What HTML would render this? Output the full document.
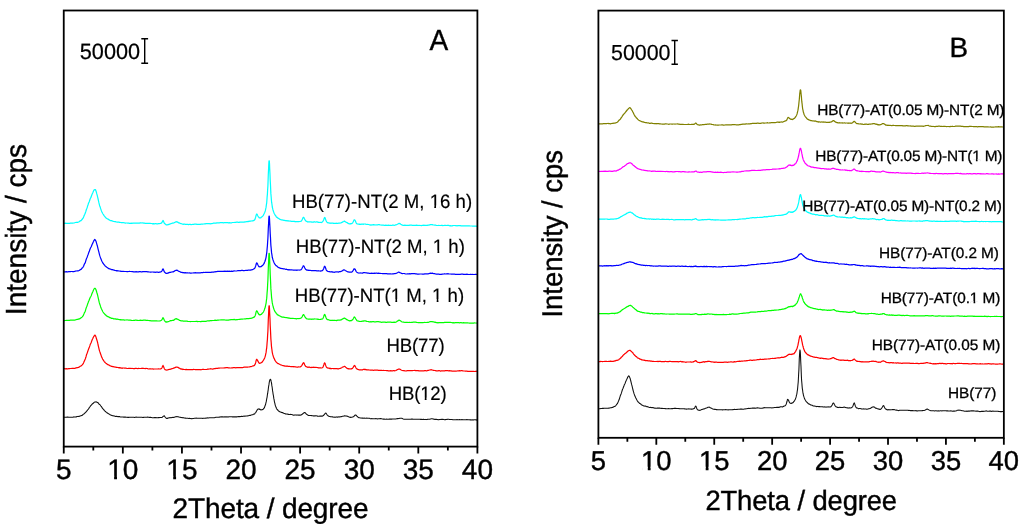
<!DOCTYPE html>
<html lang="en">
<head>
<meta charset="utf-8">
<title>XRD patterns</title>
<style>
html,body{margin:0;padding:0;background:#fff;}
body{width:1024px;height:528px;overflow:hidden;font-family:"Liberation Sans",sans-serif;}
svg{display:block;will-change:transform;}
svg text{font-family:"Liberation Sans",sans-serif;fill:#000;text-rendering:geometricPrecision;}
</style>
</head>
<body>
<svg width="1024" height="528" viewBox="0 0 1024 528">
<rect width="1024" height="528" fill="#fff"/>
<g id="panelA">
<path d="M63.8 417.2 L64.6 417.2 L65.4 417.2 L66.2 417.2 L67.1 417.1 L67.9 417.1 L68.7 417.2 L69.5 417.2 L70.4 417.3 L71.2 417.2 L72.0 417.2 L72.9 417.2 L73.7 416.9 L74.5 417.0 L75.3 417.0 L76.2 416.9 L76.6 416.7 L77.0 416.5 L77.4 416.5 L77.8 416.4 L78.2 416.5 L78.6 416.4 L79.1 416.4 L79.5 416.2 L79.9 416.1 L80.3 416.0 L80.7 415.8 L81.1 415.8 L81.5 415.6 L82.0 415.5 L82.4 415.1 L82.8 414.7 L83.2 414.4 L83.6 414.1 L84.0 413.9 L84.4 413.6 L84.8 413.1 L85.3 412.6 L85.7 412.2 L86.1 411.9 L86.5 411.3 L86.9 410.9 L87.3 410.4 L87.7 409.7 L88.2 409.3 L88.6 408.9 L89.0 408.1 L89.4 407.5 L89.8 407.0 L90.2 406.4 L90.6 405.9 L91.1 405.4 L91.5 404.7 L91.9 404.4 L92.3 404.0 L92.7 403.6 L93.1 403.4 L93.5 403.0 L93.9 402.6 L94.4 402.2 L94.8 402.1 L95.2 402.0 L95.6 401.9 L96.0 401.8 L96.4 401.9 L96.8 402.1 L97.3 402.5 L97.7 402.5 L98.1 402.8 L98.5 403.3 L98.9 403.9 L99.3 404.4 L99.7 404.6 L100.2 404.9 L100.6 405.6 L101.0 406.1 L101.4 406.5 L101.8 407.2 L102.2 407.9 L102.6 408.4 L103.0 408.9 L103.5 409.4 L103.9 409.9 L104.3 410.4 L104.7 410.8 L105.1 411.2 L105.5 411.4 L105.9 411.9 L106.4 412.4 L106.8 412.7 L107.2 412.8 L107.6 413.1 L108.0 413.5 L108.4 413.6 L108.8 413.9 L109.3 414.3 L109.7 414.3 L110.1 414.7 L110.5 415.0 L110.9 415.1 L111.3 415.2 L111.7 415.4 L112.1 415.5 L112.6 415.8 L113.0 415.7 L113.4 415.8 L113.8 416.0 L114.2 416.1 L114.6 416.0 L115.0 416.2 L115.5 416.4 L115.9 416.4 L116.3 416.3 L116.7 416.4 L117.1 416.4 L117.5 416.5 L117.9 416.7 L118.4 416.6 L118.8 416.8 L119.2 416.6 L119.6 416.6 L120.0 416.8 L120.4 416.9 L120.8 417.0 L121.2 417.0 L121.7 417.0 L122.1 417.0 L122.5 417.0 L122.9 417.0 L123.7 417.1 L124.6 417.1 L125.4 417.1 L126.2 417.2 L127.0 417.3 L127.9 417.4 L128.7 417.4 L129.5 417.3 L130.3 417.2 L131.2 417.2 L132.0 417.3 L132.8 417.3 L133.7 417.3 L134.5 417.5 L135.3 417.2 L136.1 417.1 L137.0 417.2 L137.8 417.3 L138.6 417.3 L139.4 417.2 L140.3 417.3 L141.1 417.3 L141.9 417.2 L142.8 417.5 L143.6 417.4 L144.4 417.3 L145.2 417.3 L146.1 417.3 L146.9 417.3 L147.7 417.1 L148.5 417.2 L149.4 417.4 L150.2 417.3 L151.0 417.4 L151.9 417.6 L152.7 417.7 L153.5 417.8 L154.3 417.6 L155.2 417.6 L156.0 417.6 L156.8 417.7 L157.6 417.8 L158.5 417.5 L158.9 417.7 L159.3 417.5 L159.7 417.6 L160.1 417.5 L160.5 417.5 L161.0 417.6 L161.4 417.5 L161.8 417.4 L162.2 417.3 L162.6 417.0 L163.0 416.5 L163.4 416.2 L163.9 415.9 L164.3 415.8 L164.7 416.6 L165.1 416.9 L165.5 417.6 L165.9 417.9 L166.3 418.2 L166.7 418.4 L167.2 418.4 L167.6 418.4 L168.0 418.1 L168.4 417.9 L168.8 418.0 L169.2 417.8 L169.6 417.7 L170.1 417.5 L170.5 417.7 L170.9 417.7 L171.3 417.8 L171.7 417.6 L172.1 417.5 L172.5 417.4 L173.0 417.4 L173.4 417.5 L173.8 417.3 L174.2 417.3 L174.6 417.3 L175.0 417.1 L175.4 416.7 L175.8 416.8 L176.3 416.7 L176.7 416.6 L177.1 416.6 L177.5 416.7 L177.9 416.8 L178.3 416.7 L178.7 416.9 L179.2 417.1 L179.6 417.2 L180.0 417.2 L180.4 417.2 L180.8 417.4 L181.2 417.5 L181.6 417.6 L182.1 417.8 L182.5 417.8 L182.9 417.6 L183.3 417.7 L183.7 417.7 L184.1 417.9 L184.5 418.0 L185.4 418.1 L186.2 418.2 L187.0 418.3 L187.8 418.3 L188.7 418.5 L189.5 418.4 L190.3 418.5 L191.2 418.6 L192.0 418.7 L192.8 418.5 L193.6 418.5 L194.5 418.3 L195.3 418.2 L196.1 418.1 L196.9 418.3 L197.8 418.2 L198.6 418.2 L199.4 418.2 L200.3 418.2 L201.1 418.2 L201.9 418.2 L202.7 418.4 L203.6 418.3 L204.4 418.3 L205.2 418.3 L206.0 418.1 L206.9 418.0 L207.7 417.9 L208.5 418.0 L209.4 417.8 L210.2 417.7 L211.0 417.8 L211.8 417.8 L212.7 417.8 L213.5 417.8 L214.3 417.7 L215.1 417.5 L216.0 417.3 L216.8 417.2 L217.6 417.3 L218.5 417.2 L219.3 417.1 L220.1 417.0 L220.9 416.9 L221.8 416.9 L222.6 416.9 L223.4 417.0 L224.2 416.7 L225.1 416.9 L225.9 416.9 L226.7 416.7 L227.6 416.9 L228.4 416.9 L229.2 416.7 L230.0 416.7 L230.9 416.8 L231.7 416.8 L232.5 416.9 L233.3 416.9 L234.2 416.9 L235.0 416.9 L235.8 416.9 L236.7 416.9 L237.5 416.8 L238.3 416.5 L239.1 416.6 L240.0 416.6 L240.8 416.5 L241.6 416.3 L242.4 416.5 L243.3 416.2 L244.1 416.1 L244.9 416.3 L245.8 416.0 L246.6 416.0 L247.4 416.0 L247.8 415.8 L248.2 415.8 L248.7 415.7 L249.1 415.5 L249.5 415.4 L249.9 415.4 L250.3 415.4 L250.7 415.2 L251.1 415.1 L251.5 414.9 L252.0 414.8 L252.4 414.8 L252.8 414.7 L253.2 414.4 L253.6 414.1 L254.0 414.2 L254.4 414.0 L254.7 413.8 L254.9 413.2 L255.2 413.1 L255.4 412.9 L255.6 412.7 L255.9 412.3 L256.1 411.9 L256.3 411.6 L256.6 410.9 L256.8 410.7 L257.0 410.3 L257.3 409.8 L257.5 409.6 L257.8 409.5 L258.0 409.1 L258.2 408.9 L258.5 409.0 L258.7 409.0 L258.9 409.0 L259.2 408.9 L259.4 409.3 L259.6 409.4 L259.9 409.3 L260.1 409.3 L260.4 409.6 L260.6 409.8 L260.8 409.9 L261.1 410.0 L261.3 409.8 L261.5 409.8 L261.8 409.6 L262.0 409.6 L262.2 409.6 L262.5 409.6 L262.7 409.4 L263.0 409.3 L263.2 409.2 L263.4 409.0 L263.7 408.7 L263.9 408.4 L264.1 408.0 L264.4 407.6 L264.6 407.1 L264.8 406.4 L265.1 405.8 L265.3 405.1 L265.6 404.3 L265.8 403.4 L266.0 402.5 L266.3 401.4 L266.5 400.2 L266.7 398.9 L267.0 397.6 L267.2 396.3 L267.4 394.8 L267.7 393.2 L267.9 391.6 L268.2 389.8 L268.4 388.0 L268.6 386.5 L268.9 384.9 L269.1 383.5 L269.3 382.1 L269.6 380.8 L269.8 380.0 L270.0 379.7 L270.3 379.4 L270.5 379.4 L270.8 379.8 L271.0 380.6 L271.2 381.7 L271.5 382.9 L271.7 384.4 L271.9 385.9 L272.2 387.5 L272.4 389.1 L272.6 390.9 L272.9 392.5 L273.1 394.1 L273.4 395.5 L273.6 396.9 L273.8 398.4 L274.1 399.6 L274.3 401.0 L274.5 402.1 L274.8 403.2 L275.0 404.0 L275.2 405.1 L275.5 405.9 L275.7 406.5 L276.0 407.0 L276.2 407.8 L276.4 408.2 L276.7 408.7 L276.9 409.1 L277.1 409.4 L277.4 409.5 L277.6 409.9 L277.8 410.2 L278.1 410.5 L278.3 410.8 L278.6 410.9 L278.8 411.2 L279.0 411.3 L279.3 411.5 L279.5 411.6 L279.7 411.7 L280.0 411.9 L280.4 412.0 L280.8 412.1 L281.2 412.4 L281.6 412.4 L282.0 412.6 L282.5 412.6 L282.9 412.8 L283.3 413.1 L283.7 413.3 L284.1 413.4 L284.5 413.5 L284.9 413.5 L285.3 413.9 L285.8 414.0 L286.2 414.1 L286.6 414.0 L287.0 414.1 L287.4 414.0 L287.8 414.2 L288.2 414.4 L288.7 414.3 L289.1 414.4 L289.5 414.5 L289.9 414.4 L290.3 414.3 L290.7 414.4 L291.1 414.5 L291.6 414.5 L292.0 414.6 L292.4 414.8 L292.8 414.9 L293.2 415.0 L293.6 415.2 L294.0 415.2 L294.4 415.0 L294.9 415.0 L295.3 415.0 L295.7 414.9 L296.1 415.0 L296.5 415.1 L296.9 415.2 L297.3 415.0 L297.8 415.0 L298.2 415.1 L298.6 415.1 L299.0 415.1 L299.4 415.1 L299.8 415.1 L300.2 415.1 L300.7 415.1 L301.1 415.0 L301.5 414.8 L301.9 414.6 L302.3 414.1 L302.7 413.8 L303.1 413.5 L303.5 413.1 L304.0 412.8 L304.4 412.6 L304.8 412.5 L305.2 412.8 L305.6 413.2 L306.0 413.7 L306.4 414.2 L306.9 414.6 L307.3 414.8 L307.7 415.0 L308.1 415.2 L308.5 415.4 L308.9 415.5 L309.3 415.5 L309.8 415.4 L310.2 415.5 L310.6 415.5 L311.0 415.5 L311.4 415.6 L311.8 415.6 L312.2 415.7 L312.6 415.7 L313.1 415.7 L313.5 416.0 L313.9 415.9 L314.3 415.9 L314.7 415.9 L315.1 416.0 L315.5 415.7 L316.0 415.7 L316.4 415.8 L316.8 415.9 L317.2 416.1 L317.6 416.1 L318.0 416.2 L318.4 416.2 L318.9 416.2 L319.3 416.2 L319.7 416.1 L320.1 416.2 L320.5 416.0 L320.9 416.2 L321.3 416.0 L321.7 416.0 L322.2 416.2 L322.6 416.0 L323.0 415.8 L323.4 415.6 L323.8 415.2 L324.2 414.6 L324.6 414.1 L325.1 413.6 L325.5 413.2 L325.9 413.0 L326.3 413.5 L326.7 414.2 L327.1 414.8 L327.5 415.3 L328.0 415.6 L328.4 416.1 L328.8 416.2 L329.2 416.4 L329.6 416.5 L330.0 416.5 L330.4 416.7 L330.8 416.8 L331.3 416.8 L331.7 416.8 L332.1 416.9 L332.5 416.9 L332.9 416.9 L333.3 417.1 L333.7 417.2 L334.2 417.1 L334.6 417.3 L335.0 417.2 L335.4 417.2 L335.8 417.1 L336.2 417.1 L336.6 416.9 L337.1 417.1 L337.5 417.3 L337.9 417.1 L338.3 416.9 L338.7 416.8 L339.1 417.0 L339.5 416.9 L340.0 416.9 L340.4 416.8 L340.8 416.8 L341.2 416.6 L341.6 416.6 L342.0 416.4 L342.4 416.3 L342.8 416.3 L343.3 416.2 L343.7 416.1 L344.1 415.9 L344.5 415.9 L344.9 415.8 L345.3 416.0 L345.7 416.0 L346.2 416.0 L346.6 416.1 L347.0 416.1 L347.4 416.2 L347.8 416.4 L348.2 416.6 L348.6 416.8 L349.1 417.0 L349.5 417.2 L349.9 417.2 L350.3 417.2 L350.7 417.5 L351.1 417.2 L351.5 417.2 L351.9 417.2 L352.4 417.1 L352.8 417.0 L353.2 416.7 L353.6 416.5 L354.0 416.2 L354.4 415.9 L354.8 415.3 L355.3 415.1 L355.7 415.1 L356.1 415.3 L356.5 415.6 L356.9 416.1 L357.3 416.5 L357.7 416.9 L358.2 417.3 L358.6 417.5 L359.0 417.8 L359.4 417.8 L359.8 417.8 L360.2 417.9 L360.6 418.0 L361.0 418.0 L361.5 418.1 L361.9 418.2 L362.3 418.1 L362.7 418.1 L363.1 418.3 L363.5 418.2 L363.9 418.1 L364.4 418.1 L364.8 418.2 L365.2 418.2 L366.0 418.2 L366.8 418.1 L367.7 418.2 L368.5 418.3 L369.3 418.3 L370.1 418.6 L371.0 418.7 L371.8 418.6 L372.6 418.7 L373.5 418.7 L374.3 418.8 L375.1 418.8 L375.9 418.6 L376.8 418.7 L377.6 418.9 L378.4 418.8 L379.2 418.7 L380.1 418.6 L380.9 418.6 L381.7 418.8 L382.6 419.0 L383.4 419.1 L384.2 419.1 L385.0 419.3 L385.9 419.2 L386.7 419.1 L387.5 419.2 L388.3 419.2 L389.2 419.1 L390.0 419.0 L390.8 419.1 L391.7 419.1 L392.5 419.0 L393.3 419.0 L394.1 419.0 L395.0 419.0 L395.8 419.0 L396.6 418.8 L397.4 418.6 L398.3 418.6 L399.1 418.4 L399.9 418.2 L400.8 418.3 L401.6 418.3 L402.4 418.6 L403.2 418.9 L404.1 419.2 L404.9 419.2 L405.7 419.2 L406.5 419.3 L407.4 419.2 L408.2 419.2 L409.0 419.2 L409.9 419.3 L410.7 419.2 L411.5 419.0 L412.3 419.1 L413.2 419.2 L414.0 419.2 L414.8 419.3 L415.6 419.3 L416.5 419.2 L417.3 419.3 L418.1 419.2 L419.0 419.2 L419.8 419.3 L420.6 419.4 L421.4 419.4 L422.3 419.5 L423.1 419.4 L423.9 419.4 L424.7 419.6 L425.6 419.4 L426.4 419.6 L427.2 419.4 L428.1 419.3 L428.9 419.2 L429.7 419.2 L430.5 418.9 L431.4 418.7 L432.2 418.8 L433.0 419.0 L433.8 419.1 L434.7 419.4 L435.5 419.4 L436.3 419.4 L437.2 419.5 L438.0 419.6 L438.8 419.7 L439.6 419.5 L440.5 419.5 L441.3 419.2 L442.1 419.4 L442.9 419.4 L443.8 419.5 L444.6 419.7 L445.4 419.6 L446.3 419.5 L447.1 419.4 L447.9 419.3 L448.7 419.3 L449.6 419.5 L450.4 419.5 L451.2 419.5 L452.0 419.5 L452.9 419.7 L453.7 419.7 L454.5 419.7 L455.4 419.8 L456.2 419.7 L457.0 419.6 L457.8 419.8 L458.7 419.8 L459.5 419.6 L460.3 419.7 L461.1 419.7 L462.0 419.5 L462.8 419.7 L463.6 419.8 L464.5 419.8 L465.3 419.8 L466.1 419.8 L466.9 419.6 L467.8 419.8 L468.6 419.8 L469.4 419.8 L470.2 419.9 L471.1 419.9 L471.9 420.0 L472.7 419.9 L473.6 419.9 L474.4 419.7 L475.2 419.8 L476.0 419.9 L477.4 420.1" fill="none" stroke="#111111" stroke-width="1.07" stroke-linejoin="round"/>
<path d="M63.8 368.7 L64.6 368.7 L65.4 368.8 L66.2 368.7 L67.1 368.8 L67.9 368.8 L68.7 368.7 L69.5 368.7 L70.4 368.5 L71.2 368.5 L72.0 368.4 L72.9 368.4 L73.7 368.4 L74.5 368.5 L75.3 368.1 L76.2 367.8 L76.6 367.8 L77.0 367.6 L77.4 367.6 L77.8 367.6 L78.2 367.5 L78.6 367.4 L79.1 367.0 L79.5 366.9 L79.9 366.5 L80.3 366.2 L80.7 366.0 L81.1 365.9 L81.5 365.6 L82.0 365.1 L82.4 364.5 L82.8 364.1 L83.2 363.7 L83.6 362.8 L84.0 361.8 L84.4 360.9 L84.8 360.0 L85.3 358.9 L85.7 357.8 L86.1 356.4 L86.5 354.8 L86.9 353.8 L87.3 352.7 L87.7 351.5 L88.2 350.1 L88.6 349.0 L89.0 348.0 L89.4 347.0 L89.8 345.9 L90.2 344.6 L90.6 343.7 L91.1 342.8 L91.5 341.6 L91.9 340.5 L92.3 339.5 L92.7 338.8 L93.1 337.8 L93.5 337.0 L93.9 336.2 L94.4 335.7 L94.8 335.1 L95.2 335.3 L95.6 336.0 L96.0 337.1 L96.4 338.5 L96.8 339.8 L97.3 341.4 L97.7 343.0 L98.1 345.0 L98.5 346.7 L98.9 348.4 L99.3 350.1 L99.7 351.4 L100.2 352.8 L100.6 354.1 L101.0 355.1 L101.4 356.2 L101.8 357.4 L102.2 358.0 L102.6 358.9 L103.0 359.7 L103.5 360.4 L103.9 361.0 L104.3 361.6 L104.7 362.0 L105.1 362.5 L105.5 362.9 L105.9 363.3 L106.4 363.5 L106.8 363.8 L107.2 364.3 L107.6 364.6 L108.0 364.7 L108.4 364.8 L108.8 365.0 L109.3 365.3 L109.7 365.6 L110.1 365.8 L110.5 365.9 L110.9 366.0 L111.3 366.3 L111.7 366.3 L112.1 366.4 L112.6 366.6 L113.0 366.7 L113.4 366.7 L113.8 366.8 L114.2 366.8 L114.6 367.0 L115.0 367.1 L115.5 367.1 L115.9 367.2 L116.3 367.3 L116.7 367.3 L117.1 367.4 L117.5 367.5 L117.9 367.5 L118.4 367.6 L118.8 367.8 L119.2 367.7 L119.6 367.8 L120.0 367.7 L120.4 368.0 L120.8 367.9 L121.2 368.1 L121.7 368.0 L122.1 368.1 L122.5 368.3 L122.9 368.0 L123.7 368.0 L124.6 368.2 L125.4 368.2 L126.2 368.2 L127.0 368.5 L127.9 368.5 L128.7 368.3 L129.5 368.4 L130.3 368.3 L131.2 368.5 L132.0 368.4 L132.8 368.5 L133.7 368.6 L134.5 368.6 L135.3 368.4 L136.1 368.3 L137.0 368.5 L137.8 368.6 L138.6 368.4 L139.4 368.5 L140.3 368.5 L141.1 368.5 L141.9 368.2 L142.8 368.3 L143.6 368.4 L144.4 368.5 L145.2 368.6 L146.1 368.4 L146.9 368.5 L147.7 368.7 L148.5 369.0 L149.4 368.8 L150.2 368.8 L151.0 368.9 L151.9 369.0 L152.7 368.9 L153.5 369.1 L154.3 369.0 L155.2 369.0 L156.0 369.0 L156.8 369.0 L157.6 369.0 L158.5 368.8 L158.9 369.0 L159.3 369.0 L159.7 369.0 L160.1 368.9 L160.5 369.0 L161.0 368.7 L161.4 368.5 L161.8 368.1 L162.2 367.3 L162.6 366.2 L163.0 365.4 L163.4 366.3 L163.9 367.5 L164.3 368.5 L164.7 369.1 L165.1 369.6 L165.5 369.8 L165.9 369.9 L166.3 370.0 L166.7 370.1 L167.2 370.0 L167.6 369.9 L168.0 369.8 L168.4 369.6 L168.8 369.5 L169.2 369.3 L169.6 369.3 L170.1 369.3 L170.5 369.2 L170.9 369.0 L171.3 368.9 L171.7 368.9 L172.1 368.6 L172.5 368.5 L173.0 368.4 L173.4 368.2 L173.8 368.1 L174.2 367.9 L174.6 367.8 L175.0 367.6 L175.4 367.4 L175.8 367.2 L176.3 367.1 L176.7 367.1 L177.1 367.1 L177.5 367.3 L177.9 367.3 L178.3 367.6 L178.7 367.9 L179.2 368.1 L179.6 368.3 L180.0 368.6 L180.4 368.8 L180.8 369.1 L181.2 368.9 L181.6 369.1 L182.1 369.0 L182.5 369.3 L182.9 369.6 L183.3 369.3 L183.7 369.4 L184.1 369.5 L184.5 369.5 L185.4 369.6 L186.2 369.4 L187.0 369.6 L187.8 369.7 L188.7 369.7 L189.5 369.6 L190.3 369.7 L191.2 369.7 L192.0 369.7 L192.8 369.6 L193.6 369.4 L194.5 369.5 L195.3 369.6 L196.1 369.7 L196.9 369.6 L197.8 369.6 L198.6 369.6 L199.4 369.6 L200.3 369.7 L201.1 369.8 L201.9 369.5 L202.7 369.3 L203.6 369.4 L204.4 369.5 L205.2 369.5 L206.0 369.5 L206.9 369.3 L207.7 369.1 L208.5 369.2 L209.4 369.0 L210.2 368.8 L211.0 368.7 L211.8 369.0 L212.7 369.1 L213.5 368.8 L214.3 368.6 L215.1 368.6 L216.0 368.4 L216.8 368.4 L217.6 368.3 L218.5 368.1 L219.3 368.2 L220.1 368.0 L220.9 368.0 L221.8 368.0 L222.6 368.0 L223.4 368.0 L224.2 367.9 L225.1 367.8 L225.9 367.7 L226.7 367.7 L227.6 367.7 L228.4 367.8 L229.2 367.9 L230.0 368.0 L230.9 368.0 L231.7 367.9 L232.5 367.8 L233.3 367.6 L234.2 367.6 L235.0 367.7 L235.8 367.8 L236.7 367.7 L237.5 367.6 L238.3 367.7 L239.1 367.6 L240.0 367.6 L240.8 367.6 L241.6 367.5 L242.4 367.6 L243.3 367.4 L244.1 367.2 L244.9 367.1 L245.8 367.0 L246.6 367.1 L247.4 367.2 L247.8 367.1 L248.2 367.0 L248.7 367.0 L249.1 367.0 L249.5 367.0 L249.9 366.7 L250.3 366.5 L250.7 366.5 L251.1 366.6 L251.5 366.5 L252.0 366.3 L252.4 366.1 L252.8 366.0 L253.2 365.8 L253.4 365.9 L253.7 365.7 L253.9 365.6 L254.1 365.6 L254.4 365.5 L254.6 365.1 L254.9 364.7 L255.1 364.2 L255.3 363.7 L255.6 362.9 L255.8 362.1 L256.0 361.0 L256.3 360.1 L256.5 359.4 L256.7 359.3 L257.0 359.6 L257.2 359.7 L257.5 360.2 L257.7 360.7 L257.9 361.2 L258.2 361.6 L258.4 362.1 L258.6 362.6 L258.9 362.9 L259.1 363.1 L259.3 363.0 L259.6 363.3 L259.8 363.3 L260.1 363.2 L260.3 363.1 L260.5 363.0 L260.8 362.9 L261.0 362.8 L261.2 362.8 L261.5 362.6 L261.7 362.4 L261.9 362.2 L262.2 362.1 L262.4 361.8 L262.7 361.3 L262.9 361.1 L263.1 360.7 L263.4 360.3 L263.6 360.0 L263.8 359.7 L264.1 359.1 L264.3 358.7 L264.5 358.3 L264.8 357.7 L265.0 356.9 L265.3 356.1 L265.5 355.1 L265.7 354.1 L266.0 352.9 L266.2 351.5 L266.4 349.6 L266.7 347.8 L266.9 345.5 L267.1 342.8 L267.4 339.5 L267.6 335.6 L267.9 331.2 L268.1 325.6 L268.3 319.7 L268.6 313.7 L268.8 308.7 L269.0 305.8 L269.3 305.9 L269.5 308.7 L269.7 313.5 L270.0 319.2 L270.2 325.2 L270.5 330.5 L270.7 335.1 L270.9 339.1 L271.2 342.5 L271.4 345.4 L271.6 347.7 L271.9 349.5 L272.1 351.1 L272.3 352.6 L272.6 353.8 L272.8 354.7 L273.1 355.6 L273.3 356.4 L273.5 357.1 L273.8 357.7 L274.0 358.2 L274.2 358.7 L274.5 359.1 L274.7 359.8 L274.9 360.2 L275.2 360.5 L275.4 361.0 L275.7 361.4 L275.9 361.4 L276.1 361.9 L276.4 362.2 L276.6 362.6 L276.8 362.6 L277.1 362.9 L277.3 363.1 L277.5 363.2 L277.8 363.4 L278.0 363.6 L278.3 363.6 L278.5 363.6 L278.7 363.7 L279.1 364.0 L279.6 364.2 L280.0 364.5 L280.4 364.7 L280.8 364.9 L281.2 365.0 L281.6 365.1 L282.0 365.3 L282.5 365.5 L282.9 365.6 L283.3 365.6 L283.7 365.8 L284.1 365.8 L284.5 365.9 L284.9 366.1 L285.3 366.1 L285.8 366.2 L286.2 366.1 L286.6 366.2 L287.0 366.3 L287.4 366.1 L287.8 366.3 L288.2 366.3 L288.7 366.5 L289.1 366.4 L289.5 366.4 L289.9 366.5 L290.3 366.5 L290.7 366.6 L291.1 366.6 L291.6 366.7 L292.0 366.7 L292.4 366.7 L292.8 366.5 L293.2 366.7 L293.6 366.8 L294.0 366.6 L294.4 366.7 L294.9 366.8 L295.3 366.9 L295.7 366.8 L296.1 367.0 L296.5 367.0 L296.9 367.2 L297.3 367.1 L297.8 367.1 L298.2 367.0 L298.6 366.8 L299.0 366.9 L299.4 367.0 L299.8 367.0 L300.2 366.9 L300.7 366.7 L301.1 366.2 L301.5 365.9 L301.9 365.3 L302.3 364.6 L302.7 363.9 L303.1 363.1 L303.5 362.7 L304.0 363.1 L304.4 364.0 L304.8 364.9 L305.2 365.7 L305.6 366.3 L306.0 366.6 L306.4 366.7 L306.9 367.0 L307.3 367.1 L307.7 367.3 L308.1 367.2 L308.5 367.2 L308.9 367.3 L309.3 367.2 L309.8 367.2 L310.2 367.4 L310.6 367.5 L311.0 367.6 L311.4 367.4 L311.8 367.3 L312.2 367.3 L312.6 367.4 L313.1 367.4 L313.5 367.2 L313.9 367.3 L314.3 367.4 L314.7 367.4 L315.1 367.4 L315.5 367.4 L316.0 367.5 L316.4 367.5 L316.8 367.4 L317.2 367.5 L317.6 367.6 L318.0 367.7 L318.4 367.8 L318.9 367.8 L319.3 367.8 L319.7 367.8 L320.1 367.8 L320.5 368.0 L320.9 367.9 L321.3 368.0 L321.7 368.0 L322.2 367.8 L322.6 367.5 L323.0 367.1 L323.4 366.1 L323.8 364.9 L324.2 363.5 L324.6 362.8 L325.1 363.4 L325.5 364.7 L325.9 365.9 L326.3 366.8 L326.7 367.4 L327.1 367.6 L327.5 368.0 L328.0 368.1 L328.4 368.1 L328.8 368.1 L329.2 368.2 L329.6 368.4 L330.0 368.6 L330.4 368.4 L330.8 368.6 L331.3 368.7 L331.7 368.6 L332.1 368.5 L332.5 368.5 L332.9 368.5 L333.3 368.6 L333.7 368.6 L334.2 368.5 L334.6 368.6 L335.0 368.5 L335.4 368.7 L335.8 368.6 L336.2 368.6 L336.6 368.6 L337.1 368.6 L337.5 368.8 L337.9 368.9 L338.3 368.9 L338.7 368.8 L339.1 368.6 L339.5 368.5 L340.0 368.4 L340.4 368.3 L340.8 368.2 L341.2 368.0 L341.6 367.8 L342.0 367.5 L342.4 367.1 L342.8 367.0 L343.3 366.9 L343.7 366.7 L344.1 366.5 L344.5 366.3 L344.9 366.5 L345.3 366.9 L345.7 367.3 L346.2 367.6 L346.6 368.0 L347.0 368.3 L347.4 368.4 L347.8 368.7 L348.2 368.8 L348.6 368.7 L349.1 368.8 L349.5 368.8 L349.9 368.9 L350.3 369.0 L350.7 368.9 L351.1 368.7 L351.5 368.8 L351.9 368.7 L352.4 368.5 L352.8 367.8 L353.2 367.3 L353.6 366.7 L354.0 366.0 L354.4 365.5 L354.8 365.7 L355.3 366.4 L355.7 367.3 L356.1 368.1 L356.5 368.6 L356.9 368.8 L357.3 369.2 L357.7 369.3 L358.2 369.5 L358.6 369.6 L359.0 369.8 L359.4 369.9 L359.8 369.8 L360.2 369.8 L360.6 370.0 L361.0 369.8 L361.5 369.8 L361.9 369.9 L362.3 369.9 L362.7 369.8 L363.1 369.5 L363.5 369.3 L363.9 369.3 L364.4 369.4 L364.8 369.6 L365.2 369.4 L366.0 369.6 L366.8 369.9 L367.7 369.8 L368.5 369.9 L369.3 370.0 L370.1 370.1 L371.0 370.1 L371.8 370.2 L372.6 370.2 L373.5 370.3 L374.3 370.2 L375.1 370.1 L375.9 370.2 L376.8 370.1 L377.6 370.1 L378.4 370.3 L379.2 370.3 L380.1 370.3 L380.9 370.4 L381.7 370.4 L382.6 370.5 L383.4 370.4 L384.2 370.5 L385.0 370.5 L385.9 370.5 L386.7 370.7 L387.5 370.6 L388.3 370.8 L389.2 370.8 L390.0 370.9 L390.8 370.7 L391.7 370.8 L392.5 370.8 L393.3 370.7 L394.1 370.6 L395.0 370.8 L395.8 370.5 L396.6 370.1 L397.4 369.6 L398.3 369.2 L399.1 369.0 L399.9 369.2 L400.8 369.8 L401.6 370.2 L402.4 370.5 L403.2 370.7 L404.1 370.7 L404.9 370.8 L405.7 371.0 L406.5 370.8 L407.4 370.7 L408.2 370.6 L409.0 370.5 L409.9 370.6 L410.7 370.5 L411.5 370.6 L412.3 370.7 L413.2 370.5 L414.0 370.5 L414.8 370.4 L415.6 370.6 L416.5 370.6 L417.3 370.7 L418.1 370.7 L419.0 370.9 L419.8 370.8 L420.6 370.9 L421.4 370.8 L422.3 370.9 L423.1 370.8 L423.9 370.8 L424.7 370.6 L425.6 370.6 L426.4 370.8 L427.2 370.7 L428.1 370.4 L428.9 370.3 L429.7 370.0 L430.5 369.8 L431.4 369.7 L432.2 370.0 L433.0 370.3 L433.8 370.4 L434.7 370.5 L435.5 370.6 L436.3 370.9 L437.2 370.9 L438.0 370.9 L438.8 370.7 L439.6 370.7 L440.5 371.1 L441.3 370.9 L442.1 370.9 L442.9 370.9 L443.8 370.9 L444.6 370.8 L445.4 370.6 L446.3 370.5 L447.1 370.7 L447.9 370.7 L448.7 370.8 L449.6 370.7 L450.4 370.8 L451.2 370.9 L452.0 371.1 L452.9 371.0 L453.7 371.1 L454.5 371.2 L455.4 371.1 L456.2 371.1 L457.0 371.0 L457.8 370.9 L458.7 370.9 L459.5 370.7 L460.3 370.8 L461.1 370.7 L462.0 370.7 L462.8 370.8 L463.6 371.0 L464.5 371.0 L465.3 371.2 L466.1 371.1 L466.9 371.1 L467.8 371.3 L468.6 371.3 L469.4 371.4 L470.2 371.3 L471.1 371.4 L471.9 371.4 L472.7 371.4 L473.6 371.4 L474.4 371.5 L475.2 371.4 L476.0 371.3 L477.4 371.2" fill="none" stroke="#ff0000" stroke-width="1.22" stroke-linejoin="round"/>
<path d="M63.8 320.7 L64.6 320.6 L65.4 320.5 L66.2 320.4 L67.1 320.4 L67.9 320.3 L68.7 320.3 L69.5 320.3 L70.4 320.2 L71.2 320.1 L72.0 320.2 L72.9 320.1 L73.7 320.1 L74.5 320.1 L75.3 320.0 L76.2 319.6 L76.6 319.5 L77.0 319.4 L77.4 319.5 L77.8 319.3 L78.2 319.2 L78.6 319.1 L79.1 318.9 L79.5 318.9 L79.9 318.6 L80.3 318.4 L80.7 318.1 L81.1 317.8 L81.5 317.6 L82.0 317.1 L82.4 316.6 L82.8 316.1 L83.2 315.7 L83.6 314.7 L84.0 313.8 L84.4 312.8 L84.8 312.1 L85.3 311.2 L85.7 309.6 L86.1 308.2 L86.5 307.1 L86.9 306.2 L87.3 305.1 L87.7 303.8 L88.2 302.5 L88.6 301.3 L89.0 300.6 L89.4 299.6 L89.8 298.6 L90.2 297.4 L90.6 296.8 L91.1 296.0 L91.5 294.9 L91.9 293.8 L92.3 292.7 L92.7 291.9 L93.1 290.9 L93.5 290.1 L93.9 289.2 L94.4 288.6 L94.8 288.3 L95.2 288.4 L95.6 288.9 L96.0 289.7 L96.4 291.0 L96.8 292.5 L97.3 294.0 L97.7 295.7 L98.1 297.3 L98.5 299.2 L98.9 300.9 L99.3 302.7 L99.7 304.1 L100.2 305.3 L100.6 306.7 L101.0 307.7 L101.4 308.7 L101.8 309.6 L102.2 310.3 L102.6 311.3 L103.0 312.0 L103.5 312.7 L103.9 313.2 L104.3 313.6 L104.7 314.0 L105.1 314.6 L105.5 314.8 L105.9 315.2 L106.4 315.7 L106.8 316.1 L107.2 316.2 L107.6 316.6 L108.0 316.7 L108.4 316.8 L108.8 316.9 L109.3 317.3 L109.7 317.7 L110.1 317.7 L110.5 317.8 L110.9 317.9 L111.3 318.3 L111.7 318.4 L112.1 318.4 L112.6 318.3 L113.0 318.4 L113.4 318.7 L113.8 319.0 L114.2 318.9 L114.6 318.9 L115.0 318.9 L115.5 318.9 L115.9 319.1 L116.3 319.1 L116.7 319.3 L117.1 319.2 L117.5 319.2 L117.9 319.3 L118.4 319.4 L118.8 319.5 L119.2 319.6 L119.6 319.5 L120.0 319.7 L120.4 319.8 L120.8 319.6 L121.2 319.9 L121.7 319.9 L122.1 320.0 L122.5 319.8 L122.9 319.8 L123.7 319.9 L124.6 320.1 L125.4 320.0 L126.2 320.0 L127.0 319.9 L127.9 320.0 L128.7 320.2 L129.5 320.1 L130.3 320.1 L131.2 320.3 L132.0 320.5 L132.8 320.5 L133.7 320.4 L134.5 320.3 L135.3 320.2 L136.1 320.2 L137.0 320.3 L137.8 320.3 L138.6 320.5 L139.4 320.4 L140.3 320.2 L141.1 320.4 L141.9 320.4 L142.8 320.4 L143.6 320.2 L144.4 320.1 L145.2 320.1 L146.1 320.3 L146.9 320.3 L147.7 320.3 L148.5 320.5 L149.4 320.6 L150.2 320.7 L151.0 320.8 L151.9 320.9 L152.7 320.8 L153.5 320.9 L154.3 320.8 L155.2 320.9 L156.0 320.9 L156.8 320.9 L157.6 321.0 L158.5 321.0 L158.9 321.0 L159.3 321.0 L159.7 321.0 L160.1 320.8 L160.5 320.7 L161.0 320.5 L161.4 320.3 L161.8 319.8 L162.2 319.4 L162.6 318.3 L163.0 317.7 L163.4 318.2 L163.9 319.3 L164.3 320.2 L164.7 320.9 L165.1 321.3 L165.5 321.8 L165.9 321.9 L166.3 322.1 L166.7 321.9 L167.2 321.9 L167.6 321.9 L168.0 321.7 L168.4 321.6 L168.8 321.5 L169.2 321.3 L169.6 321.0 L170.1 320.9 L170.5 320.6 L170.9 320.7 L171.3 320.7 L171.7 320.6 L172.1 320.5 L172.5 320.3 L173.0 320.4 L173.4 320.4 L173.8 320.1 L174.2 319.9 L174.6 319.5 L175.0 319.1 L175.4 318.9 L175.8 318.8 L176.3 318.7 L176.7 318.8 L177.1 319.2 L177.5 319.2 L177.9 319.4 L178.3 319.6 L178.7 319.8 L179.2 320.1 L179.6 320.5 L180.0 320.5 L180.4 320.6 L180.8 320.7 L181.2 320.9 L181.6 320.8 L182.1 320.8 L182.5 320.8 L182.9 321.0 L183.3 321.2 L183.7 321.2 L184.1 321.1 L184.5 321.2 L185.4 321.2 L186.2 321.2 L187.0 321.2 L187.8 321.4 L188.7 321.5 L189.5 321.5 L190.3 321.6 L191.2 321.5 L192.0 321.5 L192.8 321.5 L193.6 321.5 L194.5 321.5 L195.3 321.5 L196.1 321.4 L196.9 321.3 L197.8 321.6 L198.6 321.5 L199.4 321.5 L200.3 321.6 L201.1 321.6 L201.9 321.3 L202.7 321.3 L203.6 321.3 L204.4 321.4 L205.2 321.4 L206.0 321.3 L206.9 321.0 L207.7 320.9 L208.5 320.9 L209.4 320.9 L210.2 320.7 L211.0 320.6 L211.8 320.6 L212.7 320.5 L213.5 320.5 L214.3 320.4 L215.1 320.2 L216.0 320.3 L216.8 320.3 L217.6 320.1 L218.5 320.1 L219.3 320.0 L220.1 320.0 L220.9 319.9 L221.8 319.8 L222.6 319.8 L223.4 319.9 L224.2 319.8 L225.1 320.0 L225.9 320.1 L226.7 320.2 L227.6 320.2 L228.4 320.1 L229.2 319.9 L230.0 319.8 L230.9 319.7 L231.7 319.7 L232.5 319.6 L233.3 319.7 L234.2 319.4 L235.0 319.7 L235.8 319.8 L236.7 319.6 L237.5 319.6 L238.3 319.5 L239.1 319.4 L240.0 319.3 L240.8 319.2 L241.6 319.1 L242.4 319.1 L243.3 319.0 L244.1 319.0 L244.9 318.8 L245.8 318.8 L246.6 318.7 L247.4 318.7 L247.8 318.6 L248.2 318.6 L248.7 318.6 L249.1 318.6 L249.5 318.5 L249.9 318.3 L250.3 318.3 L250.7 318.3 L251.1 318.3 L251.5 318.2 L252.0 318.0 L252.4 317.9 L252.8 317.8 L253.2 317.5 L253.4 317.4 L253.7 317.3 L253.9 317.3 L254.1 317.0 L254.4 316.7 L254.6 316.6 L254.9 316.1 L255.1 315.7 L255.3 315.1 L255.6 314.4 L255.8 313.4 L256.0 312.4 L256.3 311.5 L256.5 311.0 L256.7 310.8 L257.0 311.1 L257.2 311.2 L257.5 311.7 L257.7 312.2 L257.9 312.9 L258.2 313.2 L258.4 313.7 L258.6 314.0 L258.9 314.3 L259.1 314.7 L259.3 314.7 L259.6 314.8 L259.8 314.7 L260.1 314.8 L260.3 314.8 L260.5 314.7 L260.8 314.4 L261.0 314.4 L261.2 314.3 L261.5 314.2 L261.7 314.0 L261.9 313.6 L262.2 313.3 L262.4 313.2 L262.7 312.8 L262.9 312.6 L263.1 312.4 L263.4 312.0 L263.6 311.6 L263.8 311.1 L264.1 310.4 L264.3 309.9 L264.5 309.2 L264.8 308.6 L265.0 307.9 L265.3 307.0 L265.5 306.0 L265.7 304.9 L266.0 303.6 L266.2 302.3 L266.4 300.5 L266.7 298.4 L266.9 295.8 L267.1 292.8 L267.4 289.4 L267.6 285.2 L267.9 280.0 L268.1 274.2 L268.3 268.0 L268.6 261.7 L268.8 256.6 L269.0 253.4 L269.3 253.4 L269.5 256.4 L269.7 261.5 L270.0 267.7 L270.2 274.0 L270.5 279.7 L270.7 284.6 L270.9 288.9 L271.2 292.2 L271.4 295.0 L271.6 297.6 L271.9 299.8 L272.1 301.5 L272.3 302.9 L272.6 304.4 L272.8 305.2 L273.1 306.2 L273.3 307.2 L273.5 308.1 L273.8 308.7 L274.0 309.2 L274.2 310.0 L274.5 310.5 L274.7 310.9 L274.9 311.4 L275.2 311.9 L275.4 312.0 L275.7 312.5 L275.9 312.9 L276.1 313.0 L276.4 313.4 L276.6 313.5 L276.8 314.0 L277.1 314.2 L277.3 314.7 L277.5 314.7 L277.8 314.8 L278.0 315.1 L278.3 315.2 L278.5 315.2 L278.7 315.4 L279.1 315.6 L279.6 315.8 L280.0 316.1 L280.4 316.3 L280.8 316.5 L281.2 316.8 L281.6 316.8 L282.0 317.1 L282.5 317.0 L282.9 317.2 L283.3 317.1 L283.7 317.2 L284.1 317.3 L284.5 317.4 L284.9 317.4 L285.3 317.5 L285.8 317.6 L286.2 317.5 L286.6 317.6 L287.0 317.7 L287.4 317.8 L287.8 317.8 L288.2 317.9 L288.7 318.1 L289.1 318.1 L289.5 318.1 L289.9 318.3 L290.3 318.4 L290.7 318.4 L291.1 318.5 L291.6 318.4 L292.0 318.4 L292.4 318.5 L292.8 318.4 L293.2 318.4 L293.6 318.5 L294.0 318.5 L294.4 318.5 L294.9 318.6 L295.3 318.6 L295.7 318.7 L296.1 318.7 L296.5 318.8 L296.9 318.8 L297.3 318.6 L297.8 318.5 L298.2 318.5 L298.6 318.6 L299.0 318.7 L299.4 318.5 L299.8 318.5 L300.2 318.3 L300.7 318.2 L301.1 318.0 L301.5 317.7 L301.9 317.2 L302.3 316.6 L302.7 315.6 L303.1 314.9 L303.5 314.6 L304.0 314.9 L304.4 315.8 L304.8 316.6 L305.2 317.2 L305.6 317.8 L306.0 318.1 L306.4 318.7 L306.9 318.8 L307.3 319.0 L307.7 319.0 L308.1 319.1 L308.5 319.1 L308.9 319.0 L309.3 319.2 L309.8 319.2 L310.2 319.0 L310.6 319.1 L311.0 319.2 L311.4 319.2 L311.8 319.3 L312.2 319.2 L312.6 319.2 L313.1 319.2 L313.5 319.0 L313.9 319.1 L314.3 319.0 L314.7 318.9 L315.1 319.0 L315.5 319.0 L316.0 319.0 L316.4 319.0 L316.8 319.1 L317.2 319.1 L317.6 319.3 L318.0 319.2 L318.4 319.3 L318.9 319.4 L319.3 319.5 L319.7 319.5 L320.1 319.5 L320.5 319.4 L320.9 319.2 L321.3 319.2 L321.7 319.2 L322.2 319.0 L322.6 318.9 L323.0 318.2 L323.4 317.4 L323.8 316.3 L324.2 315.0 L324.6 314.4 L325.1 314.9 L325.5 316.1 L325.9 317.3 L326.3 318.4 L326.7 319.0 L327.1 319.4 L327.5 319.7 L328.0 319.7 L328.4 319.7 L328.8 319.9 L329.2 320.0 L329.6 320.2 L330.0 320.3 L330.4 320.4 L330.8 320.3 L331.3 320.3 L331.7 320.4 L332.1 320.3 L332.5 320.5 L332.9 320.3 L333.3 320.4 L333.7 320.4 L334.2 320.2 L334.6 320.4 L335.0 320.5 L335.4 320.5 L335.8 320.4 L336.2 320.4 L336.6 320.6 L337.1 320.5 L337.5 320.1 L337.9 320.2 L338.3 320.2 L338.7 320.2 L339.1 320.2 L339.5 320.1 L340.0 320.0 L340.4 320.1 L340.8 319.8 L341.2 319.9 L341.6 319.6 L342.0 319.3 L342.4 319.1 L342.8 318.9 L343.3 318.5 L343.7 318.4 L344.1 318.1 L344.5 318.1 L344.9 318.4 L345.3 318.6 L345.7 318.8 L346.2 319.2 L346.6 319.6 L347.0 319.8 L347.4 319.8 L347.8 320.1 L348.2 320.3 L348.6 320.5 L349.1 320.8 L349.5 320.8 L349.9 320.7 L350.3 320.7 L350.7 320.8 L351.1 320.6 L351.5 320.7 L351.9 320.1 L352.4 320.0 L352.8 319.5 L353.2 318.9 L353.6 318.2 L354.0 317.3 L354.4 316.9 L354.8 317.2 L355.3 318.0 L355.7 318.8 L356.1 319.4 L356.5 319.9 L356.9 320.6 L357.3 320.9 L357.7 321.0 L358.2 321.0 L358.6 321.2 L359.0 321.2 L359.4 321.4 L359.8 321.5 L360.2 321.5 L360.6 321.5 L361.0 321.4 L361.5 321.3 L361.9 321.3 L362.3 321.2 L362.7 321.2 L363.1 321.1 L363.5 321.2 L363.9 320.8 L364.4 320.8 L364.8 320.8 L365.2 320.8 L366.0 321.1 L366.8 321.4 L367.7 321.5 L368.5 321.6 L369.3 321.8 L370.1 321.9 L371.0 321.7 L371.8 321.8 L372.6 321.7 L373.5 321.7 L374.3 321.8 L375.1 321.8 L375.9 321.8 L376.8 321.7 L377.6 321.7 L378.4 321.7 L379.2 321.8 L380.1 321.9 L380.9 322.2 L381.7 322.3 L382.6 322.2 L383.4 322.1 L384.2 322.1 L385.0 322.2 L385.9 322.4 L386.7 322.4 L387.5 322.2 L388.3 322.1 L389.2 322.0 L390.0 322.2 L390.8 322.2 L391.7 322.3 L392.5 322.4 L393.3 322.3 L394.1 322.1 L395.0 322.3 L395.8 322.1 L396.6 321.7 L397.4 321.1 L398.3 320.6 L399.1 320.1 L399.9 320.5 L400.8 321.1 L401.6 321.7 L402.4 322.0 L403.2 322.1 L404.1 322.2 L404.9 322.5 L405.7 322.3 L406.5 322.3 L407.4 322.4 L408.2 322.5 L409.0 322.4 L409.9 322.4 L410.7 322.5 L411.5 322.4 L412.3 322.3 L413.2 322.2 L414.0 322.1 L414.8 322.2 L415.6 322.2 L416.5 322.3 L417.3 322.5 L418.1 322.6 L419.0 322.6 L419.8 322.6 L420.6 322.6 L421.4 322.7 L422.3 322.6 L423.1 322.6 L423.9 322.5 L424.7 322.4 L425.6 322.5 L426.4 322.5 L427.2 322.4 L428.1 322.3 L428.9 322.1 L429.7 321.8 L430.5 321.5 L431.4 321.6 L432.2 321.7 L433.0 321.8 L433.8 321.9 L434.7 322.3 L435.5 322.2 L436.3 322.6 L437.2 322.6 L438.0 322.9 L438.8 322.7 L439.6 322.7 L440.5 322.6 L441.3 322.6 L442.1 322.6 L442.9 322.5 L443.8 322.6 L444.6 322.4 L445.4 322.3 L446.3 322.3 L447.1 322.3 L447.9 322.3 L448.7 322.4 L449.6 322.4 L450.4 322.4 L451.2 322.5 L452.0 322.6 L452.9 322.8 L453.7 322.7 L454.5 322.8 L455.4 322.7 L456.2 322.7 L457.0 322.6 L457.8 322.7 L458.7 322.7 L459.5 322.8 L460.3 322.6 L461.1 322.7 L462.0 322.8 L462.8 322.8 L463.6 322.7 L464.5 322.8 L465.3 322.8 L466.1 322.9 L466.9 322.8 L467.8 322.9 L468.6 323.0 L469.4 323.1 L470.2 323.0 L471.1 323.1 L471.9 323.2 L472.7 323.0 L473.6 323.1 L474.4 322.9 L475.2 323.0 L476.0 323.0 L477.4 323.2" fill="none" stroke="#00ff00" stroke-width="1.22" stroke-linejoin="round"/>
<path d="M63.8 271.9 L64.6 271.9 L65.4 271.8 L66.2 271.7 L67.1 271.8 L67.9 271.8 L68.7 271.7 L69.5 271.7 L70.4 271.6 L71.2 271.5 L72.0 271.5 L72.9 271.7 L73.7 271.7 L74.5 271.5 L75.3 271.1 L76.2 271.0 L76.6 271.0 L77.0 270.9 L77.4 270.9 L77.8 270.8 L78.2 270.8 L78.6 270.7 L79.1 270.5 L79.5 270.2 L79.9 269.9 L80.3 269.7 L80.7 269.4 L81.1 269.3 L81.5 268.8 L82.0 268.2 L82.4 267.8 L82.8 267.4 L83.2 266.9 L83.6 266.2 L84.0 265.0 L84.4 264.1 L84.8 263.4 L85.3 262.6 L85.7 261.1 L86.1 259.8 L86.5 258.6 L86.9 257.8 L87.3 256.7 L87.7 255.4 L88.2 254.3 L88.6 253.1 L89.0 252.1 L89.4 251.0 L89.8 249.8 L90.2 248.7 L90.6 247.8 L91.1 247.0 L91.5 246.0 L91.9 245.0 L92.3 244.0 L92.7 243.4 L93.1 242.3 L93.5 241.6 L93.9 240.6 L94.4 240.0 L94.8 239.5 L95.2 239.9 L95.6 240.5 L96.0 241.3 L96.4 242.6 L96.8 244.1 L97.3 245.7 L97.7 247.4 L98.1 249.1 L98.5 250.7 L98.9 252.2 L99.3 253.8 L99.7 255.4 L100.2 256.9 L100.6 258.0 L101.0 259.0 L101.4 260.0 L101.8 261.0 L102.2 261.8 L102.6 262.5 L103.0 263.3 L103.5 263.8 L103.9 264.5 L104.3 264.9 L104.7 265.3 L105.1 265.8 L105.5 266.3 L105.9 266.5 L106.4 266.9 L106.8 267.3 L107.2 267.5 L107.6 267.7 L108.0 268.2 L108.4 268.4 L108.8 268.7 L109.3 268.7 L109.7 269.0 L110.1 269.0 L110.5 269.1 L110.9 269.3 L111.3 269.6 L111.7 269.6 L112.1 269.6 L112.6 269.8 L113.0 269.7 L113.4 270.0 L113.8 270.1 L114.2 270.2 L114.6 270.3 L115.0 270.4 L115.5 270.5 L115.9 270.6 L116.3 270.8 L116.7 270.7 L117.1 270.8 L117.5 270.7 L117.9 270.9 L118.4 270.9 L118.8 271.0 L119.2 271.0 L119.6 271.0 L120.0 271.2 L120.4 271.2 L120.8 271.3 L121.2 271.4 L121.7 271.4 L122.1 271.4 L122.5 271.4 L122.9 271.5 L123.7 271.4 L124.6 271.5 L125.4 271.5 L126.2 271.5 L127.0 271.7 L127.9 271.6 L128.7 271.5 L129.5 271.4 L130.3 271.5 L131.2 271.5 L132.0 271.6 L132.8 271.7 L133.7 271.9 L134.5 271.9 L135.3 271.9 L136.1 271.7 L137.0 271.8 L137.8 271.9 L138.6 271.9 L139.4 271.6 L140.3 271.7 L141.1 271.8 L141.9 271.8 L142.8 271.6 L143.6 271.6 L144.4 271.7 L145.2 271.7 L146.1 271.7 L146.9 271.7 L147.7 271.9 L148.5 271.8 L149.4 272.0 L150.2 272.1 L151.0 272.1 L151.9 272.0 L152.7 272.0 L153.5 272.2 L154.3 272.1 L155.2 272.3 L156.0 272.2 L156.8 272.1 L157.6 272.2 L158.5 272.3 L158.9 272.3 L159.3 272.2 L159.7 272.2 L160.1 272.1 L160.5 272.0 L161.0 271.7 L161.4 271.7 L161.8 271.2 L162.2 270.5 L162.6 269.3 L163.0 268.8 L163.4 269.5 L163.9 270.7 L164.3 271.8 L164.7 272.2 L165.1 272.7 L165.5 272.9 L165.9 273.2 L166.3 273.5 L166.7 273.4 L167.2 273.3 L167.6 273.2 L168.0 273.2 L168.4 272.9 L168.8 272.6 L169.2 272.6 L169.6 272.4 L170.1 272.3 L170.5 272.4 L170.9 272.2 L171.3 272.1 L171.7 272.0 L172.1 272.0 L172.5 271.8 L173.0 271.8 L173.4 271.8 L173.8 271.4 L174.2 271.4 L174.6 270.8 L175.0 270.8 L175.4 270.5 L175.8 270.4 L176.3 270.3 L176.7 270.2 L177.1 270.2 L177.5 270.4 L177.9 270.8 L178.3 271.1 L178.7 271.2 L179.2 271.4 L179.6 271.5 L180.0 271.7 L180.4 272.1 L180.8 272.2 L181.2 272.3 L181.6 272.4 L182.1 272.4 L182.5 272.6 L182.9 272.7 L183.3 272.6 L183.7 272.8 L184.1 272.7 L184.5 272.8 L185.4 272.7 L186.2 272.8 L187.0 272.9 L187.8 272.9 L188.7 273.0 L189.5 272.9 L190.3 273.1 L191.2 273.1 L192.0 273.0 L192.8 273.0 L193.6 272.9 L194.5 272.9 L195.3 272.7 L196.1 272.8 L196.9 272.8 L197.8 272.9 L198.6 272.9 L199.4 272.9 L200.3 272.8 L201.1 272.7 L201.9 272.7 L202.7 272.6 L203.6 272.4 L204.4 272.5 L205.2 272.4 L206.0 272.3 L206.9 272.3 L207.7 272.3 L208.5 272.4 L209.4 272.3 L210.2 272.4 L211.0 272.4 L211.8 272.2 L212.7 272.1 L213.5 272.1 L214.3 271.9 L215.1 271.8 L216.0 271.6 L216.8 271.6 L217.6 271.4 L218.5 271.4 L219.3 271.4 L220.1 271.4 L220.9 271.3 L221.8 271.3 L222.6 271.3 L223.4 271.3 L224.2 271.2 L225.1 271.3 L225.9 271.2 L226.7 271.3 L227.6 271.2 L228.4 271.4 L229.2 271.2 L230.0 271.3 L230.9 271.4 L231.7 271.2 L232.5 271.3 L233.3 271.1 L234.2 270.9 L235.0 271.0 L235.8 271.0 L236.7 271.0 L237.5 270.7 L238.3 270.7 L239.1 270.7 L240.0 270.7 L240.8 270.6 L241.6 270.4 L242.4 270.4 L243.3 270.6 L244.1 270.7 L244.9 270.5 L245.8 270.4 L246.6 270.3 L247.4 270.4 L247.8 270.3 L248.2 270.1 L248.7 270.1 L249.1 270.1 L249.5 270.2 L249.9 270.2 L250.3 270.1 L250.7 270.1 L251.1 269.9 L251.5 269.9 L252.0 269.7 L252.4 269.6 L252.8 269.6 L253.2 269.3 L253.4 269.1 L253.7 268.9 L253.9 268.9 L254.1 268.8 L254.4 268.6 L254.6 268.4 L254.9 267.9 L255.1 267.5 L255.3 267.0 L255.6 266.2 L255.8 265.5 L256.0 264.7 L256.3 263.7 L256.5 263.0 L256.7 262.9 L257.0 263.1 L257.2 263.5 L257.5 263.8 L257.7 264.4 L257.9 264.8 L258.2 265.4 L258.4 265.8 L258.6 266.1 L258.9 266.6 L259.1 266.6 L259.3 266.7 L259.6 266.8 L259.8 266.9 L260.1 266.8 L260.3 266.8 L260.5 266.7 L260.8 266.7 L261.0 266.7 L261.2 266.5 L261.5 266.4 L261.7 266.2 L261.9 265.7 L262.2 265.7 L262.4 265.6 L262.7 265.4 L262.9 265.1 L263.1 264.7 L263.4 264.4 L263.6 264.2 L263.8 263.8 L264.1 263.5 L264.3 262.8 L264.5 262.3 L264.8 261.8 L265.0 261.2 L265.3 260.3 L265.5 259.5 L265.7 258.8 L266.0 257.6 L266.2 256.3 L266.4 254.8 L266.7 253.1 L266.9 251.2 L267.1 248.9 L267.4 245.8 L267.6 242.5 L267.9 238.3 L268.1 233.5 L268.3 228.5 L268.6 223.3 L268.8 218.8 L269.0 216.2 L269.3 216.2 L269.5 218.6 L269.7 222.9 L270.0 228.2 L270.2 233.3 L270.5 237.9 L270.7 242.3 L270.9 245.6 L271.2 248.5 L271.4 250.9 L271.6 252.9 L271.9 254.6 L272.1 256.0 L272.3 257.5 L272.6 258.4 L272.8 259.2 L273.1 260.1 L273.3 260.7 L273.5 261.3 L273.8 262.0 L274.0 262.5 L274.2 263.0 L274.5 263.5 L274.7 263.9 L274.9 264.1 L275.2 264.6 L275.4 264.8 L275.7 265.2 L275.9 265.4 L276.1 265.7 L276.4 265.9 L276.6 265.9 L276.8 266.0 L277.1 266.2 L277.3 266.6 L277.5 266.6 L277.8 267.0 L278.0 267.2 L278.3 267.4 L278.5 267.5 L278.7 267.6 L279.1 267.7 L279.6 267.9 L280.0 268.1 L280.4 268.3 L280.8 268.4 L281.2 268.4 L281.6 268.5 L282.0 268.7 L282.5 268.6 L282.9 268.7 L283.3 268.8 L283.7 268.9 L284.1 269.0 L284.5 268.9 L284.9 269.0 L285.3 269.2 L285.8 269.4 L286.2 269.2 L286.6 269.3 L287.0 269.5 L287.4 269.6 L287.8 269.8 L288.2 269.8 L288.7 269.7 L289.1 269.8 L289.5 269.8 L289.9 269.7 L290.3 269.9 L290.7 269.9 L291.1 269.8 L291.6 269.8 L292.0 269.8 L292.4 270.0 L292.8 270.0 L293.2 270.2 L293.6 270.2 L294.0 270.1 L294.4 270.2 L294.9 270.1 L295.3 270.1 L295.7 270.1 L296.1 270.1 L296.5 270.3 L296.9 270.2 L297.3 270.2 L297.8 270.2 L298.2 270.0 L298.6 270.0 L299.0 270.0 L299.4 270.1 L299.8 270.0 L300.2 270.0 L300.7 269.9 L301.1 269.6 L301.5 269.3 L301.9 268.6 L302.3 267.8 L302.7 267.0 L303.1 266.1 L303.5 265.8 L304.0 266.2 L304.4 267.0 L304.8 268.0 L305.2 268.7 L305.6 269.3 L306.0 269.6 L306.4 269.9 L306.9 270.1 L307.3 270.3 L307.7 270.1 L308.1 270.2 L308.5 270.4 L308.9 270.2 L309.3 270.3 L309.8 270.5 L310.2 270.5 L310.6 270.4 L311.0 270.5 L311.4 270.6 L311.8 270.5 L312.2 270.6 L312.6 270.6 L313.1 270.6 L313.5 270.5 L313.9 270.6 L314.3 270.6 L314.7 270.7 L315.1 270.7 L315.5 270.6 L316.0 270.6 L316.4 270.8 L316.8 270.8 L317.2 270.8 L317.6 270.9 L318.0 270.9 L318.4 270.7 L318.9 270.9 L319.3 271.0 L319.7 271.0 L320.1 270.9 L320.5 271.1 L320.9 271.0 L321.3 270.9 L321.7 270.8 L322.2 270.7 L322.6 270.3 L323.0 269.8 L323.4 269.3 L323.8 268.2 L324.2 266.9 L324.6 266.2 L325.1 266.7 L325.5 267.7 L325.9 269.1 L326.3 270.1 L326.7 270.7 L327.1 270.8 L327.5 271.2 L328.0 271.5 L328.4 271.5 L328.8 271.6 L329.2 271.7 L329.6 271.7 L330.0 271.8 L330.4 271.8 L330.8 271.9 L331.3 271.9 L331.7 271.7 L332.1 271.7 L332.5 272.1 L332.9 272.0 L333.3 272.1 L333.7 272.2 L334.2 272.3 L334.6 272.2 L335.0 272.1 L335.4 272.0 L335.8 271.8 L336.2 271.9 L336.6 272.0 L337.1 271.8 L337.5 271.9 L337.9 272.0 L338.3 272.1 L338.7 271.9 L339.1 271.8 L339.5 271.6 L340.0 271.5 L340.4 271.6 L340.8 271.6 L341.2 271.3 L341.6 271.2 L342.0 271.0 L342.4 270.6 L342.8 270.6 L343.3 270.0 L343.7 269.8 L344.1 269.8 L344.5 270.0 L344.9 270.2 L345.3 270.5 L345.7 270.7 L346.2 271.0 L346.6 271.3 L347.0 271.5 L347.4 271.7 L347.8 271.8 L348.2 271.9 L348.6 271.9 L349.1 272.2 L349.5 272.2 L349.9 272.0 L350.3 272.1 L350.7 272.2 L351.1 272.2 L351.5 272.2 L351.9 272.0 L352.4 271.6 L352.8 271.0 L353.2 270.4 L353.6 269.6 L354.0 268.9 L354.4 268.8 L354.8 269.0 L355.3 269.5 L355.7 270.6 L356.1 271.3 L356.5 271.9 L356.9 272.3 L357.3 272.5 L357.7 272.7 L358.2 272.9 L358.6 273.0 L359.0 273.1 L359.4 273.0 L359.8 273.0 L360.2 272.9 L360.6 273.0 L361.0 273.1 L361.5 273.0 L361.9 273.0 L362.3 273.2 L362.7 273.1 L363.1 272.8 L363.5 272.7 L363.9 272.7 L364.4 272.6 L364.8 272.6 L365.2 272.7 L366.0 272.8 L366.8 272.9 L367.7 273.1 L368.5 273.2 L369.3 273.3 L370.1 273.3 L371.0 273.3 L371.8 273.2 L372.6 273.3 L373.5 273.3 L374.3 273.1 L375.1 273.3 L375.9 273.2 L376.8 273.2 L377.6 273.3 L378.4 273.1 L379.2 273.3 L380.1 273.3 L380.9 273.5 L381.7 273.5 L382.6 273.6 L383.4 273.7 L384.2 273.7 L385.0 273.6 L385.9 273.5 L386.7 273.6 L387.5 273.8 L388.3 273.8 L389.2 273.9 L390.0 273.9 L390.8 273.9 L391.7 274.0 L392.5 273.8 L393.3 273.8 L394.1 273.7 L395.0 273.6 L395.8 273.4 L396.6 273.1 L397.4 272.7 L398.3 272.2 L399.1 272.2 L399.9 272.6 L400.8 273.0 L401.6 273.4 L402.4 273.6 L403.2 273.5 L404.1 273.5 L404.9 273.7 L405.7 274.0 L406.5 274.0 L407.4 273.9 L408.2 273.9 L409.0 273.8 L409.9 273.7 L410.7 273.8 L411.5 273.7 L412.3 273.7 L413.2 273.6 L414.0 273.6 L414.8 273.7 L415.6 273.9 L416.5 273.9 L417.3 274.2 L418.1 274.0 L419.0 274.1 L419.8 274.0 L420.6 274.0 L421.4 274.0 L422.3 274.1 L423.1 274.2 L423.9 274.1 L424.7 273.9 L425.6 273.9 L426.4 273.9 L427.2 273.8 L428.1 273.8 L428.9 273.7 L429.7 273.3 L430.5 273.2 L431.4 273.3 L432.2 273.1 L433.0 273.4 L433.8 273.6 L434.7 273.6 L435.5 274.0 L436.3 274.1 L437.2 274.1 L438.0 274.2 L438.8 274.2 L439.6 274.3 L440.5 274.3 L441.3 274.3 L442.1 274.1 L442.9 274.1 L443.8 274.0 L444.6 273.7 L445.4 274.0 L446.3 273.9 L447.1 273.8 L447.9 273.7 L448.7 273.9 L449.6 274.0 L450.4 274.0 L451.2 274.1 L452.0 274.1 L452.9 274.1 L453.7 274.2 L454.5 274.2 L455.4 274.3 L456.2 274.3 L457.0 274.3 L457.8 274.3 L458.7 274.4 L459.5 274.3 L460.3 274.3 L461.1 274.2 L462.0 274.1 L462.8 274.1 L463.6 274.3 L464.5 274.3 L465.3 274.3 L466.1 274.3 L466.9 274.2 L467.8 274.3 L468.6 274.5 L469.4 274.5 L470.2 274.4 L471.1 274.4 L471.9 274.5 L472.7 274.4 L473.6 274.5 L474.4 274.5 L475.2 274.4 L476.0 274.4 L477.4 274.5" fill="none" stroke="#0000ff" stroke-width="1.22" stroke-linejoin="round"/>
<path d="M63.8 223.4 L64.6 223.3 L65.4 223.2 L66.2 223.4 L67.1 223.4 L67.9 223.3 L68.7 223.4 L69.5 223.3 L70.4 223.1 L71.2 223.2 L72.0 223.1 L72.9 223.1 L73.7 223.0 L74.5 222.8 L75.3 222.5 L76.2 222.4 L76.6 222.5 L77.0 222.3 L77.4 222.3 L77.8 222.3 L78.2 222.1 L78.6 222.0 L79.1 221.8 L79.5 221.5 L79.9 221.0 L80.3 220.9 L80.7 220.6 L81.1 220.6 L81.5 220.0 L82.0 219.5 L82.4 219.0 L82.8 218.4 L83.2 218.0 L83.6 217.1 L84.0 216.1 L84.4 215.0 L84.8 214.3 L85.3 213.1 L85.7 211.9 L86.1 210.5 L86.5 209.3 L86.9 208.3 L87.3 207.2 L87.7 205.7 L88.2 204.3 L88.6 203.0 L89.0 202.4 L89.4 201.3 L89.8 200.0 L90.2 198.7 L90.6 198.0 L91.1 197.1 L91.5 195.8 L91.9 194.7 L92.3 193.8 L92.7 193.0 L93.1 192.0 L93.5 191.1 L93.9 190.2 L94.4 189.7 L94.8 189.5 L95.2 189.5 L95.6 190.0 L96.0 191.0 L96.4 192.2 L96.8 193.9 L97.3 195.6 L97.7 197.3 L98.1 199.0 L98.5 200.8 L98.9 202.7 L99.3 204.3 L99.7 205.9 L100.2 207.1 L100.6 208.5 L101.0 209.6 L101.4 210.7 L101.8 211.7 L102.2 212.5 L102.6 213.3 L103.0 214.0 L103.5 214.7 L103.9 215.3 L104.3 215.8 L104.7 216.4 L105.1 216.8 L105.5 217.4 L105.9 217.7 L106.4 218.2 L106.8 218.5 L107.2 218.7 L107.6 218.9 L108.0 219.1 L108.4 219.4 L108.8 219.6 L109.3 220.0 L109.7 220.1 L110.1 220.5 L110.5 220.6 L110.9 220.6 L111.3 220.5 L111.7 220.8 L112.1 220.8 L112.6 221.1 L113.0 221.3 L113.4 221.4 L113.8 221.5 L114.2 221.5 L114.6 221.6 L115.0 221.7 L115.5 221.7 L115.9 221.8 L116.3 222.0 L116.7 222.0 L117.1 222.1 L117.5 222.0 L117.9 222.1 L118.4 222.0 L118.8 222.1 L119.2 222.3 L119.6 222.4 L120.0 222.4 L120.4 222.5 L120.8 222.5 L121.2 222.6 L121.7 222.6 L122.1 222.7 L122.5 222.5 L122.9 222.5 L123.7 222.7 L124.6 222.8 L125.4 223.1 L126.2 223.0 L127.0 223.0 L127.9 223.2 L128.7 223.2 L129.5 223.3 L130.3 223.3 L131.2 223.2 L132.0 223.3 L132.8 223.2 L133.7 223.1 L134.5 223.1 L135.3 223.1 L136.1 223.2 L137.0 223.2 L137.8 223.2 L138.6 223.1 L139.4 223.2 L140.3 222.9 L141.1 222.9 L141.9 223.0 L142.8 222.9 L143.6 223.1 L144.4 223.1 L145.2 223.3 L146.1 223.4 L146.9 223.4 L147.7 223.4 L148.5 223.3 L149.4 223.4 L150.2 223.4 L151.0 223.5 L151.9 223.5 L152.7 223.9 L153.5 223.6 L154.3 223.8 L155.2 223.7 L156.0 223.7 L156.8 223.8 L157.6 223.8 L158.5 223.6 L158.9 223.7 L159.3 223.7 L159.7 223.5 L160.1 223.5 L160.5 223.4 L161.0 223.3 L161.4 223.1 L161.8 222.7 L162.2 221.9 L162.6 221.1 L163.0 220.5 L163.4 221.0 L163.9 222.2 L164.3 223.2 L164.7 223.6 L165.1 223.9 L165.5 224.2 L165.9 224.7 L166.3 224.8 L166.7 224.8 L167.2 224.8 L167.6 224.8 L168.0 224.6 L168.4 224.6 L168.8 224.4 L169.2 224.4 L169.6 224.1 L170.1 224.0 L170.5 223.8 L170.9 223.7 L171.3 223.5 L171.7 223.4 L172.1 223.2 L172.5 223.1 L173.0 223.2 L173.4 223.0 L173.8 222.9 L174.2 222.7 L174.6 222.5 L175.0 222.4 L175.4 222.0 L175.8 221.9 L176.3 221.8 L176.7 221.7 L177.1 221.9 L177.5 222.2 L177.9 222.2 L178.3 222.6 L178.7 222.9 L179.2 222.9 L179.6 223.1 L180.0 223.3 L180.4 223.5 L180.8 223.6 L181.2 223.6 L181.6 223.8 L182.1 224.0 L182.5 224.1 L182.9 224.2 L183.3 224.3 L183.7 224.2 L184.1 224.2 L184.5 224.2 L185.4 224.4 L186.2 224.4 L187.0 224.4 L187.8 224.4 L188.7 224.6 L189.5 224.3 L190.3 224.3 L191.2 224.6 L192.0 224.5 L192.8 224.3 L193.6 224.3 L194.5 224.2 L195.3 224.2 L196.1 224.2 L196.9 224.4 L197.8 224.4 L198.6 224.4 L199.4 224.4 L200.3 224.3 L201.1 224.1 L201.9 224.1 L202.7 224.1 L203.6 224.0 L204.4 223.9 L205.2 223.9 L206.0 223.7 L206.9 223.7 L207.7 223.7 L208.5 223.7 L209.4 223.7 L210.2 223.8 L211.0 223.7 L211.8 223.6 L212.7 223.4 L213.5 223.2 L214.3 223.2 L215.1 223.1 L216.0 223.1 L216.8 222.9 L217.6 222.9 L218.5 222.8 L219.3 222.8 L220.1 222.7 L220.9 222.6 L221.8 222.6 L222.6 222.6 L223.4 222.8 L224.2 222.7 L225.1 222.7 L225.9 222.6 L226.7 222.7 L227.6 222.7 L228.4 222.8 L229.2 222.6 L230.0 222.8 L230.9 222.9 L231.7 222.8 L232.5 222.5 L233.3 222.5 L234.2 222.5 L235.0 222.3 L235.8 222.3 L236.7 222.2 L237.5 222.2 L238.3 222.4 L239.1 222.4 L240.0 222.1 L240.8 222.2 L241.6 222.2 L242.4 222.1 L243.3 222.0 L244.1 222.1 L244.9 221.9 L245.8 221.8 L246.6 221.7 L247.4 221.7 L247.8 221.4 L248.2 221.6 L248.7 221.4 L249.1 221.5 L249.5 221.2 L249.9 221.2 L250.3 221.1 L250.7 221.2 L251.1 221.0 L251.5 221.0 L252.0 220.9 L252.4 220.9 L252.8 220.8 L253.2 220.7 L253.4 220.5 L253.7 220.6 L253.9 220.4 L254.1 220.2 L254.4 220.1 L254.6 219.8 L254.9 219.5 L255.1 218.9 L255.3 218.3 L255.6 217.4 L255.8 216.6 L256.0 215.6 L256.3 214.7 L256.5 214.0 L256.7 214.1 L257.0 214.3 L257.2 214.5 L257.5 215.2 L257.7 215.6 L257.9 216.0 L258.2 216.5 L258.4 216.8 L258.6 217.0 L258.9 217.2 L259.1 217.6 L259.3 217.9 L259.6 217.8 L259.8 217.9 L260.1 217.9 L260.3 217.9 L260.5 217.8 L260.8 217.8 L261.0 217.5 L261.2 217.3 L261.5 217.1 L261.7 217.0 L261.9 216.9 L262.2 216.5 L262.4 216.5 L262.7 216.1 L262.9 215.8 L263.1 215.6 L263.4 215.3 L263.6 214.8 L263.8 214.3 L264.1 213.8 L264.3 213.2 L264.5 212.8 L264.8 212.3 L265.0 211.7 L265.3 210.9 L265.5 209.9 L265.7 208.9 L266.0 207.7 L266.2 206.2 L266.4 204.6 L266.7 202.8 L266.9 200.3 L267.1 197.4 L267.4 194.1 L267.6 190.3 L267.9 185.7 L268.1 180.3 L268.3 174.5 L268.6 168.6 L268.8 163.7 L269.0 160.8 L269.3 160.8 L269.5 163.6 L269.7 168.5 L270.0 174.5 L270.2 180.0 L270.5 185.3 L270.7 189.9 L270.9 193.9 L271.2 197.2 L271.4 200.0 L271.6 202.2 L271.9 204.0 L272.1 205.4 L272.3 207.0 L272.6 208.3 L272.8 209.2 L273.1 210.3 L273.3 211.1 L273.5 211.6 L273.8 212.4 L274.0 212.9 L274.2 213.5 L274.5 213.9 L274.7 214.3 L274.9 214.6 L275.2 215.1 L275.4 215.6 L275.7 215.8 L275.9 216.0 L276.1 216.6 L276.4 217.0 L276.6 217.2 L276.8 217.3 L277.1 217.3 L277.3 217.4 L277.5 217.7 L277.8 218.1 L278.0 218.1 L278.3 218.3 L278.5 218.4 L278.7 218.5 L279.1 218.8 L279.6 219.2 L280.0 219.3 L280.4 219.5 L280.8 219.7 L281.2 219.8 L281.6 219.8 L282.0 219.8 L282.5 220.1 L282.9 220.1 L283.3 220.2 L283.7 220.3 L284.1 220.3 L284.5 220.3 L284.9 220.4 L285.3 220.7 L285.8 220.7 L286.2 220.8 L286.6 220.7 L287.0 220.6 L287.4 220.9 L287.8 220.9 L288.2 220.8 L288.7 220.9 L289.1 221.1 L289.5 221.0 L289.9 221.0 L290.3 221.1 L290.7 221.1 L291.1 221.3 L291.6 221.4 L292.0 221.4 L292.4 221.4 L292.8 221.4 L293.2 221.3 L293.6 221.4 L294.0 221.4 L294.4 221.4 L294.9 221.6 L295.3 221.8 L295.7 221.6 L296.1 221.6 L296.5 221.7 L296.9 221.7 L297.3 221.6 L297.8 221.5 L298.2 221.6 L298.6 221.7 L299.0 221.6 L299.4 221.5 L299.8 221.5 L300.2 221.5 L300.7 221.3 L301.1 221.1 L301.5 220.9 L301.9 220.1 L302.3 219.5 L302.7 218.5 L303.1 217.5 L303.5 217.3 L304.0 217.7 L304.4 218.6 L304.8 219.4 L305.2 220.1 L305.6 220.6 L306.0 221.1 L306.4 221.3 L306.9 221.4 L307.3 221.8 L307.7 221.8 L308.1 221.8 L308.5 221.8 L308.9 221.9 L309.3 221.9 L309.8 221.9 L310.2 222.0 L310.6 221.9 L311.0 221.8 L311.4 222.1 L311.8 222.0 L312.2 222.1 L312.6 222.2 L313.1 222.1 L313.5 222.1 L313.9 221.9 L314.3 221.7 L314.7 221.9 L315.1 222.0 L315.5 222.1 L316.0 222.0 L316.4 221.8 L316.8 221.9 L317.2 221.9 L317.6 222.1 L318.0 222.1 L318.4 222.4 L318.9 222.4 L319.3 222.3 L319.7 222.5 L320.1 222.5 L320.5 222.4 L320.9 222.5 L321.3 222.6 L321.7 222.3 L322.2 222.1 L322.6 221.8 L323.0 221.1 L323.4 220.5 L323.8 219.5 L324.2 218.3 L324.6 217.5 L325.1 217.8 L325.5 219.1 L325.9 220.3 L326.3 221.2 L326.7 221.8 L327.1 222.3 L327.5 222.5 L328.0 222.9 L328.4 223.0 L328.8 222.8 L329.2 223.0 L329.6 223.2 L330.0 223.2 L330.4 223.1 L330.8 223.3 L331.3 223.2 L331.7 223.2 L332.1 223.1 L332.5 223.0 L332.9 223.0 L333.3 223.3 L333.7 223.4 L334.2 223.4 L334.6 223.3 L335.0 223.3 L335.4 223.4 L335.8 223.3 L336.2 223.2 L336.6 223.3 L337.1 223.4 L337.5 223.4 L337.9 223.5 L338.3 223.3 L338.7 223.1 L339.1 223.2 L339.5 223.1 L340.0 223.1 L340.4 223.0 L340.8 222.9 L341.2 222.7 L341.6 222.6 L342.0 222.4 L342.4 222.1 L342.8 221.9 L343.3 221.7 L343.7 221.5 L344.1 221.1 L344.5 221.1 L344.9 221.4 L345.3 221.7 L345.7 222.0 L346.2 222.3 L346.6 222.4 L347.0 222.6 L347.4 222.8 L347.8 223.2 L348.2 223.4 L348.6 223.6 L349.1 223.7 L349.5 223.9 L349.9 223.9 L350.3 223.7 L350.7 223.8 L351.1 223.7 L351.5 223.7 L351.9 223.4 L352.4 223.0 L352.8 222.6 L353.2 221.8 L353.6 220.9 L354.0 220.1 L354.4 219.8 L354.8 220.0 L355.3 220.8 L355.7 221.7 L356.1 222.7 L356.5 223.4 L356.9 223.7 L357.3 224.0 L357.7 224.0 L358.2 224.2 L358.6 224.2 L359.0 224.2 L359.4 224.3 L359.8 224.2 L360.2 224.3 L360.6 224.3 L361.0 224.2 L361.5 224.2 L361.9 224.3 L362.3 224.2 L362.7 224.2 L363.1 224.2 L363.5 224.3 L363.9 224.0 L364.4 224.0 L364.8 224.0 L365.2 224.1 L366.0 224.2 L366.8 224.5 L367.7 224.4 L368.5 224.5 L369.3 224.8 L370.1 224.8 L371.0 225.1 L371.8 224.9 L372.6 224.9 L373.5 224.7 L374.3 224.9 L375.1 224.9 L375.9 225.0 L376.8 224.9 L377.6 224.8 L378.4 224.7 L379.2 224.7 L380.1 224.9 L380.9 225.0 L381.7 225.2 L382.6 225.2 L383.4 225.2 L384.2 225.3 L385.0 225.3 L385.9 225.1 L386.7 225.3 L387.5 225.3 L388.3 225.2 L389.2 225.3 L390.0 225.3 L390.8 225.4 L391.7 225.5 L392.5 225.1 L393.3 225.2 L394.1 225.3 L395.0 225.1 L395.8 224.8 L396.6 224.6 L397.4 224.3 L398.3 223.8 L399.1 223.4 L399.9 223.6 L400.8 224.2 L401.6 224.7 L402.4 225.2 L403.2 225.3 L404.1 225.3 L404.9 225.1 L405.7 225.3 L406.5 225.3 L407.4 225.3 L408.2 225.3 L409.0 225.4 L409.9 225.2 L410.7 225.2 L411.5 225.2 L412.3 225.3 L413.2 225.4 L414.0 225.3 L414.8 225.3 L415.6 225.4 L416.5 225.2 L417.3 225.3 L418.1 225.4 L419.0 225.5 L419.8 225.4 L420.6 225.5 L421.4 225.6 L422.3 225.4 L423.1 225.3 L423.9 225.2 L424.7 225.3 L425.6 225.4 L426.4 225.4 L427.2 225.4 L428.1 225.1 L428.9 225.1 L429.7 224.9 L430.5 224.7 L431.4 224.7 L432.2 224.6 L433.0 224.9 L433.8 225.0 L434.7 225.1 L435.5 225.2 L436.3 225.4 L437.2 225.5 L438.0 225.5 L438.8 225.4 L439.6 225.5 L440.5 225.5 L441.3 225.4 L442.1 225.4 L442.9 225.6 L443.8 225.5 L444.6 225.3 L445.4 225.4 L446.3 225.5 L447.1 225.4 L447.9 225.4 L448.7 225.4 L449.6 225.8 L450.4 225.7 L451.2 225.8 L452.0 225.8 L452.9 225.6 L453.7 225.5 L454.5 225.5 L455.4 225.6 L456.2 225.7 L457.0 225.8 L457.8 225.7 L458.7 225.7 L459.5 225.6 L460.3 225.6 L461.1 225.8 L462.0 225.8 L462.8 225.9 L463.6 225.9 L464.5 225.8 L465.3 225.9 L466.1 225.8 L466.9 225.9 L467.8 225.9 L468.6 225.9 L469.4 225.9 L470.2 226.0 L471.1 226.0 L471.9 226.0 L472.7 226.2 L473.6 226.1 L474.4 226.2 L475.2 226.2 L476.0 226.2 L477.4 226.3" fill="none" stroke="#00ffff" stroke-width="1.22" stroke-linejoin="round"/>
<rect x="63.75" y="10.50" width="413.65" height="436.10" fill="none" stroke="#000" stroke-width="1.80"/>
<path d="M63.75 446.60V453.60M93.30 446.60V450.60M122.84 446.60V453.60M152.39 446.60V450.60M181.94 446.60V453.60M211.48 446.60V450.60M241.03 446.60V453.60M270.57 446.60V450.60M300.12 446.60V453.60M329.67 446.60V450.60M359.21 446.60V453.60M388.76 446.60V450.60M418.31 446.60V453.60M447.85 446.60V450.60M477.40 446.60V453.60" stroke="#000" stroke-width="1.80" fill="none"/>
<text transform="translate(63.75 479.25) scale(1.0000 0.9980)" font-size="28.00" text-anchor="middle" stroke="#000" stroke-width="0.40">5</text>
<text transform="translate(122.84 479.25) scale(1.0000 0.9980)" font-size="28.00" text-anchor="middle" stroke="#000" stroke-width="0.40">10</text>
<path d="M108.60 475.86H114.11V480.15H108.60ZM116.99 475.86H122.28V480.15H116.99Z" fill="#fff"/>
<text transform="translate(181.94 479.25) scale(1.0000 0.9980)" font-size="28.00" text-anchor="middle" stroke="#000" stroke-width="0.40">15</text>
<path d="M167.70 475.86H173.20V480.15H167.70ZM176.08 475.86H181.37V480.15H176.08Z" fill="#fff"/>
<text transform="translate(241.03 479.25) scale(1.0000 0.9980)" font-size="28.00" text-anchor="middle" stroke="#000" stroke-width="0.40">20</text>
<text transform="translate(300.12 479.25) scale(1.0000 0.9980)" font-size="28.00" text-anchor="middle" stroke="#000" stroke-width="0.40">25</text>
<text transform="translate(359.21 479.25) scale(1.0000 0.9980)" font-size="28.00" text-anchor="middle" stroke="#000" stroke-width="0.40">30</text>
<text transform="translate(418.31 479.25) scale(1.0000 0.9980)" font-size="28.00" text-anchor="middle" stroke="#000" stroke-width="0.40">35</text>
<text transform="translate(477.40 479.25) scale(1.0000 0.9980)" font-size="28.00" text-anchor="middle" stroke="#000" stroke-width="0.40">40</text>
<text transform="translate(172.60 517.50) scale(1.0000 1.0150)" font-size="28.00" textLength="195.90" lengthAdjust="spacing" stroke="#000" stroke-width="0.40">2Theta / degree</text>
<text transform="translate(26.40 315.15) rotate(-90) scale(1.0000 1.0400)" font-size="28.00" stroke="#000" stroke-width="0.40">Intensity / cps</text>
<text transform="translate(429.55 49.80) scale(0.9650 1.0000)" font-size="29.10" stroke="#000" stroke-width="0.35">A</text>
<text transform="translate(79.80 58.70) scale(1.0000 1.0200)" font-size="21.70" stroke="#000" stroke-width="0.20">50000</text>
<path d="M144.70 38.80V63.30M141.30 38.80H148.10M141.30 63.30H148.10" stroke="#000" stroke-width="1.40" fill="none"/>
<text transform="translate(291.97 208.00) scale(1.0000 1.0450)" font-size="18.60" textLength="180.13" lengthAdjust="spacing" stroke="#000" stroke-width="0.15">HB(77)-NT(2 M, 16 h)</text><path transform="translate(291.97 208.00) scale(1.0000 1.0450)" d="M138.39 -2.36H142.28V0.80H138.39ZM144.07 -2.36H147.81V0.80H144.07Z" fill="#fff"/>
<text transform="translate(295.72 253.00) scale(1.0000 1.0450)" font-size="18.60" textLength="169.13" lengthAdjust="spacing" stroke="#000" stroke-width="0.15">HB(77)-NT(2 M, 1 h)</text><path transform="translate(295.72 253.00) scale(1.0000 1.0450)" d="M137.86 -2.36H141.74V0.80H137.86ZM143.54 -2.36H147.28V0.80H143.54Z" fill="#fff"/>
<text transform="translate(294.72 301.70) scale(1.0000 1.0450)" font-size="18.60" textLength="169.38" lengthAdjust="spacing" stroke="#000" stroke-width="0.15">HB(77)-NT(1 M, 1 h)</text><path transform="translate(294.72 301.70) scale(1.0000 1.0450)" d="M96.76 -2.36H100.64V0.80H96.76ZM102.44 -2.36H106.18V0.80H102.44ZM138.06 -2.36H141.95V0.80H138.06ZM143.74 -2.36H147.48V0.80H143.74Z" fill="#fff"/>
<text transform="translate(386.47 351.70) scale(1.0000 1.0450)" font-size="18.60" textLength="58.13" lengthAdjust="spacing" stroke="#000" stroke-width="0.15">HB(77)</text>
<text transform="translate(388.77 400.10) scale(1.0000 1.0450)" font-size="18.60" textLength="57.83" lengthAdjust="spacing" stroke="#000" stroke-width="0.15">HB(12)</text><path transform="translate(388.77 400.10) scale(1.0000 1.0450)" d="M32.10 -2.36H35.98V0.80H32.10ZM37.78 -2.36H41.52V0.80H37.78Z" fill="#fff"/>
</g>
<g id="panelB">
<path d="M598.4 408.6 L599.2 408.8 L600.0 408.7 L600.8 408.5 L601.6 408.5 L602.5 408.4 L603.3 408.4 L604.1 408.3 L604.9 408.2 L605.7 408.3 L606.5 408.3 L607.3 408.2 L608.1 408.2 L608.9 408.1 L609.8 408.0 L610.6 407.8 L611.0 407.7 L611.4 407.7 L611.8 407.5 L612.2 407.4 L612.6 407.4 L613.0 407.2 L613.4 407.0 L613.8 406.8 L614.2 406.6 L614.6 406.5 L615.0 406.2 L615.4 406.0 L615.8 405.6 L616.2 405.0 L616.6 404.3 L617.1 404.0 L617.5 403.4 L617.9 402.5 L618.3 401.6 L618.7 400.6 L619.1 399.8 L619.5 398.5 L619.9 397.1 L620.3 395.8 L620.7 394.7 L621.1 393.9 L621.5 392.7 L621.9 391.4 L622.3 390.0 L622.7 388.9 L623.1 388.2 L623.5 387.0 L623.9 386.0 L624.3 384.8 L624.8 384.0 L625.2 383.1 L625.6 381.8 L626.0 381.0 L626.4 380.0 L626.8 379.3 L627.2 378.4 L627.6 377.6 L628.0 376.6 L628.4 376.1 L628.8 375.9 L629.2 376.3 L629.6 377.2 L630.0 378.0 L630.4 379.4 L630.8 381.0 L631.2 382.7 L631.6 384.4 L632.1 386.2 L632.5 387.9 L632.9 389.5 L633.3 391.1 L633.7 392.4 L634.1 393.9 L634.5 394.9 L634.9 396.1 L635.3 396.8 L635.7 397.7 L636.1 398.5 L636.5 399.3 L636.9 400.1 L637.3 400.8 L637.7 401.3 L638.1 402.0 L638.5 402.2 L638.9 402.6 L639.4 403.2 L639.8 403.5 L640.2 403.6 L640.6 404.0 L641.0 404.2 L641.4 404.7 L641.8 405.0 L642.2 405.1 L642.6 405.4 L643.0 405.5 L643.4 405.8 L643.8 405.9 L644.2 406.0 L644.6 406.0 L645.0 406.2 L645.4 406.1 L645.8 406.3 L646.2 406.3 L646.6 406.7 L647.1 406.7 L647.5 406.6 L647.9 406.9 L648.3 407.0 L648.7 407.1 L649.1 407.4 L649.5 407.5 L649.9 407.5 L650.3 407.4 L650.7 407.2 L651.1 407.4 L651.5 407.6 L651.9 407.6 L652.3 407.5 L652.7 407.7 L653.1 407.6 L653.5 407.7 L653.9 407.9 L654.4 408.1 L654.8 408.1 L655.2 408.1 L655.6 408.2 L656.0 408.3 L656.4 408.2 L657.2 408.1 L658.0 408.1 L658.8 408.1 L659.6 408.1 L660.4 408.2 L661.2 408.4 L662.1 408.4 L662.9 408.5 L663.7 408.5 L664.5 408.5 L665.3 408.6 L666.1 408.7 L666.9 408.8 L667.7 408.7 L668.5 408.6 L669.4 408.8 L670.2 408.7 L671.0 408.7 L671.8 408.6 L672.6 408.6 L673.4 408.5 L674.2 408.4 L675.0 408.4 L675.8 408.4 L676.7 408.5 L677.5 408.5 L678.3 408.5 L679.1 408.6 L679.9 408.7 L680.7 408.7 L681.5 408.8 L682.3 408.7 L683.1 408.8 L683.9 408.8 L684.8 408.9 L685.6 409.0 L686.4 409.1 L687.2 409.0 L688.0 409.0 L688.8 408.9 L689.6 409.0 L690.4 409.0 L691.2 409.1 L691.7 409.1 L692.1 409.2 L692.5 409.1 L692.9 409.0 L693.3 408.8 L693.7 408.7 L694.1 408.6 L694.5 408.3 L694.9 407.4 L695.3 406.5 L695.7 406.0 L696.1 406.5 L696.5 407.7 L696.9 408.8 L697.3 409.4 L697.7 409.8 L698.1 410.1 L698.5 410.2 L699.0 410.3 L699.4 410.3 L699.8 410.4 L700.2 410.2 L700.6 410.1 L701.0 409.9 L701.4 409.6 L701.8 409.5 L702.2 409.4 L702.6 409.2 L703.0 409.2 L703.4 409.0 L703.8 408.9 L704.2 408.9 L704.6 408.8 L705.0 408.6 L705.4 408.3 L705.8 408.2 L706.2 408.1 L706.7 407.9 L707.1 407.7 L707.5 407.4 L707.9 407.3 L708.3 407.2 L708.7 407.2 L709.1 407.1 L709.5 407.2 L709.9 407.4 L710.3 407.7 L710.7 407.9 L711.1 408.1 L711.5 408.2 L711.9 408.6 L712.3 408.8 L712.7 408.9 L713.1 409.1 L713.5 409.2 L714.0 409.3 L714.4 409.2 L714.8 409.5 L715.2 409.3 L715.6 409.5 L716.0 409.5 L716.4 409.7 L716.8 409.6 L717.6 409.7 L718.4 409.8 L719.2 409.8 L720.0 409.7 L720.8 409.8 L721.7 409.8 L722.5 409.9 L723.3 409.8 L724.1 409.8 L724.9 409.7 L725.7 409.6 L726.5 409.7 L727.3 409.7 L728.1 409.9 L729.0 409.8 L729.8 409.7 L730.6 409.8 L731.4 409.7 L732.2 409.7 L733.0 409.6 L733.8 409.5 L734.6 409.4 L735.4 409.5 L736.3 409.5 L737.1 409.4 L737.9 409.2 L738.7 409.2 L739.5 409.3 L740.3 409.1 L741.1 409.0 L741.9 409.1 L742.7 409.2 L743.6 409.2 L744.4 409.0 L745.2 408.9 L746.0 408.7 L746.8 408.7 L747.6 408.5 L748.4 408.4 L749.2 408.5 L750.0 408.4 L750.8 408.2 L751.7 408.2 L752.5 408.1 L753.3 408.0 L754.1 408.1 L754.9 408.1 L755.7 408.3 L756.5 408.0 L757.3 407.9 L758.1 407.9 L759.0 408.1 L759.8 408.3 L760.6 408.2 L761.4 408.2 L762.2 408.2 L763.0 407.9 L763.8 407.9 L764.6 407.6 L765.4 407.7 L766.3 407.7 L767.1 407.7 L767.9 407.8 L768.7 407.7 L769.5 407.8 L770.3 407.7 L771.1 407.7 L771.9 407.9 L772.7 407.7 L773.6 407.7 L774.4 407.5 L775.2 407.5 L776.0 407.5 L776.8 407.4 L777.6 407.4 L778.4 407.4 L778.8 407.4 L779.2 407.2 L779.6 407.1 L780.0 407.1 L780.4 406.8 L780.9 406.7 L781.3 406.8 L781.7 406.8 L782.1 406.9 L782.5 406.9 L782.9 406.7 L783.3 406.6 L783.7 406.3 L784.1 406.1 L784.5 406.0 L784.7 405.9 L785.0 405.8 L785.2 405.7 L785.4 405.4 L785.7 405.1 L785.9 404.6 L786.1 404.3 L786.4 403.7 L786.6 402.8 L786.8 402.0 L787.1 401.0 L787.3 400.2 L787.5 399.4 L787.7 399.4 L788.0 399.5 L788.2 399.7 L788.4 400.1 L788.7 400.6 L788.9 401.2 L789.1 401.9 L789.4 402.2 L789.6 402.4 L789.8 402.8 L790.1 403.2 L790.3 403.2 L790.5 403.2 L790.8 403.3 L791.0 403.4 L791.2 403.5 L791.5 403.3 L791.7 403.2 L791.9 403.2 L792.1 402.9 L792.4 402.9 L792.6 402.8 L792.8 402.8 L793.1 402.6 L793.3 402.3 L793.5 402.0 L793.8 401.7 L794.0 401.4 L794.2 401.1 L794.5 400.8 L794.7 400.3 L794.9 399.9 L795.2 399.6 L795.4 399.1 L795.6 398.4 L795.9 397.7 L796.1 396.9 L796.3 396.0 L796.5 395.2 L796.8 394.2 L797.0 392.8 L797.2 391.3 L797.5 389.6 L797.7 387.5 L797.9 385.3 L798.2 382.3 L798.4 378.7 L798.6 374.7 L798.9 369.8 L799.1 364.3 L799.3 358.6 L799.6 353.9 L799.8 350.7 L800.0 349.9 L800.3 351.8 L800.5 355.9 L800.7 361.1 L801.0 366.5 L801.2 371.8 L801.4 376.4 L801.6 380.2 L801.9 383.5 L802.1 386.1 L802.3 388.3 L802.6 390.1 L802.8 391.7 L803.0 393.2 L803.3 394.4 L803.5 395.5 L803.7 396.2 L804.0 396.9 L804.2 397.7 L804.4 398.3 L804.7 398.9 L804.9 399.3 L805.1 399.8 L805.4 400.2 L805.6 400.6 L805.8 400.8 L806.0 401.4 L806.3 401.7 L806.5 401.8 L806.7 402.0 L807.0 402.2 L807.2 402.5 L807.4 402.5 L807.7 402.9 L807.9 403.4 L808.1 403.5 L808.4 403.7 L808.6 403.9 L808.8 403.9 L809.1 404.2 L809.3 404.1 L809.7 404.3 L810.1 404.5 L810.5 404.9 L810.9 405.0 L811.3 405.1 L811.7 405.2 L812.1 405.3 L812.5 405.5 L812.9 405.7 L813.3 405.9 L813.8 406.0 L814.2 406.0 L814.6 406.0 L815.0 406.2 L815.4 406.2 L815.8 406.2 L816.2 406.4 L816.6 406.6 L817.0 406.6 L817.4 406.5 L817.8 406.4 L818.2 406.6 L818.6 406.5 L819.0 406.7 L819.4 406.6 L819.8 406.6 L820.2 406.7 L820.6 406.7 L821.0 406.8 L821.5 406.8 L821.9 406.7 L822.3 406.7 L822.7 406.7 L823.1 407.0 L823.5 407.0 L823.9 406.9 L824.3 406.8 L824.7 406.9 L825.1 407.1 L825.5 407.0 L825.9 407.1 L826.3 407.1 L826.7 407.0 L827.1 406.9 L827.5 407.0 L827.9 406.9 L828.3 407.0 L828.8 406.8 L829.2 407.0 L829.6 407.0 L830.0 407.0 L830.4 407.0 L830.8 406.8 L831.2 406.3 L831.6 405.9 L832.0 405.4 L832.4 404.5 L832.8 403.5 L833.2 403.0 L833.6 403.0 L834.0 403.6 L834.4 404.5 L834.8 405.3 L835.2 405.9 L835.6 406.4 L836.1 406.9 L836.5 406.9 L836.9 407.1 L837.3 407.4 L837.7 407.4 L838.1 407.5 L838.5 407.6 L838.9 407.4 L839.3 407.4 L839.7 407.3 L840.1 407.2 L840.5 407.4 L840.9 407.5 L841.3 407.5 L841.7 407.4 L842.1 407.5 L842.5 407.5 L842.9 407.5 L843.3 407.3 L843.8 407.3 L844.2 407.1 L844.6 407.3 L845.0 407.3 L845.4 407.4 L845.8 407.6 L846.2 407.8 L846.6 407.8 L847.0 407.8 L847.4 407.9 L847.8 407.8 L848.2 407.9 L848.6 408.1 L849.0 407.9 L849.4 407.9 L849.8 407.9 L850.2 408.0 L850.6 408.0 L851.1 407.8 L851.5 407.7 L851.9 407.5 L852.3 407.0 L852.7 406.5 L853.1 405.5 L853.5 404.4 L853.9 403.3 L854.3 402.9 L854.7 403.9 L855.1 405.2 L855.5 406.3 L855.9 407.1 L856.3 407.7 L856.7 408.0 L857.1 408.0 L857.5 408.1 L857.9 408.4 L858.4 408.7 L858.8 408.5 L859.2 408.5 L859.6 408.6 L860.0 408.5 L860.4 408.6 L860.8 408.7 L861.2 408.8 L861.6 409.0 L862.0 408.9 L862.4 409.0 L862.8 409.0 L863.2 408.9 L863.6 408.8 L864.0 409.0 L864.4 409.1 L864.8 409.0 L865.2 408.9 L865.6 409.0 L866.1 409.0 L866.5 409.2 L866.9 409.2 L867.3 409.2 L867.7 409.1 L868.1 409.0 L868.5 408.8 L868.9 408.8 L869.3 408.7 L869.7 408.6 L870.1 408.5 L870.5 408.3 L870.9 408.0 L871.3 407.8 L871.7 407.6 L872.1 407.2 L872.5 407.0 L872.9 406.9 L873.4 406.8 L873.8 406.9 L874.2 407.0 L874.6 407.2 L875.0 407.7 L875.4 408.1 L875.8 408.1 L876.2 408.1 L876.6 408.4 L877.0 408.6 L877.4 408.7 L877.8 408.7 L878.2 409.0 L878.6 409.1 L879.0 409.1 L879.4 409.2 L879.8 409.4 L880.2 409.4 L880.7 409.2 L881.1 408.8 L881.5 408.5 L881.9 407.8 L882.3 407.2 L882.7 406.4 L883.1 405.7 L883.5 405.6 L883.9 406.0 L884.3 406.9 L884.7 407.8 L885.1 408.4 L885.5 408.9 L885.9 409.0 L886.3 409.4 L886.7 409.6 L887.1 409.6 L887.5 409.9 L887.9 409.9 L888.4 409.7 L888.8 409.6 L889.2 409.8 L889.6 409.8 L890.0 409.9 L890.4 409.8 L890.8 409.8 L891.2 409.8 L891.6 409.7 L892.0 409.7 L892.4 409.6 L892.8 409.6 L893.2 409.5 L893.6 409.7 L894.0 409.5 L894.8 409.8 L895.7 410.1 L896.5 410.1 L897.3 410.2 L898.1 410.5 L898.9 410.6 L899.7 410.2 L900.5 410.3 L901.3 410.2 L902.1 410.3 L903.0 410.3 L903.8 410.2 L904.6 410.2 L905.4 410.3 L906.2 410.2 L907.0 410.2 L907.8 410.2 L908.6 410.4 L909.4 410.4 L910.2 410.6 L911.1 410.5 L911.9 410.6 L912.7 410.6 L913.5 410.8 L914.3 410.7 L915.1 410.7 L915.9 410.6 L916.7 410.9 L917.5 410.9 L918.4 410.7 L919.2 410.7 L920.0 410.7 L920.8 410.8 L921.6 410.8 L922.4 410.6 L923.2 410.5 L924.0 410.5 L924.8 410.2 L925.7 409.8 L926.5 409.3 L927.3 409.1 L928.1 409.4 L928.9 409.9 L929.7 410.3 L930.5 410.6 L931.3 410.7 L932.1 410.8 L933.0 410.7 L933.8 410.8 L934.6 411.0 L935.4 410.7 L936.2 410.7 L937.0 410.9 L937.8 411.0 L938.6 410.9 L939.4 411.0 L940.3 410.8 L941.1 410.7 L941.9 410.9 L942.7 410.8 L943.5 410.8 L944.3 410.7 L945.1 410.7 L945.9 410.8 L946.7 410.9 L947.6 410.8 L948.4 411.0 L949.2 411.0 L950.0 411.0 L950.8 410.9 L951.6 411.0 L952.4 411.2 L953.2 411.0 L954.0 411.1 L954.8 411.1 L955.7 410.9 L956.5 410.7 L957.3 410.3 L958.1 410.2 L958.9 410.1 L959.7 410.3 L960.5 410.3 L961.3 410.5 L962.1 410.8 L963.0 410.8 L963.8 411.0 L964.6 411.2 L965.4 411.2 L966.2 411.1 L967.0 411.4 L967.8 411.1 L968.6 411.0 L969.4 411.1 L970.3 411.0 L971.1 410.8 L971.9 410.9 L972.7 410.9 L973.5 410.8 L974.3 411.0 L975.1 411.0 L975.9 411.2 L976.7 411.0 L977.6 411.1 L978.4 411.3 L979.2 411.5 L980.0 411.6 L980.8 411.5 L981.6 411.4 L982.4 411.3 L983.2 411.4 L984.0 411.3 L984.9 411.3 L985.7 411.0 L986.5 410.9 L987.3 411.2 L988.1 411.2 L988.9 411.2 L989.7 411.0 L990.5 411.1 L991.3 411.4 L992.1 411.3 L993.0 411.1 L993.8 411.2 L994.6 411.3 L995.4 411.3 L996.2 411.3 L997.0 411.2 L997.8 411.2 L998.6 411.4 L999.4 411.5 L1000.3 411.6 L1001.1 411.5 L1001.9 411.6 L1002.7 411.5 L1003.9 411.5" fill="none" stroke="#111111" stroke-width="1.07" stroke-linejoin="round"/>
<path d="M598.4 361.7 L599.2 361.6 L600.0 361.6 L600.8 361.4 L601.6 361.5 L602.5 361.6 L603.3 361.5 L604.1 361.5 L604.9 361.3 L605.7 361.3 L606.5 361.4 L607.3 361.5 L608.1 361.5 L608.9 361.3 L609.8 361.3 L610.6 361.1 L611.0 361.2 L611.4 361.4 L611.8 361.4 L612.2 361.3 L612.6 361.4 L613.0 361.3 L613.4 361.3 L613.8 361.2 L614.2 361.2 L614.6 360.9 L615.0 360.9 L615.4 360.9 L615.8 360.6 L616.2 360.4 L616.6 360.3 L617.1 360.4 L617.5 360.2 L617.9 360.1 L618.3 360.0 L618.7 359.8 L619.1 359.3 L619.5 358.9 L619.9 358.7 L620.3 358.4 L620.7 358.0 L621.1 357.5 L621.5 357.0 L621.9 356.7 L622.3 356.4 L622.7 356.0 L623.1 355.2 L623.5 355.0 L623.9 354.5 L624.3 354.2 L624.8 353.8 L625.2 353.5 L625.6 353.2 L626.0 352.9 L626.4 352.6 L626.8 352.2 L627.2 351.8 L627.6 351.3 L628.0 351.0 L628.4 350.9 L628.8 350.6 L629.2 350.5 L629.6 350.3 L630.0 350.3 L630.4 350.6 L630.8 351.0 L631.2 351.3 L631.6 351.6 L632.1 352.2 L632.5 352.5 L632.9 352.9 L633.3 353.6 L633.7 354.2 L634.1 354.6 L634.5 355.0 L634.9 355.5 L635.3 355.8 L635.7 356.2 L636.1 356.6 L636.5 356.7 L636.9 357.2 L637.3 357.7 L637.7 358.0 L638.1 358.1 L638.5 358.2 L638.9 358.4 L639.4 358.6 L639.8 359.1 L640.2 359.1 L640.6 359.3 L641.0 359.4 L641.4 359.6 L641.8 359.9 L642.2 359.8 L642.6 360.0 L643.0 360.1 L643.4 360.1 L643.8 360.2 L644.2 360.1 L644.6 360.4 L645.0 360.4 L645.4 360.6 L645.8 360.7 L646.2 360.7 L646.6 360.6 L647.1 360.7 L647.5 360.7 L647.9 360.8 L648.3 360.9 L648.7 360.9 L649.1 360.8 L649.5 361.0 L649.9 360.9 L650.3 361.1 L650.7 361.1 L651.1 361.1 L651.5 361.0 L651.9 361.3 L652.3 361.3 L652.7 361.4 L653.1 361.4 L653.5 361.4 L653.9 361.5 L654.4 361.5 L654.8 361.5 L655.2 361.5 L655.6 361.5 L656.0 361.5 L656.4 361.5 L657.2 361.3 L658.0 361.6 L658.8 361.4 L659.6 361.3 L660.4 361.3 L661.2 361.6 L662.1 361.7 L662.9 361.6 L663.7 361.7 L664.5 361.6 L665.3 361.4 L666.1 361.5 L666.9 361.6 L667.7 361.7 L668.5 361.6 L669.4 361.4 L670.2 361.3 L671.0 361.5 L671.8 361.6 L672.6 361.6 L673.4 361.6 L674.2 361.6 L675.0 361.5 L675.8 361.6 L676.7 361.7 L677.5 361.7 L678.3 361.9 L679.1 361.7 L679.9 361.5 L680.7 361.4 L681.5 361.8 L682.3 361.7 L683.1 361.8 L683.9 361.9 L684.8 362.0 L685.6 362.3 L686.4 362.1 L687.2 362.0 L688.0 362.0 L688.8 362.0 L689.6 362.0 L690.4 361.9 L691.2 362.1 L691.7 362.2 L692.1 362.1 L692.5 362.0 L692.9 361.9 L693.3 361.7 L693.7 361.8 L694.1 361.5 L694.5 361.3 L694.9 361.1 L695.3 360.7 L695.7 360.5 L696.1 360.8 L696.5 361.4 L696.9 361.6 L697.3 362.0 L697.7 362.2 L698.1 362.4 L698.5 362.5 L699.0 362.4 L699.4 362.6 L699.8 362.7 L700.2 362.6 L700.6 362.5 L701.0 362.3 L701.4 362.4 L701.8 362.3 L702.2 362.1 L702.6 362.1 L703.0 361.9 L703.4 361.8 L703.8 361.7 L704.2 361.9 L704.6 362.1 L705.0 361.9 L705.4 361.7 L705.8 361.6 L706.2 361.5 L706.7 361.6 L707.1 361.6 L707.5 361.4 L707.9 361.4 L708.3 361.2 L708.7 361.4 L709.1 361.4 L709.5 361.3 L709.9 361.5 L710.3 361.5 L710.7 361.7 L711.1 361.8 L711.5 362.0 L711.9 361.9 L712.3 361.9 L712.7 362.0 L713.1 362.0 L713.5 362.2 L714.0 362.1 L714.4 362.2 L714.8 362.4 L715.2 362.1 L715.6 362.1 L716.0 362.1 L716.4 362.1 L716.8 362.2 L717.6 362.3 L718.4 362.3 L719.2 362.3 L720.0 362.3 L720.8 362.4 L721.7 362.4 L722.5 362.3 L723.3 362.3 L724.1 362.2 L724.9 362.2 L725.7 362.1 L726.5 362.2 L727.3 362.3 L728.1 362.2 L729.0 362.1 L729.8 362.0 L730.6 361.9 L731.4 361.8 L732.2 362.0 L733.0 362.2 L733.8 361.9 L734.6 361.7 L735.4 361.8 L736.3 361.7 L737.1 361.5 L737.9 361.3 L738.7 361.4 L739.5 361.2 L740.3 361.3 L741.1 361.2 L741.9 361.2 L742.7 361.1 L743.6 361.0 L744.4 360.9 L745.2 360.8 L746.0 360.9 L746.8 360.7 L747.6 360.6 L748.4 360.5 L749.2 360.3 L750.0 360.2 L750.8 360.2 L751.7 360.3 L752.5 360.3 L753.3 360.2 L754.1 360.2 L754.9 360.2 L755.7 360.0 L756.5 359.9 L757.3 359.7 L758.1 359.7 L759.0 359.6 L759.8 359.4 L760.6 359.2 L761.4 359.5 L762.2 359.4 L763.0 359.4 L763.8 359.3 L764.6 359.1 L765.4 359.1 L766.3 359.1 L767.1 359.0 L767.9 359.0 L768.7 358.9 L769.5 358.8 L770.3 358.7 L771.1 358.5 L771.9 358.5 L772.7 358.4 L773.6 358.5 L774.4 358.3 L775.2 358.4 L776.0 358.2 L776.8 358.0 L777.6 357.8 L778.4 357.9 L778.8 357.7 L779.2 357.9 L779.6 357.9 L780.0 357.8 L780.4 357.6 L780.9 357.5 L781.3 357.4 L781.7 357.2 L782.1 357.3 L782.5 357.5 L782.9 357.3 L783.3 357.3 L783.7 357.3 L784.1 357.1 L784.5 356.9 L784.9 356.9 L785.1 356.8 L785.4 356.6 L785.6 356.6 L785.8 356.5 L786.1 356.5 L786.3 356.1 L786.5 356.0 L786.8 355.8 L787.0 355.6 L787.2 355.5 L787.5 355.3 L787.7 355.3 L787.9 354.9 L788.2 354.8 L788.4 354.6 L788.6 354.5 L788.8 354.4 L789.1 354.2 L789.3 354.2 L789.5 354.3 L789.8 354.3 L790.0 354.4 L790.2 354.4 L790.5 354.3 L790.7 354.3 L790.9 354.5 L791.2 354.4 L791.4 354.2 L791.6 354.5 L791.9 354.3 L792.1 354.2 L792.3 354.3 L792.6 354.1 L792.8 353.9 L793.0 354.0 L793.2 353.8 L793.5 353.9 L793.7 353.7 L793.9 353.8 L794.2 353.4 L794.4 353.1 L794.6 352.8 L794.9 352.5 L795.1 352.2 L795.3 351.9 L795.6 351.6 L795.8 351.1 L796.0 350.6 L796.3 350.0 L796.5 349.7 L796.7 349.1 L797.0 348.5 L797.2 347.8 L797.4 347.1 L797.6 346.2 L797.9 345.4 L798.1 344.3 L798.3 343.1 L798.6 341.9 L798.8 340.6 L799.0 339.5 L799.3 338.2 L799.5 337.1 L799.7 336.4 L800.0 335.8 L800.2 335.6 L800.4 335.7 L800.7 336.1 L800.9 336.8 L801.1 337.5 L801.4 338.7 L801.6 339.6 L801.8 340.8 L802.1 342.1 L802.3 343.2 L802.5 344.3 L802.7 345.2 L803.0 346.3 L803.2 346.9 L803.4 347.9 L803.7 348.7 L803.9 349.3 L804.1 349.9 L804.4 350.3 L804.6 351.0 L804.8 351.7 L805.1 351.8 L805.3 352.3 L805.5 352.5 L805.8 352.8 L806.0 353.0 L806.2 353.2 L806.5 353.4 L806.7 353.5 L806.9 354.0 L807.1 354.2 L807.4 354.4 L807.6 354.6 L807.8 354.8 L808.1 354.7 L808.3 354.8 L808.5 355.1 L808.8 355.3 L809.0 355.3 L809.2 355.4 L809.5 355.4 L809.7 355.7 L810.1 355.9 L810.5 356.1 L810.9 356.1 L811.3 356.3 L811.7 356.5 L812.1 356.5 L812.5 356.7 L812.9 356.7 L813.3 357.0 L813.8 357.1 L814.2 357.1 L814.6 357.2 L815.0 357.3 L815.4 357.3 L815.8 357.3 L816.2 357.3 L816.6 357.3 L817.0 357.5 L817.4 357.7 L817.8 357.7 L818.2 357.8 L818.6 357.9 L819.0 358.0 L819.4 358.1 L819.8 358.2 L820.2 358.3 L820.6 358.2 L821.0 358.3 L821.5 358.1 L821.9 358.2 L822.3 358.3 L822.7 358.4 L823.1 358.4 L823.5 358.6 L823.9 358.7 L824.3 358.6 L824.7 358.6 L825.1 358.7 L825.5 358.7 L825.9 358.8 L826.3 358.9 L826.7 358.7 L827.1 358.9 L827.5 359.0 L827.9 359.1 L828.3 359.1 L828.8 359.0 L829.2 359.0 L829.6 359.0 L830.0 358.8 L830.4 358.7 L830.8 358.7 L831.2 358.6 L831.6 358.3 L832.0 358.1 L832.4 357.9 L832.8 357.7 L833.2 357.6 L833.6 357.6 L834.0 357.9 L834.4 358.2 L834.8 358.6 L835.2 358.7 L835.6 358.7 L836.1 359.0 L836.5 359.3 L836.9 359.4 L837.3 359.5 L837.7 359.5 L838.1 359.7 L838.5 359.8 L838.9 359.9 L839.3 360.0 L839.7 360.1 L840.1 360.3 L840.5 360.2 L840.9 360.2 L841.3 360.3 L841.7 360.1 L842.1 360.2 L842.5 360.1 L842.9 360.1 L843.3 360.2 L843.8 360.1 L844.2 360.4 L844.6 360.3 L845.0 360.3 L845.4 360.3 L845.8 360.3 L846.2 360.4 L846.6 360.4 L847.0 360.3 L847.4 360.2 L847.8 360.3 L848.2 360.6 L848.6 360.7 L849.0 360.7 L849.4 360.7 L849.8 360.7 L850.2 360.8 L850.6 360.6 L851.1 360.5 L851.5 360.5 L851.9 360.5 L852.3 360.2 L852.7 360.1 L853.1 359.7 L853.5 359.6 L853.9 359.1 L854.3 359.0 L854.7 359.4 L855.1 359.9 L855.5 360.3 L855.9 360.5 L856.3 360.9 L856.7 361.2 L857.1 361.3 L857.5 361.3 L857.9 361.2 L858.4 361.4 L858.8 361.5 L859.2 361.5 L859.6 361.4 L860.0 361.7 L860.4 361.7 L860.8 361.7 L861.2 361.9 L861.6 361.7 L862.0 361.8 L862.4 361.7 L862.8 361.9 L863.2 361.8 L863.6 362.0 L864.0 361.9 L864.4 361.9 L864.8 362.0 L865.2 361.9 L865.6 361.9 L866.1 361.8 L866.5 361.9 L866.9 361.9 L867.3 361.8 L867.7 361.8 L868.1 361.9 L868.5 361.8 L868.9 361.8 L869.3 361.7 L869.7 361.6 L870.1 361.5 L870.5 361.5 L870.9 361.5 L871.3 361.3 L871.7 361.3 L872.1 361.1 L872.5 361.2 L872.9 361.4 L873.4 361.2 L873.8 361.2 L874.2 361.3 L874.6 361.5 L875.0 361.5 L875.4 361.4 L875.8 361.4 L876.2 361.6 L876.6 361.8 L877.0 362.0 L877.4 362.0 L877.8 362.2 L878.2 362.1 L878.6 362.3 L879.0 362.2 L879.4 362.2 L879.8 362.2 L880.2 362.3 L880.7 362.1 L881.1 361.8 L881.5 361.6 L881.9 361.3 L882.3 361.2 L882.7 361.0 L883.1 360.9 L883.5 360.9 L883.9 361.1 L884.3 361.3 L884.7 361.5 L885.1 361.5 L885.5 361.9 L885.9 362.1 L886.3 362.3 L886.7 362.5 L887.1 362.6 L887.5 362.5 L887.9 362.5 L888.4 362.6 L888.8 362.7 L889.2 362.8 L889.6 362.8 L890.0 362.6 L890.4 362.8 L890.8 362.6 L891.2 362.6 L891.6 362.7 L892.0 362.6 L892.4 362.9 L892.8 362.8 L893.2 362.8 L893.6 362.7 L894.0 363.0 L894.8 363.0 L895.7 362.9 L896.5 363.1 L897.3 362.9 L898.1 362.9 L898.9 363.1 L899.7 363.1 L900.5 363.0 L901.3 363.3 L902.1 363.4 L903.0 363.2 L903.8 363.2 L904.6 363.1 L905.4 363.1 L906.2 363.2 L907.0 363.2 L907.8 363.2 L908.6 363.2 L909.4 363.1 L910.2 363.3 L911.1 363.3 L911.9 363.4 L912.7 363.4 L913.5 363.3 L914.3 363.5 L915.1 363.5 L915.9 363.4 L916.7 363.4 L917.5 363.4 L918.4 363.6 L919.2 363.6 L920.0 363.5 L920.8 363.3 L921.6 363.3 L922.4 363.3 L923.2 363.3 L924.0 363.1 L924.8 363.2 L925.7 362.9 L926.5 362.7 L927.3 362.7 L928.1 362.9 L928.9 363.0 L929.7 363.3 L930.5 363.2 L931.3 363.5 L932.1 363.7 L933.0 363.9 L933.8 363.7 L934.6 363.9 L935.4 363.7 L936.2 363.8 L937.0 363.7 L937.8 363.6 L938.6 363.6 L939.4 363.4 L940.3 363.4 L941.1 363.6 L941.9 363.3 L942.7 363.4 L943.5 363.6 L944.3 363.6 L945.1 363.6 L945.9 363.8 L946.7 363.8 L947.6 363.5 L948.4 363.5 L949.2 363.5 L950.0 363.6 L950.8 363.6 L951.6 363.6 L952.4 363.8 L953.2 363.4 L954.0 363.5 L954.8 363.6 L955.7 363.6 L956.5 363.5 L957.3 363.4 L958.1 363.4 L958.9 363.4 L959.7 363.3 L960.5 363.5 L961.3 363.4 L962.1 363.5 L963.0 363.6 L963.8 363.5 L964.6 363.7 L965.4 363.7 L966.2 363.6 L967.0 363.7 L967.8 363.6 L968.6 363.8 L969.4 363.8 L970.3 364.0 L971.1 363.8 L971.9 363.8 L972.7 363.7 L973.5 363.6 L974.3 363.6 L975.1 363.7 L975.9 363.8 L976.7 363.8 L977.6 363.9 L978.4 364.0 L979.2 363.8 L980.0 363.8 L980.8 363.7 L981.6 364.0 L982.4 363.9 L983.2 364.0 L984.0 364.0 L984.9 363.9 L985.7 363.8 L986.5 363.9 L987.3 363.8 L988.1 363.7 L988.9 363.7 L989.7 363.8 L990.5 363.9 L991.3 364.1 L992.1 363.8 L993.0 363.9 L993.8 363.8 L994.6 364.0 L995.4 364.1 L996.2 364.1 L997.0 364.2 L997.8 364.1 L998.6 364.0 L999.4 363.9 L1000.3 363.9 L1001.1 364.0 L1001.9 364.1 L1002.7 364.2 L1003.9 364.1" fill="none" stroke="#ff0000" stroke-width="1.22" stroke-linejoin="round"/>
<path d="M598.4 313.7 L599.2 313.7 L600.0 313.7 L600.8 313.7 L601.6 313.7 L602.5 313.6 L603.3 313.7 L604.1 313.7 L604.9 313.7 L605.7 313.6 L606.5 313.6 L607.3 313.7 L608.1 313.8 L608.9 313.7 L609.8 313.6 L610.6 313.5 L611.0 313.4 L611.4 313.4 L611.8 313.4 L612.2 313.3 L612.6 313.5 L613.0 313.3 L613.4 313.3 L613.8 313.3 L614.2 313.4 L614.6 313.6 L615.0 313.4 L615.4 313.3 L615.8 313.2 L616.2 313.2 L616.6 313.1 L617.1 313.2 L617.5 312.9 L617.9 312.7 L618.3 312.6 L618.7 312.4 L619.1 312.2 L619.5 312.0 L619.9 311.6 L620.3 311.7 L620.7 311.3 L621.1 310.7 L621.5 310.5 L621.9 310.1 L622.3 309.8 L622.7 309.6 L623.1 309.2 L623.5 309.0 L623.9 308.7 L624.3 308.5 L624.8 308.2 L625.2 307.9 L625.6 307.7 L626.0 307.4 L626.4 307.1 L626.8 306.9 L627.2 306.7 L627.6 306.4 L628.0 306.4 L628.4 306.2 L628.8 305.8 L629.2 305.7 L629.6 305.5 L630.0 305.4 L630.4 305.3 L630.8 305.7 L631.2 305.7 L631.6 306.0 L632.1 306.3 L632.5 306.9 L632.9 307.3 L633.3 307.5 L633.7 307.9 L634.1 308.3 L634.5 308.6 L634.9 309.0 L635.3 309.2 L635.7 309.6 L636.1 309.8 L636.5 310.3 L636.9 310.7 L637.3 310.9 L637.7 311.2 L638.1 311.3 L638.5 311.4 L638.9 311.5 L639.4 311.6 L639.8 311.8 L640.2 312.0 L640.6 312.2 L641.0 312.2 L641.4 312.2 L641.8 312.3 L642.2 312.6 L642.6 312.7 L643.0 312.7 L643.4 312.6 L643.8 312.7 L644.2 312.8 L644.6 312.8 L645.0 313.0 L645.4 313.0 L645.8 313.0 L646.2 313.0 L646.6 313.1 L647.1 313.3 L647.5 313.2 L647.9 313.1 L648.3 313.2 L648.7 313.3 L649.1 313.5 L649.5 313.4 L649.9 313.6 L650.3 313.6 L650.7 313.6 L651.1 313.5 L651.5 313.5 L651.9 313.4 L652.3 313.6 L652.7 313.6 L653.1 313.8 L653.5 313.9 L653.9 313.8 L654.4 313.8 L654.8 313.9 L655.2 313.7 L655.6 313.7 L656.0 313.7 L656.4 313.7 L657.2 313.8 L658.0 313.7 L658.8 313.9 L659.6 313.8 L660.4 313.7 L661.2 313.6 L662.1 313.6 L662.9 313.8 L663.7 313.9 L664.5 313.9 L665.3 314.0 L666.1 314.1 L666.9 314.0 L667.7 314.0 L668.5 314.0 L669.4 314.2 L670.2 314.1 L671.0 314.1 L671.8 314.1 L672.6 314.2 L673.4 314.2 L674.2 314.2 L675.0 314.0 L675.8 314.0 L676.7 313.8 L677.5 313.9 L678.3 314.2 L679.1 314.2 L679.9 314.2 L680.7 314.2 L681.5 314.2 L682.3 314.1 L683.1 314.0 L683.9 314.1 L684.8 314.2 L685.6 314.1 L686.4 314.2 L687.2 314.1 L688.0 314.1 L688.8 314.1 L689.6 314.1 L690.4 314.3 L691.2 314.4 L691.7 314.4 L692.1 314.3 L692.5 314.3 L692.9 314.1 L693.3 314.1 L693.7 314.2 L694.1 314.2 L694.5 314.0 L694.9 313.7 L695.3 313.5 L695.7 313.5 L696.1 313.6 L696.5 313.8 L696.9 314.0 L697.3 314.2 L697.7 314.4 L698.1 314.6 L698.5 314.5 L699.0 314.7 L699.4 314.7 L699.8 314.7 L700.2 314.6 L700.6 314.6 L701.0 314.5 L701.4 314.6 L701.8 314.4 L702.2 314.3 L702.6 314.4 L703.0 314.4 L703.4 314.5 L703.8 314.5 L704.2 314.2 L704.6 314.3 L705.0 314.2 L705.4 314.2 L705.8 314.4 L706.2 314.4 L706.7 314.1 L707.1 314.1 L707.5 313.9 L707.9 314.0 L708.3 314.0 L708.7 313.9 L709.1 314.0 L709.5 314.1 L709.9 314.2 L710.3 314.1 L710.7 314.0 L711.1 314.0 L711.5 314.0 L711.9 314.1 L712.3 314.2 L712.7 314.4 L713.1 314.5 L713.5 314.4 L714.0 314.3 L714.4 314.6 L714.8 314.6 L715.2 314.6 L715.6 314.5 L716.0 314.4 L716.4 314.6 L716.8 314.5 L717.6 314.6 L718.4 314.7 L719.2 314.6 L720.0 314.5 L720.8 314.6 L721.7 314.7 L722.5 314.6 L723.3 314.4 L724.1 314.6 L724.9 314.6 L725.7 314.5 L726.5 314.6 L727.3 314.5 L728.1 314.5 L729.0 314.4 L729.8 314.2 L730.6 314.3 L731.4 314.1 L732.2 313.9 L733.0 313.9 L733.8 314.1 L734.6 314.1 L735.4 314.2 L736.3 314.2 L737.1 314.1 L737.9 314.0 L738.7 313.8 L739.5 313.7 L740.3 313.5 L741.1 313.5 L741.9 313.4 L742.7 313.3 L743.6 313.2 L744.4 313.1 L745.2 313.1 L746.0 313.0 L746.8 312.8 L747.6 312.8 L748.4 312.8 L749.2 312.6 L750.0 312.4 L750.8 312.2 L751.7 312.1 L752.5 312.2 L753.3 312.2 L754.1 312.1 L754.9 312.2 L755.7 312.1 L756.5 312.0 L757.3 311.9 L758.1 311.6 L759.0 311.7 L759.8 311.6 L760.6 311.6 L761.4 311.4 L762.2 311.3 L763.0 311.5 L763.8 311.3 L764.6 311.2 L765.4 311.2 L766.3 311.1 L767.1 311.0 L767.9 310.7 L768.7 310.7 L769.5 310.6 L770.3 310.7 L771.1 310.6 L771.9 310.4 L772.7 310.4 L773.6 310.3 L774.4 310.1 L775.2 310.2 L776.0 310.2 L776.8 310.0 L777.6 310.0 L778.4 309.9 L778.8 309.8 L779.2 309.7 L779.6 309.6 L780.0 309.6 L780.4 309.6 L780.9 309.5 L781.3 309.3 L781.7 309.3 L782.1 309.3 L782.5 309.1 L782.9 309.1 L783.3 309.1 L783.7 309.0 L784.1 308.9 L784.5 308.8 L784.9 308.6 L785.1 308.7 L785.4 308.6 L785.6 308.3 L785.8 308.2 L786.1 308.2 L786.3 308.2 L786.5 308.1 L786.8 307.9 L787.0 307.8 L787.2 307.6 L787.5 307.5 L787.7 307.4 L787.9 307.2 L788.2 307.1 L788.4 306.9 L788.6 306.8 L788.8 306.7 L789.1 306.8 L789.3 306.9 L789.5 306.8 L789.8 306.6 L790.0 306.6 L790.2 306.6 L790.5 306.7 L790.7 306.4 L790.9 306.5 L791.2 306.4 L791.4 306.5 L791.6 306.5 L791.9 306.4 L792.1 306.6 L792.3 306.4 L792.6 306.6 L792.8 306.4 L793.0 306.2 L793.2 306.3 L793.5 306.0 L793.7 305.9 L793.9 305.9 L794.2 305.7 L794.4 305.6 L794.6 305.2 L794.9 305.3 L795.1 305.1 L795.3 304.9 L795.6 304.7 L795.8 304.4 L796.0 304.0 L796.3 303.6 L796.5 303.4 L796.7 303.2 L797.0 302.9 L797.2 302.6 L797.4 302.1 L797.6 301.5 L797.9 300.8 L798.1 300.4 L798.3 299.8 L798.6 299.2 L798.8 298.4 L799.0 297.6 L799.3 296.9 L799.5 296.1 L799.7 295.3 L800.0 294.7 L800.2 294.2 L800.4 293.9 L800.7 293.8 L800.9 294.1 L801.1 294.6 L801.4 295.2 L801.6 295.6 L801.8 296.3 L802.1 297.0 L802.3 297.7 L802.5 298.3 L802.7 299.0 L803.0 299.5 L803.2 300.4 L803.4 300.9 L803.7 301.5 L803.9 301.9 L804.1 302.4 L804.4 302.6 L804.6 303.0 L804.8 303.5 L805.1 303.8 L805.3 303.9 L805.5 304.3 L805.8 304.4 L806.0 304.7 L806.2 305.0 L806.5 305.2 L806.7 305.3 L806.9 305.5 L807.1 305.7 L807.4 306.0 L807.6 306.2 L807.8 306.3 L808.1 306.6 L808.3 306.5 L808.5 306.8 L808.8 306.8 L809.0 306.9 L809.2 307.0 L809.5 307.1 L809.7 307.1 L809.9 307.2 L810.3 307.6 L810.7 307.6 L811.1 307.7 L811.6 307.8 L812.0 308.0 L812.4 308.1 L812.8 308.2 L813.2 308.3 L813.6 308.5 L814.0 308.6 L814.4 308.5 L814.8 308.5 L815.2 308.7 L815.6 308.8 L816.0 309.0 L816.4 309.0 L816.8 309.2 L817.2 309.2 L817.6 309.3 L818.0 309.4 L818.4 309.6 L818.8 309.5 L819.3 309.5 L819.7 309.4 L820.1 309.3 L820.5 309.4 L820.9 309.6 L821.3 309.7 L821.7 309.7 L822.1 309.9 L822.5 309.9 L822.9 310.1 L823.3 309.9 L823.7 309.8 L824.1 309.8 L824.5 309.8 L824.9 310.1 L825.3 310.0 L825.7 310.0 L826.1 310.1 L826.6 310.2 L827.0 310.2 L827.4 310.3 L827.8 310.4 L828.2 310.3 L828.6 310.1 L829.0 310.2 L829.4 310.2 L829.8 310.4 L830.2 310.3 L830.6 310.2 L831.0 310.2 L831.4 310.2 L831.8 310.0 L832.2 310.0 L832.6 309.9 L833.0 309.8 L833.4 309.7 L833.9 309.7 L834.3 309.7 L834.7 310.1 L835.1 310.4 L835.5 310.5 L835.9 310.7 L836.3 311.2 L836.7 311.1 L837.1 311.0 L837.5 311.2 L837.9 311.2 L838.3 311.2 L838.7 311.4 L839.1 311.4 L839.5 311.5 L839.9 311.6 L840.3 311.7 L840.7 311.7 L841.1 311.5 L841.6 311.7 L842.0 311.5 L842.4 311.7 L842.8 311.8 L843.2 311.7 L843.6 311.8 L844.0 311.9 L844.4 311.8 L844.8 311.9 L845.2 311.9 L845.6 311.8 L846.0 311.9 L846.4 312.1 L846.8 312.2 L847.2 312.2 L847.6 312.2 L848.0 312.3 L848.4 312.3 L848.9 312.4 L849.3 312.2 L849.7 312.4 L850.1 312.3 L850.5 312.1 L850.9 312.3 L851.3 312.2 L851.7 312.2 L852.1 312.1 L852.5 311.9 L852.9 311.8 L853.3 311.6 L853.7 311.4 L854.1 311.2 L854.5 311.3 L854.9 311.5 L855.3 311.9 L855.7 312.4 L856.2 312.7 L856.6 312.8 L857.0 312.8 L857.4 313.0 L857.8 313.2 L858.2 313.4 L858.6 313.1 L859.0 313.2 L859.4 313.2 L859.8 313.4 L860.2 313.3 L860.6 313.3 L861.0 313.6 L861.4 313.7 L861.8 313.4 L862.2 313.5 L862.6 313.7 L863.0 313.6 L863.4 313.7 L863.9 313.7 L864.3 313.5 L864.7 313.6 L865.1 313.7 L865.5 313.9 L865.9 313.8 L866.3 313.9 L866.7 313.8 L867.1 313.8 L867.5 313.8 L867.9 313.7 L868.3 313.8 L868.7 313.7 L869.1 313.5 L869.5 313.5 L869.9 313.5 L870.3 313.5 L870.7 313.5 L871.2 313.4 L871.6 313.3 L872.0 313.5 L872.4 313.5 L872.8 313.5 L873.2 313.5 L873.6 313.6 L874.0 313.6 L874.4 313.5 L874.8 313.5 L875.2 313.7 L875.6 313.9 L876.0 314.0 L876.4 314.2 L876.8 314.1 L877.2 314.1 L877.6 314.1 L878.0 314.3 L878.5 314.5 L878.9 314.4 L879.3 314.5 L879.7 314.4 L880.1 314.3 L880.5 314.2 L880.9 314.1 L881.3 314.2 L881.7 314.1 L882.1 314.1 L882.5 313.9 L882.9 313.5 L883.3 313.6 L883.7 313.7 L884.1 313.6 L884.5 313.9 L884.9 314.2 L885.3 314.5 L885.7 314.5 L886.2 314.7 L886.6 314.8 L887.0 314.8 L887.4 314.8 L887.8 314.9 L888.2 315.0 L888.6 315.1 L889.0 315.0 L889.4 314.9 L889.8 315.1 L890.2 315.2 L890.6 315.1 L891.0 315.1 L891.4 315.1 L891.8 314.9 L892.2 315.0 L892.6 315.3 L893.0 315.2 L893.5 315.1 L893.9 315.3 L894.7 315.3 L895.5 315.3 L896.3 315.3 L897.1 315.3 L897.9 315.2 L898.7 315.2 L899.5 315.2 L900.3 315.4 L901.2 315.4 L902.0 315.6 L902.8 315.4 L903.6 315.4 L904.4 315.6 L905.2 315.5 L906.0 315.4 L906.8 315.4 L907.6 315.4 L908.5 315.5 L909.3 315.7 L910.1 315.8 L910.9 315.9 L911.7 315.9 L912.5 315.8 L913.3 315.8 L914.1 315.6 L914.9 315.8 L915.8 315.9 L916.6 315.9 L917.4 315.8 L918.2 315.9 L919.0 315.9 L919.8 315.9 L920.6 315.8 L921.4 315.8 L922.2 315.8 L923.0 315.8 L923.9 315.8 L924.7 315.8 L925.5 315.6 L926.3 315.6 L927.1 315.6 L927.9 315.7 L928.7 315.8 L929.5 315.9 L930.3 315.9 L931.2 315.9 L932.0 315.7 L932.8 315.7 L933.6 315.9 L934.4 316.0 L935.2 316.1 L936.0 316.0 L936.8 316.2 L937.6 316.1 L938.5 315.9 L939.3 315.8 L940.1 315.8 L940.9 316.0 L941.7 316.1 L942.5 316.0 L943.3 316.1 L944.1 316.1 L944.9 316.0 L945.8 316.0 L946.6 316.1 L947.4 316.2 L948.2 316.1 L949.0 316.0 L949.8 316.1 L950.6 316.3 L951.4 316.1 L952.2 316.0 L953.1 316.1 L953.9 316.1 L954.7 316.0 L955.5 316.0 L956.3 316.0 L957.1 315.8 L957.9 315.8 L958.7 315.9 L959.5 316.1 L960.4 316.2 L961.2 316.1 L962.0 316.0 L962.8 316.2 L963.6 316.3 L964.4 316.2 L965.2 316.3 L966.0 316.4 L966.8 316.3 L967.6 316.1 L968.5 316.1 L969.3 316.1 L970.1 316.1 L970.9 316.1 L971.7 316.1 L972.5 316.2 L973.3 316.4 L974.1 316.2 L974.9 316.3 L975.8 316.3 L976.6 316.3 L977.4 316.3 L978.2 316.4 L979.0 316.3 L979.8 316.4 L980.6 316.3 L981.4 316.4 L982.2 316.4 L983.1 316.5 L983.9 316.3 L984.7 316.2 L985.5 316.4 L986.3 316.4 L987.1 316.6 L987.9 316.4 L988.7 316.4 L989.5 316.5 L990.4 316.6 L991.2 316.5 L992.0 316.5 L992.8 316.5 L993.6 316.5 L994.4 316.4 L995.2 316.5 L996.0 316.3 L996.8 316.3 L997.7 316.5 L998.5 316.5 L999.3 316.5 L1000.1 316.5 L1000.9 316.7 L1001.7 316.7 L1002.5 316.5 L1003.9 316.5" fill="none" stroke="#00ff00" stroke-width="1.22" stroke-linejoin="round"/>
<path d="M598.4 265.9 L599.2 265.8 L600.0 265.8 L600.8 265.9 L601.6 265.9 L602.5 266.1 L603.3 265.9 L604.1 265.8 L604.9 265.7 L605.7 265.8 L606.5 265.7 L607.3 265.9 L608.1 265.6 L608.9 265.8 L609.8 265.7 L610.6 265.7 L611.0 265.8 L611.4 265.8 L611.8 265.7 L612.2 265.8 L612.6 265.9 L613.0 265.8 L613.4 265.8 L613.8 265.6 L614.2 265.5 L614.6 265.6 L615.0 265.6 L615.4 265.6 L615.8 265.5 L616.2 265.4 L616.6 265.3 L617.1 265.5 L617.5 265.5 L617.9 265.3 L618.3 265.4 L618.7 265.4 L619.1 265.2 L619.5 265.0 L619.9 265.0 L620.3 264.9 L620.7 265.0 L621.1 264.8 L621.5 264.5 L621.9 264.2 L622.3 264.0 L622.7 264.0 L623.1 263.9 L623.5 263.7 L623.9 263.6 L624.3 263.4 L624.8 263.3 L625.2 263.0 L625.6 263.0 L626.0 262.8 L626.4 262.7 L626.8 262.5 L627.2 262.4 L627.6 262.3 L628.0 262.4 L628.4 262.2 L628.8 262.0 L629.2 261.9 L629.6 261.9 L630.0 261.9 L630.4 261.9 L630.8 262.1 L631.2 262.2 L631.6 262.2 L632.1 262.3 L632.5 262.3 L632.9 262.4 L633.3 262.5 L633.7 262.7 L634.1 263.1 L634.5 263.2 L634.9 263.5 L635.3 263.5 L635.7 263.8 L636.1 263.7 L636.5 263.8 L636.9 264.1 L637.3 264.2 L637.7 264.3 L638.1 264.4 L638.5 264.5 L638.9 264.6 L639.4 264.6 L639.8 264.7 L640.2 264.8 L640.6 264.8 L641.0 265.0 L641.4 265.2 L641.8 265.0 L642.2 265.1 L642.6 265.1 L643.0 265.2 L643.4 265.3 L643.8 265.3 L644.2 265.3 L644.6 265.4 L645.0 265.4 L645.4 265.6 L645.8 265.6 L646.2 265.5 L646.6 265.4 L647.1 265.5 L647.5 265.6 L647.9 265.5 L648.3 265.5 L648.7 265.5 L649.1 265.6 L649.5 265.6 L649.9 265.6 L650.3 265.8 L650.7 265.9 L651.1 265.9 L651.5 265.9 L651.9 265.7 L652.3 265.9 L652.7 266.0 L653.1 266.1 L653.5 266.1 L653.9 266.1 L654.4 266.0 L654.8 266.0 L655.2 266.1 L655.6 266.0 L656.0 266.2 L656.4 266.2 L657.2 266.1 L658.0 266.1 L658.8 265.9 L659.6 265.9 L660.4 265.9 L661.2 266.2 L662.1 266.1 L662.9 266.2 L663.7 266.2 L664.5 266.1 L665.3 266.2 L666.1 266.0 L666.9 266.1 L667.7 266.3 L668.5 266.3 L669.4 266.2 L670.2 266.2 L671.0 266.3 L671.8 266.2 L672.6 266.2 L673.4 266.2 L674.2 266.2 L675.0 266.2 L675.8 266.3 L676.7 266.3 L677.5 266.2 L678.3 266.2 L679.1 266.2 L679.9 266.3 L680.7 266.3 L681.5 266.2 L682.3 266.1 L683.1 266.4 L683.9 266.4 L684.8 266.3 L685.6 266.2 L686.4 266.3 L687.2 266.5 L688.0 266.6 L688.8 266.5 L689.6 266.4 L690.4 266.6 L691.2 266.4 L691.7 266.6 L692.1 266.6 L692.5 266.5 L692.9 266.6 L693.3 266.6 L693.7 266.4 L694.1 266.2 L694.5 266.3 L694.9 266.3 L695.3 266.4 L695.7 266.0 L696.1 266.3 L696.5 266.4 L696.9 266.6 L697.3 266.7 L697.7 266.7 L698.1 266.7 L698.5 266.7 L699.0 266.6 L699.4 266.6 L699.8 266.6 L700.2 266.6 L700.6 266.5 L701.0 266.4 L701.4 266.5 L701.8 266.6 L702.2 266.6 L702.6 266.5 L703.0 266.6 L703.4 266.6 L703.8 266.4 L704.2 266.6 L704.6 266.4 L705.0 266.7 L705.4 266.7 L705.8 266.6 L706.2 266.4 L706.7 266.4 L707.1 266.6 L707.5 266.7 L707.9 266.7 L708.3 266.5 L708.7 266.5 L709.1 266.5 L709.5 266.6 L709.9 266.6 L710.3 266.6 L710.7 266.5 L711.1 266.5 L711.5 266.7 L711.9 266.5 L712.3 266.7 L712.7 266.9 L713.1 266.9 L713.5 266.7 L714.0 266.8 L714.4 266.6 L714.8 266.7 L715.2 266.7 L715.6 266.8 L716.0 266.9 L716.4 266.9 L716.8 267.0 L717.6 267.0 L718.4 266.9 L719.2 266.7 L720.0 267.0 L720.8 266.8 L721.7 266.8 L722.5 266.7 L723.3 266.7 L724.1 266.5 L724.9 266.5 L725.7 266.5 L726.5 266.6 L727.3 266.5 L728.1 266.4 L729.0 266.3 L729.8 266.3 L730.6 266.3 L731.4 266.4 L732.2 266.3 L733.0 266.3 L733.8 266.3 L734.6 266.3 L735.4 266.2 L736.3 266.1 L737.1 266.1 L737.9 266.1 L738.7 265.9 L739.5 265.8 L740.3 265.7 L741.1 265.4 L741.9 265.6 L742.7 265.6 L743.6 265.5 L744.4 265.8 L745.2 265.7 L746.0 265.7 L746.8 265.6 L747.6 265.4 L748.4 265.1 L749.2 265.2 L750.0 265.0 L750.8 264.8 L751.7 264.7 L752.5 264.7 L753.3 264.7 L754.1 264.6 L754.9 264.5 L755.7 264.5 L756.5 264.3 L757.3 264.2 L758.1 264.2 L759.0 264.0 L759.8 264.0 L760.6 263.8 L761.4 263.7 L762.2 263.6 L763.0 263.6 L763.8 263.6 L764.6 263.6 L765.4 263.6 L766.3 263.5 L767.1 263.4 L767.9 263.3 L768.7 263.2 L769.5 263.2 L770.3 263.2 L771.1 263.0 L771.9 263.0 L772.7 262.8 L773.6 262.7 L774.4 262.4 L775.2 262.4 L776.0 262.5 L776.8 262.4 L777.6 262.4 L778.4 262.1 L778.8 262.0 L779.2 262.0 L779.6 262.1 L780.0 262.1 L780.4 261.8 L780.9 261.8 L781.3 261.8 L781.7 261.7 L782.1 261.7 L782.5 261.6 L782.9 261.4 L783.3 261.3 L783.7 261.1 L784.1 261.0 L784.5 261.1 L784.9 261.2 L785.3 261.0 L785.5 260.9 L785.8 260.8 L786.0 260.6 L786.2 260.7 L786.5 260.6 L786.7 260.6 L786.9 260.5 L787.2 260.5 L787.4 260.3 L787.6 260.4 L787.9 260.2 L788.1 260.3 L788.3 260.1 L788.6 260.1 L788.8 260.1 L789.0 260.0 L789.3 260.1 L789.5 260.0 L789.7 259.8 L789.9 259.8 L790.2 259.7 L790.4 259.6 L790.6 259.6 L790.9 259.5 L791.1 259.7 L791.3 259.4 L791.6 259.3 L791.8 259.4 L792.0 259.3 L792.3 259.3 L792.5 259.3 L792.7 259.1 L793.0 259.0 L793.2 259.0 L793.4 258.9 L793.7 258.6 L793.9 258.5 L794.1 258.5 L794.3 258.5 L794.6 258.6 L794.8 258.5 L795.0 258.2 L795.3 258.1 L795.5 258.1 L795.7 258.0 L796.0 257.8 L796.2 257.5 L796.4 257.3 L796.7 257.3 L796.9 257.1 L797.1 257.0 L797.4 256.8 L797.6 256.4 L797.8 256.0 L798.1 256.0 L798.3 255.6 L798.5 255.3 L798.8 255.0 L799.0 254.7 L799.2 254.5 L799.4 254.3 L799.7 254.4 L799.9 254.1 L800.1 253.9 L800.4 253.8 L800.6 253.8 L800.8 253.7 L801.1 253.7 L801.3 253.6 L801.5 253.9 L801.8 254.2 L802.0 254.5 L802.2 254.5 L802.5 254.9 L802.7 255.2 L802.9 255.3 L803.2 255.5 L803.4 255.7 L803.6 255.8 L803.8 256.2 L804.1 256.4 L804.3 256.5 L804.5 256.8 L804.8 257.1 L805.0 257.2 L805.2 257.4 L805.5 257.5 L805.7 257.8 L805.9 258.0 L806.2 258.1 L806.4 258.2 L806.6 258.4 L806.9 258.5 L807.1 258.8 L807.3 258.8 L807.6 258.9 L807.8 258.8 L808.0 259.0 L808.2 259.1 L808.5 259.2 L808.7 259.4 L808.9 259.4 L809.2 259.4 L809.4 259.6 L809.6 259.6 L809.9 259.6 L810.1 259.6 L810.5 259.8 L810.9 260.0 L811.3 259.9 L811.7 259.9 L812.1 260.2 L812.5 260.3 L812.9 260.7 L813.3 260.6 L813.8 260.7 L814.2 260.7 L814.6 260.9 L815.0 261.1 L815.4 261.3 L815.8 261.1 L816.2 261.3 L816.6 261.2 L817.0 261.3 L817.4 261.4 L817.8 261.5 L818.2 261.5 L818.6 261.7 L819.0 261.7 L819.4 261.7 L819.8 261.7 L820.2 261.7 L820.6 261.9 L821.0 261.9 L821.5 262.0 L821.9 262.2 L822.3 262.1 L822.7 262.1 L823.1 262.2 L823.5 262.3 L823.9 262.3 L824.3 262.4 L824.7 262.5 L825.1 262.3 L825.5 262.3 L825.9 262.2 L826.3 262.3 L826.7 262.4 L827.1 262.6 L827.5 262.7 L827.9 262.7 L828.3 262.9 L828.8 262.9 L829.2 262.8 L829.6 262.7 L830.0 262.8 L830.4 263.0 L830.8 263.0 L831.2 262.9 L831.6 262.9 L832.0 263.0 L832.4 262.9 L832.8 262.9 L833.2 262.9 L833.6 262.9 L834.0 262.9 L834.4 263.1 L834.8 263.1 L835.2 263.3 L835.6 263.4 L836.1 263.5 L836.5 263.3 L836.9 263.3 L837.3 263.3 L837.7 263.5 L838.1 263.6 L838.5 263.9 L838.9 264.0 L839.3 264.1 L839.7 264.0 L840.1 264.0 L840.5 264.0 L840.9 263.8 L841.3 264.0 L841.7 264.0 L842.1 264.1 L842.5 264.0 L842.9 264.0 L843.3 264.0 L843.8 264.1 L844.2 264.2 L844.6 264.2 L845.0 264.3 L845.4 264.4 L845.8 264.3 L846.2 264.3 L846.6 264.2 L847.0 264.3 L847.4 264.5 L847.8 264.5 L848.2 264.7 L848.6 264.7 L849.0 264.8 L849.4 264.8 L849.8 264.8 L850.2 264.9 L850.6 264.9 L851.1 264.8 L851.5 264.7 L851.9 264.9 L852.3 264.8 L852.7 264.7 L853.1 264.6 L853.5 264.5 L853.9 264.5 L854.3 264.6 L854.7 264.6 L855.1 264.7 L855.5 264.9 L855.9 265.1 L856.3 265.1 L856.7 265.2 L857.1 265.2 L857.5 265.3 L857.9 265.3 L858.4 265.3 L858.8 265.4 L859.2 265.4 L859.6 265.4 L860.0 265.7 L860.4 265.8 L860.8 265.6 L861.2 265.6 L861.6 265.5 L862.0 265.6 L862.4 265.6 L862.8 265.7 L863.2 265.8 L863.6 266.0 L864.0 266.1 L864.4 266.0 L864.8 266.0 L865.2 266.0 L865.6 266.0 L866.1 265.9 L866.5 265.8 L866.9 266.0 L867.3 265.8 L867.7 265.9 L868.1 266.0 L868.5 266.1 L868.9 265.9 L869.3 266.0 L869.7 266.1 L870.1 266.2 L870.5 266.4 L870.9 266.1 L871.3 266.2 L871.7 266.2 L872.1 266.3 L872.5 266.1 L872.9 266.1 L873.4 266.3 L873.8 266.2 L874.2 266.2 L874.6 266.2 L875.0 266.4 L875.4 266.3 L875.8 266.3 L876.2 266.4 L876.6 266.4 L877.0 266.7 L877.4 266.7 L877.8 266.6 L878.2 266.7 L878.6 266.7 L879.0 266.8 L879.4 266.8 L879.8 266.8 L880.2 266.7 L880.7 266.6 L881.1 266.6 L881.5 266.5 L881.9 266.7 L882.3 266.8 L882.7 266.9 L883.1 266.8 L883.5 266.8 L883.9 266.7 L884.3 266.6 L884.7 266.8 L885.1 266.7 L885.5 266.9 L885.9 266.9 L886.3 267.1 L886.7 267.1 L887.1 267.1 L887.5 267.1 L887.9 267.0 L888.4 267.0 L888.8 267.2 L889.2 267.3 L889.6 267.4 L890.0 267.3 L890.4 267.2 L890.8 267.3 L891.2 267.3 L891.6 267.5 L892.0 267.5 L892.4 267.3 L892.8 267.3 L893.2 267.5 L893.6 267.3 L894.0 267.3 L894.8 267.3 L895.7 267.5 L896.5 267.5 L897.3 267.4 L898.1 267.3 L898.9 267.4 L899.7 267.2 L900.5 267.4 L901.3 267.7 L902.1 267.7 L903.0 267.7 L903.8 267.6 L904.6 267.7 L905.4 267.7 L906.2 267.7 L907.0 267.9 L907.8 267.9 L908.6 267.8 L909.4 268.0 L910.2 267.9 L911.1 268.0 L911.9 268.0 L912.7 268.1 L913.5 268.1 L914.3 268.0 L915.1 268.1 L915.9 268.0 L916.7 268.0 L917.5 268.2 L918.4 268.0 L919.2 267.9 L920.0 267.9 L920.8 267.9 L921.6 268.1 L922.4 267.9 L923.2 268.2 L924.0 268.3 L924.8 268.1 L925.7 268.1 L926.5 268.0 L927.3 268.1 L928.1 268.1 L928.9 268.2 L929.7 268.2 L930.5 268.4 L931.3 268.3 L932.1 268.3 L933.0 268.3 L933.8 268.2 L934.6 268.3 L935.4 268.2 L936.2 268.3 L937.0 268.2 L937.8 268.2 L938.6 268.1 L939.4 268.1 L940.3 268.1 L941.1 268.1 L941.9 268.2 L942.7 268.1 L943.5 268.1 L944.3 268.1 L945.1 268.1 L945.9 268.2 L946.7 268.4 L947.6 268.4 L948.4 268.3 L949.2 268.3 L950.0 268.4 L950.8 268.2 L951.6 268.4 L952.4 268.2 L953.2 268.2 L954.0 268.3 L954.8 268.3 L955.7 268.5 L956.5 268.5 L957.3 268.4 L958.1 268.5 L958.9 268.4 L959.7 268.3 L960.5 268.5 L961.3 268.6 L962.1 268.6 L963.0 268.5 L963.8 268.6 L964.6 268.5 L965.4 268.6 L966.2 268.7 L967.0 268.8 L967.8 268.5 L968.6 268.4 L969.4 268.6 L970.3 268.6 L971.1 268.5 L971.9 268.2 L972.7 268.4 L973.5 268.4 L974.3 268.2 L975.1 268.6 L975.9 268.3 L976.7 268.4 L977.6 268.4 L978.4 268.5 L979.2 268.6 L980.0 268.6 L980.8 268.5 L981.6 268.5 L982.4 268.3 L983.2 268.3 L984.0 268.6 L984.9 268.6 L985.7 268.6 L986.5 268.8 L987.3 268.8 L988.1 268.8 L988.9 268.8 L989.7 268.7 L990.5 268.6 L991.3 268.7 L992.1 268.7 L993.0 268.9 L993.8 268.8 L994.6 268.7 L995.4 268.8 L996.2 268.7 L997.0 268.7 L997.8 268.6 L998.6 268.7 L999.4 268.8 L1000.3 268.9 L1001.1 268.9 L1001.9 268.7 L1002.7 268.8 L1003.9 269.0" fill="none" stroke="#0000ff" stroke-width="1.22" stroke-linejoin="round"/>
<path d="M598.4 219.2 L599.2 219.2 L600.0 219.2 L600.8 219.0 L601.6 219.1 L602.5 219.1 L603.3 219.0 L604.1 219.2 L604.9 219.1 L605.7 219.0 L606.5 219.0 L607.3 219.2 L608.1 219.4 L608.9 219.4 L609.8 219.4 L610.6 219.2 L611.0 219.2 L611.4 219.2 L611.8 219.1 L612.2 219.2 L612.6 219.2 L613.0 219.1 L613.4 219.0 L613.8 219.1 L614.2 219.0 L614.6 219.0 L615.0 218.9 L615.4 218.8 L615.8 219.0 L616.2 219.0 L616.6 218.7 L617.1 218.6 L617.5 218.5 L617.9 218.4 L618.3 218.2 L618.7 218.1 L619.1 217.9 L619.5 217.6 L619.9 217.5 L620.3 217.1 L620.7 216.8 L621.1 216.6 L621.5 216.4 L621.9 216.2 L622.3 216.0 L622.7 215.7 L623.1 215.5 L623.5 215.3 L623.9 215.1 L624.3 214.8 L624.8 214.6 L625.2 214.4 L625.6 214.2 L626.0 213.9 L626.4 213.6 L626.8 213.4 L627.2 213.1 L627.6 213.0 L628.0 212.9 L628.4 212.5 L628.8 212.4 L629.2 212.4 L629.6 212.3 L630.0 212.1 L630.4 212.1 L630.8 212.3 L631.2 212.6 L631.6 212.8 L632.1 212.9 L632.5 213.1 L632.9 213.5 L633.3 213.8 L633.7 214.2 L634.1 214.6 L634.5 215.0 L634.9 215.1 L635.3 215.4 L635.7 215.8 L636.1 216.1 L636.5 216.3 L636.9 216.6 L637.3 216.6 L637.7 216.7 L638.1 217.0 L638.5 217.3 L638.9 217.5 L639.4 217.6 L639.8 217.8 L640.2 217.8 L640.6 217.8 L641.0 217.7 L641.4 217.9 L641.8 218.2 L642.2 218.3 L642.6 218.3 L643.0 218.3 L643.4 218.5 L643.8 218.5 L644.2 218.4 L644.6 218.6 L645.0 218.6 L645.4 218.7 L645.8 218.7 L646.2 218.9 L646.6 218.9 L647.1 219.0 L647.5 219.0 L647.9 218.9 L648.3 218.9 L648.7 219.0 L649.1 218.9 L649.5 219.1 L649.9 219.0 L650.3 219.0 L650.7 218.9 L651.1 219.0 L651.5 219.2 L651.9 219.3 L652.3 219.2 L652.7 219.1 L653.1 219.3 L653.5 219.3 L653.9 219.2 L654.4 219.2 L654.8 219.4 L655.2 219.3 L655.6 219.3 L656.0 219.3 L656.4 219.2 L657.2 219.2 L658.0 219.2 L658.8 219.0 L659.6 219.3 L660.4 219.5 L661.2 219.4 L662.1 219.4 L662.9 219.2 L663.7 219.3 L664.5 219.4 L665.3 219.5 L666.1 219.4 L666.9 219.3 L667.7 219.3 L668.5 219.4 L669.4 219.6 L670.2 219.5 L671.0 219.5 L671.8 219.4 L672.6 219.5 L673.4 219.8 L674.2 219.8 L675.0 219.8 L675.8 219.6 L676.7 219.6 L677.5 219.6 L678.3 219.7 L679.1 219.7 L679.9 219.7 L680.7 219.5 L681.5 219.6 L682.3 219.5 L683.1 219.6 L683.9 219.7 L684.8 219.8 L685.6 219.6 L686.4 219.6 L687.2 219.6 L688.0 219.7 L688.8 219.7 L689.6 219.7 L690.4 219.7 L691.2 219.8 L691.7 219.8 L692.1 219.8 L692.5 219.6 L692.9 219.4 L693.3 219.3 L693.7 219.4 L694.1 219.2 L694.5 219.2 L694.9 219.0 L695.3 218.8 L695.7 218.6 L696.1 218.8 L696.5 219.2 L696.9 219.5 L697.3 219.7 L697.7 219.9 L698.1 220.0 L698.5 220.2 L699.0 220.2 L699.4 220.2 L699.8 220.1 L700.2 220.1 L700.6 220.0 L701.0 219.8 L701.4 219.9 L701.8 219.9 L702.2 219.6 L702.6 219.6 L703.0 219.9 L703.4 219.8 L703.8 219.7 L704.2 219.6 L704.6 219.7 L705.0 219.7 L705.4 219.7 L705.8 219.6 L706.2 219.6 L706.7 219.7 L707.1 219.6 L707.5 219.5 L707.9 219.3 L708.3 219.3 L708.7 219.5 L709.1 219.5 L709.5 219.3 L709.9 219.4 L710.3 219.6 L710.7 219.5 L711.1 219.6 L711.5 219.8 L711.9 219.9 L712.3 219.7 L712.7 219.6 L713.1 219.8 L713.5 219.9 L714.0 219.9 L714.4 219.9 L714.8 219.9 L715.2 220.1 L715.6 219.9 L716.0 220.0 L716.4 219.9 L716.8 219.9 L717.6 219.8 L718.4 219.9 L719.2 220.0 L720.0 220.0 L720.8 220.2 L721.7 220.1 L722.5 220.1 L723.3 220.1 L724.1 220.1 L724.9 220.2 L725.7 220.1 L726.5 220.0 L727.3 220.0 L728.1 219.9 L729.0 219.9 L729.8 219.9 L730.6 219.8 L731.4 219.8 L732.2 219.7 L733.0 219.7 L733.8 219.6 L734.6 219.6 L735.4 219.5 L736.3 219.5 L737.1 219.6 L737.9 219.4 L738.7 219.3 L739.5 219.1 L740.3 219.1 L741.1 219.0 L741.9 219.0 L742.7 218.8 L743.6 218.8 L744.4 218.9 L745.2 218.8 L746.0 218.6 L746.8 218.3 L747.6 218.3 L748.4 218.3 L749.2 218.3 L750.0 218.0 L750.8 217.9 L751.7 217.8 L752.5 217.6 L753.3 217.6 L754.1 217.7 L754.9 217.8 L755.7 217.7 L756.5 217.7 L757.3 217.4 L758.1 217.5 L759.0 217.5 L759.8 217.4 L760.6 217.4 L761.4 217.3 L762.2 217.3 L763.0 217.2 L763.8 216.9 L764.6 216.7 L765.4 216.8 L766.3 216.7 L767.1 216.8 L767.9 216.6 L768.7 216.4 L769.5 216.4 L770.3 216.3 L771.1 216.3 L771.9 216.1 L772.7 216.1 L773.6 216.1 L774.4 215.9 L775.2 215.7 L776.0 215.5 L776.8 215.5 L777.6 215.5 L778.4 215.4 L778.8 215.3 L779.2 215.3 L779.6 215.3 L780.0 215.3 L780.4 215.4 L780.9 215.3 L781.3 215.3 L781.7 215.1 L782.1 215.1 L782.5 215.1 L782.9 214.9 L783.3 214.8 L783.7 214.8 L784.1 214.7 L784.5 214.5 L784.9 214.4 L785.1 214.5 L785.4 214.5 L785.6 214.4 L785.8 214.4 L786.1 214.1 L786.3 214.0 L786.5 214.0 L786.8 213.7 L787.0 213.4 L787.2 213.3 L787.5 213.3 L787.7 212.7 L787.9 212.6 L788.2 212.2 L788.4 212.1 L788.6 211.8 L788.8 212.1 L789.1 211.9 L789.3 211.9 L789.5 211.8 L789.8 211.8 L790.0 211.8 L790.2 212.0 L790.5 212.2 L790.7 212.2 L790.9 212.4 L791.2 212.2 L791.4 212.2 L791.6 212.2 L791.9 212.0 L792.1 212.4 L792.3 212.3 L792.6 212.2 L792.8 212.0 L793.0 211.9 L793.2 211.7 L793.5 211.8 L793.7 211.6 L793.9 211.5 L794.2 211.4 L794.4 211.1 L794.6 211.0 L794.9 210.9 L795.1 210.7 L795.3 210.4 L795.6 210.2 L795.8 210.0 L796.0 209.8 L796.3 209.3 L796.5 209.1 L796.7 208.5 L797.0 208.1 L797.2 207.6 L797.4 207.0 L797.6 206.1 L797.9 205.4 L798.1 204.6 L798.3 203.9 L798.6 202.7 L798.8 201.7 L799.0 200.3 L799.3 199.0 L799.5 197.7 L799.7 196.5 L800.0 195.5 L800.2 194.9 L800.4 194.6 L800.7 194.8 L800.9 195.6 L801.1 196.5 L801.4 197.5 L801.6 198.8 L801.8 200.1 L802.1 201.3 L802.3 202.6 L802.5 203.6 L802.7 204.9 L803.0 205.7 L803.2 206.2 L803.4 206.9 L803.7 207.6 L803.9 208.1 L804.1 208.4 L804.4 209.0 L804.6 209.3 L804.8 209.8 L805.1 210.0 L805.3 210.3 L805.5 210.6 L805.8 210.7 L806.0 210.9 L806.2 211.2 L806.5 211.4 L806.7 211.5 L806.9 211.7 L807.1 212.0 L807.4 212.2 L807.6 212.3 L807.8 212.4 L808.1 212.3 L808.3 212.5 L808.5 212.5 L808.8 212.8 L809.0 212.8 L809.2 212.9 L809.5 212.9 L809.7 213.1 L810.1 213.2 L810.5 213.4 L810.9 213.6 L811.3 213.7 L811.7 213.8 L812.1 214.0 L812.5 214.2 L812.9 214.1 L813.3 214.1 L813.8 214.3 L814.2 214.5 L814.6 214.4 L815.0 214.5 L815.4 214.6 L815.8 214.9 L816.2 214.8 L816.6 214.7 L817.0 214.7 L817.4 214.7 L817.8 215.0 L818.2 215.0 L818.6 215.2 L819.0 215.3 L819.4 215.3 L819.8 215.4 L820.2 215.4 L820.6 215.5 L821.0 215.4 L821.5 215.4 L821.9 215.4 L822.3 215.5 L822.7 215.5 L823.1 215.4 L823.5 215.5 L823.9 215.7 L824.3 216.0 L824.7 215.8 L825.1 215.9 L825.5 215.9 L825.9 215.8 L826.3 215.9 L826.7 215.9 L827.1 216.1 L827.5 216.1 L827.9 216.1 L828.3 215.8 L828.8 215.9 L829.2 216.1 L829.6 216.0 L830.0 216.1 L830.4 216.1 L830.8 215.8 L831.2 215.8 L831.6 215.7 L832.0 215.7 L832.4 215.5 L832.8 215.3 L833.2 215.1 L833.6 215.1 L834.0 215.3 L834.4 215.4 L834.8 215.8 L835.2 216.0 L835.6 216.3 L836.1 216.4 L836.5 216.6 L836.9 216.7 L837.3 216.8 L837.7 216.9 L838.1 217.0 L838.5 217.0 L838.9 217.0 L839.3 217.0 L839.7 216.9 L840.1 217.0 L840.5 217.1 L840.9 217.2 L841.3 217.1 L841.7 217.2 L842.1 217.3 L842.5 217.1 L842.9 217.2 L843.3 217.3 L843.8 217.4 L844.2 217.4 L844.6 217.3 L845.0 217.1 L845.4 217.5 L845.8 217.5 L846.2 217.6 L846.6 217.8 L847.0 217.7 L847.4 217.6 L847.8 217.8 L848.2 217.8 L848.6 217.8 L849.0 217.9 L849.4 218.0 L849.8 218.0 L850.2 217.8 L850.6 217.7 L851.1 217.8 L851.5 217.8 L851.9 217.8 L852.3 217.6 L852.7 217.4 L853.1 217.3 L853.5 217.1 L853.9 216.9 L854.3 216.8 L854.7 216.9 L855.1 217.2 L855.5 217.5 L855.9 217.7 L856.3 217.9 L856.7 218.1 L857.1 218.2 L857.5 218.4 L857.9 218.5 L858.4 218.5 L858.8 218.6 L859.2 218.7 L859.6 218.7 L860.0 218.8 L860.4 218.7 L860.8 218.6 L861.2 218.9 L861.6 218.8 L862.0 218.8 L862.4 218.7 L862.8 218.7 L863.2 218.8 L863.6 219.0 L864.0 218.7 L864.4 218.7 L864.8 218.8 L865.2 218.9 L865.6 218.9 L866.1 219.0 L866.5 218.9 L866.9 219.0 L867.3 219.2 L867.7 219.2 L868.1 219.1 L868.5 219.3 L868.9 219.2 L869.3 219.1 L869.7 219.0 L870.1 218.9 L870.5 218.9 L870.9 219.0 L871.3 218.9 L871.7 218.8 L872.1 218.8 L872.5 218.7 L872.9 218.7 L873.4 218.8 L873.8 218.9 L874.2 218.8 L874.6 218.9 L875.0 219.0 L875.4 219.2 L875.8 219.3 L876.2 219.6 L876.6 219.6 L877.0 219.5 L877.4 219.5 L877.8 219.4 L878.2 219.6 L878.6 219.7 L879.0 219.8 L879.4 219.8 L879.8 219.6 L880.2 219.6 L880.7 219.5 L881.1 219.5 L881.5 219.4 L881.9 219.4 L882.3 219.2 L882.7 218.8 L883.1 218.6 L883.5 218.5 L883.9 218.6 L884.3 218.8 L884.7 219.2 L885.1 219.4 L885.5 219.7 L885.9 220.0 L886.3 220.0 L886.7 220.2 L887.1 220.2 L887.5 220.3 L887.9 220.4 L888.4 220.2 L888.8 220.3 L889.2 220.4 L889.6 220.3 L890.0 220.3 L890.4 220.4 L890.8 220.3 L891.2 220.2 L891.6 220.2 L892.0 220.1 L892.4 220.3 L892.8 220.3 L893.2 220.4 L893.6 220.3 L894.0 220.4 L894.8 220.4 L895.7 220.6 L896.5 220.5 L897.3 220.7 L898.1 220.8 L898.9 221.0 L899.7 220.8 L900.5 220.7 L901.3 220.6 L902.1 220.8 L903.0 220.8 L903.8 220.9 L904.6 220.8 L905.4 220.9 L906.2 221.0 L907.0 221.0 L907.8 220.9 L908.6 221.0 L909.4 221.1 L910.2 221.2 L911.1 221.1 L911.9 221.1 L912.7 221.0 L913.5 221.0 L914.3 221.0 L915.1 221.0 L915.9 221.1 L916.7 221.1 L917.5 221.1 L918.4 221.0 L919.2 220.9 L920.0 221.2 L920.8 221.0 L921.6 221.2 L922.4 221.3 L923.2 220.9 L924.0 220.8 L924.8 220.8 L925.7 220.7 L926.5 220.6 L927.3 220.5 L928.1 220.8 L928.9 220.9 L929.7 221.1 L930.5 221.1 L931.3 221.1 L932.1 221.3 L933.0 221.2 L933.8 221.1 L934.6 221.2 L935.4 221.3 L936.2 221.3 L937.0 221.2 L937.8 221.3 L938.6 221.4 L939.4 221.3 L940.3 221.3 L941.1 221.2 L941.9 221.5 L942.7 221.4 L943.5 221.5 L944.3 221.4 L945.1 221.4 L945.9 221.2 L946.7 221.3 L947.6 221.3 L948.4 221.3 L949.2 221.3 L950.0 221.2 L950.8 221.1 L951.6 221.2 L952.4 221.2 L953.2 221.2 L954.0 221.2 L954.8 221.2 L955.7 221.1 L956.5 221.3 L957.3 221.1 L958.1 221.1 L958.9 221.1 L959.7 221.0 L960.5 221.0 L961.3 221.2 L962.1 221.4 L963.0 221.4 L963.8 221.8 L964.6 221.7 L965.4 221.7 L966.2 221.6 L967.0 221.6 L967.8 221.7 L968.6 221.6 L969.4 221.7 L970.3 221.5 L971.1 221.4 L971.9 221.4 L972.7 221.3 L973.5 221.4 L974.3 221.3 L975.1 221.4 L975.9 221.2 L976.7 221.3 L977.6 221.5 L978.4 221.5 L979.2 221.6 L980.0 221.7 L980.8 221.5 L981.6 221.4 L982.4 221.5 L983.2 221.6 L984.0 221.5 L984.9 221.5 L985.7 221.6 L986.5 221.5 L987.3 221.5 L988.1 221.5 L988.9 221.6 L989.7 221.6 L990.5 221.5 L991.3 221.8 L992.1 221.7 L993.0 221.7 L993.8 221.7 L994.6 221.7 L995.4 221.7 L996.2 221.7 L997.0 221.7 L997.8 221.5 L998.6 221.6 L999.4 221.7 L1000.3 221.6 L1001.1 221.6 L1001.9 221.9 L1002.7 222.0 L1003.9 222.0" fill="none" stroke="#00ffff" stroke-width="1.22" stroke-linejoin="round"/>
<path d="M598.4 171.4 L599.2 171.4 L600.0 171.5 L600.8 171.4 L601.6 171.3 L602.5 171.4 L603.3 171.3 L604.1 171.2 L604.9 171.4 L605.7 171.2 L606.5 171.3 L607.3 171.3 L608.1 171.3 L608.9 171.2 L609.8 171.2 L610.6 171.2 L611.0 171.4 L611.4 171.4 L611.8 171.2 L612.2 171.3 L612.6 171.3 L613.0 171.2 L613.4 171.1 L613.8 171.1 L614.2 170.9 L614.6 170.8 L615.0 170.9 L615.4 171.0 L615.8 171.1 L616.2 170.9 L616.6 170.8 L617.1 170.4 L617.5 170.3 L617.9 170.1 L618.3 170.2 L618.7 169.8 L619.1 169.6 L619.5 169.3 L619.9 169.2 L620.3 169.1 L620.7 168.7 L621.1 168.5 L621.5 168.1 L621.9 167.7 L622.3 167.5 L622.7 167.1 L623.1 166.9 L623.5 166.5 L623.9 166.5 L624.3 166.2 L624.8 165.7 L625.2 165.5 L625.6 165.2 L626.0 164.9 L626.4 164.5 L626.8 164.2 L627.2 163.7 L627.6 163.6 L628.0 163.5 L628.4 163.4 L628.8 163.1 L629.2 162.9 L629.6 162.9 L630.0 162.8 L630.4 162.9 L630.8 162.9 L631.2 163.3 L631.6 163.6 L632.1 164.0 L632.5 164.5 L632.9 164.9 L633.3 165.2 L633.7 165.5 L634.1 165.9 L634.5 166.1 L634.9 166.6 L635.3 166.8 L635.7 167.2 L636.1 167.4 L636.5 167.8 L636.9 168.0 L637.3 168.5 L637.7 168.6 L638.1 168.8 L638.5 168.9 L638.9 169.0 L639.4 169.2 L639.8 169.3 L640.2 169.4 L640.6 169.5 L641.0 169.7 L641.4 169.8 L641.8 169.9 L642.2 170.0 L642.6 170.0 L643.0 170.1 L643.4 170.2 L643.8 170.2 L644.2 170.3 L644.6 170.3 L645.0 170.3 L645.4 170.5 L645.8 170.6 L646.2 170.5 L646.6 170.6 L647.1 170.7 L647.5 170.8 L647.9 170.9 L648.3 170.9 L648.7 171.0 L649.1 171.0 L649.5 170.9 L649.9 171.0 L650.3 171.0 L650.7 171.1 L651.1 171.2 L651.5 171.3 L651.9 171.3 L652.3 171.2 L652.7 171.2 L653.1 171.3 L653.5 171.1 L653.9 171.1 L654.4 171.2 L654.8 171.2 L655.2 171.2 L655.6 171.3 L656.0 171.4 L656.4 171.5 L657.2 171.4 L658.0 171.4 L658.8 171.4 L659.6 171.4 L660.4 171.3 L661.2 171.3 L662.1 171.5 L662.9 171.4 L663.7 171.5 L664.5 171.5 L665.3 171.6 L666.1 171.5 L666.9 171.4 L667.7 171.7 L668.5 171.6 L669.4 171.8 L670.2 171.5 L671.0 171.6 L671.8 171.6 L672.6 171.8 L673.4 171.9 L674.2 171.9 L675.0 171.7 L675.8 171.6 L676.7 171.5 L677.5 171.5 L678.3 171.6 L679.1 171.6 L679.9 171.6 L680.7 171.8 L681.5 171.9 L682.3 171.7 L683.1 171.6 L683.9 171.7 L684.8 171.9 L685.6 171.8 L686.4 172.0 L687.2 172.0 L688.0 172.1 L688.8 171.9 L689.6 171.9 L690.4 172.0 L691.2 172.0 L691.7 171.8 L692.1 171.8 L692.5 171.9 L692.9 171.9 L693.3 171.8 L693.7 171.9 L694.1 171.8 L694.5 171.7 L694.9 171.4 L695.3 171.2 L695.7 171.0 L696.1 171.0 L696.5 171.4 L696.9 171.8 L697.3 172.0 L697.7 172.1 L698.1 172.1 L698.5 172.2 L699.0 172.2 L699.4 172.3 L699.8 172.4 L700.2 172.3 L700.6 172.2 L701.0 172.2 L701.4 172.3 L701.8 172.4 L702.2 172.3 L702.6 172.1 L703.0 172.0 L703.4 171.9 L703.8 171.9 L704.2 171.9 L704.6 171.9 L705.0 171.8 L705.4 171.8 L705.8 171.8 L706.2 171.8 L706.7 171.8 L707.1 171.6 L707.5 171.5 L707.9 171.7 L708.3 171.6 L708.7 171.6 L709.1 171.6 L709.5 171.7 L709.9 171.7 L710.3 171.7 L710.7 171.7 L711.1 171.9 L711.5 171.8 L711.9 171.9 L712.3 172.1 L712.7 172.2 L713.1 172.2 L713.5 172.2 L714.0 172.4 L714.4 172.4 L714.8 172.5 L715.2 172.3 L715.6 172.2 L716.0 172.3 L716.4 172.3 L716.8 172.3 L717.6 172.2 L718.4 172.4 L719.2 172.3 L720.0 172.4 L720.8 172.2 L721.7 172.3 L722.5 172.5 L723.3 172.7 L724.1 172.5 L724.9 172.3 L725.7 172.5 L726.5 172.3 L727.3 172.1 L728.1 172.2 L729.0 172.1 L729.8 172.0 L730.6 172.1 L731.4 172.0 L732.2 171.9 L733.0 172.0 L733.8 171.9 L734.6 172.0 L735.4 172.0 L736.3 172.1 L737.1 172.0 L737.9 172.1 L738.7 172.0 L739.5 171.8 L740.3 171.8 L741.1 171.6 L741.9 171.4 L742.7 171.3 L743.6 171.3 L744.4 171.0 L745.2 171.0 L746.0 170.9 L746.8 170.9 L747.6 170.8 L748.4 170.8 L749.2 170.8 L750.0 170.7 L750.8 170.6 L751.7 170.4 L752.5 170.4 L753.3 170.3 L754.1 170.3 L754.9 170.4 L755.7 170.5 L756.5 170.5 L757.3 170.5 L758.1 170.3 L759.0 170.3 L759.8 170.4 L760.6 170.3 L761.4 170.1 L762.2 170.1 L763.0 169.9 L763.8 169.8 L764.6 169.9 L765.4 169.8 L766.3 169.6 L767.1 169.6 L767.9 169.7 L768.7 169.6 L769.5 169.6 L770.3 169.5 L771.1 169.5 L771.9 169.4 L772.7 169.2 L773.6 169.1 L774.4 169.0 L775.2 169.2 L776.0 169.1 L776.8 169.0 L777.6 169.0 L778.4 168.9 L778.8 168.8 L779.2 168.8 L779.6 168.7 L780.0 168.8 L780.4 168.8 L780.9 168.6 L781.3 168.5 L781.7 168.4 L782.1 168.5 L782.5 168.4 L782.9 168.4 L783.3 168.3 L783.7 168.1 L784.1 168.1 L784.5 168.1 L784.9 168.0 L785.1 168.0 L785.4 167.8 L785.6 167.6 L785.8 167.5 L786.1 167.3 L786.3 167.2 L786.5 167.0 L786.8 167.0 L787.0 166.7 L787.2 166.6 L787.5 166.4 L787.7 166.1 L787.9 165.7 L788.2 165.6 L788.4 165.4 L788.6 165.2 L788.8 165.2 L789.1 165.2 L789.3 165.0 L789.5 165.1 L789.8 164.9 L790.0 165.0 L790.2 165.3 L790.5 165.2 L790.7 165.4 L790.9 165.3 L791.2 165.3 L791.4 165.5 L791.6 165.7 L791.9 165.6 L792.1 165.6 L792.3 165.7 L792.6 165.3 L792.8 165.1 L793.0 165.3 L793.2 165.4 L793.5 165.3 L793.7 165.1 L793.9 164.9 L794.2 164.8 L794.4 164.5 L794.6 164.3 L794.9 164.1 L795.1 164.0 L795.3 163.8 L795.6 163.6 L795.8 163.3 L796.0 162.9 L796.3 162.7 L796.5 162.0 L796.7 161.6 L797.0 161.2 L797.2 160.7 L797.4 160.3 L797.6 159.5 L797.9 158.6 L798.1 157.8 L798.3 157.0 L798.6 156.0 L798.8 154.9 L799.0 153.7 L799.3 152.4 L799.5 151.1 L799.7 150.0 L800.0 149.0 L800.2 148.5 L800.4 148.3 L800.7 148.6 L800.9 149.0 L801.1 149.9 L801.4 151.0 L801.6 152.2 L801.8 153.4 L802.1 154.6 L802.3 155.7 L802.5 156.8 L802.7 157.8 L803.0 158.6 L803.2 159.4 L803.4 159.9 L803.7 160.5 L803.9 161.0 L804.1 161.5 L804.4 161.8 L804.6 162.3 L804.8 162.7 L805.1 163.0 L805.3 163.3 L805.5 163.6 L805.8 163.8 L806.0 164.0 L806.2 164.3 L806.5 164.6 L806.7 164.8 L806.9 164.9 L807.1 165.2 L807.4 165.2 L807.6 165.3 L807.8 165.6 L808.1 165.9 L808.3 166.0 L808.5 166.0 L808.8 166.0 L809.0 166.0 L809.2 166.1 L809.5 166.2 L809.7 166.3 L810.1 166.6 L810.5 166.6 L810.9 166.9 L811.3 167.1 L811.7 167.2 L812.1 167.2 L812.5 167.2 L812.9 167.1 L813.3 167.3 L813.8 167.4 L814.2 167.6 L814.6 167.6 L815.0 167.7 L815.4 167.7 L815.8 167.6 L816.2 167.8 L816.6 168.0 L817.0 167.8 L817.4 168.0 L817.8 168.1 L818.2 168.1 L818.6 168.1 L819.0 168.1 L819.4 168.3 L819.8 168.3 L820.2 168.4 L820.6 168.4 L821.0 168.7 L821.5 168.7 L821.9 168.6 L822.3 168.6 L822.7 168.5 L823.1 168.5 L823.5 168.5 L823.9 168.7 L824.3 168.8 L824.7 168.9 L825.1 168.9 L825.5 168.8 L825.9 168.9 L826.3 168.9 L826.7 169.1 L827.1 169.2 L827.5 169.2 L827.9 169.2 L828.3 168.9 L828.8 169.0 L829.2 169.2 L829.6 169.1 L830.0 169.1 L830.4 169.2 L830.8 169.0 L831.2 168.9 L831.6 168.7 L832.0 168.6 L832.4 168.4 L832.8 168.4 L833.2 168.3 L833.6 168.3 L834.0 168.6 L834.4 168.7 L834.8 168.8 L835.2 168.9 L835.6 169.0 L836.1 169.2 L836.5 169.3 L836.9 169.5 L837.3 169.4 L837.7 169.4 L838.1 169.4 L838.5 169.5 L838.9 169.7 L839.3 169.7 L839.7 169.9 L840.1 169.8 L840.5 169.8 L840.9 169.9 L841.3 170.0 L841.7 170.0 L842.1 170.0 L842.5 169.9 L842.9 170.0 L843.3 170.0 L843.8 170.0 L844.2 170.0 L844.6 169.9 L845.0 169.9 L845.4 170.1 L845.8 170.3 L846.2 170.3 L846.6 170.1 L847.0 170.3 L847.4 170.3 L847.8 170.6 L848.2 170.5 L848.6 170.5 L849.0 170.4 L849.4 170.6 L849.8 170.6 L850.2 170.5 L850.6 170.6 L851.1 170.8 L851.5 170.6 L851.9 170.3 L852.3 170.2 L852.7 170.0 L853.1 169.6 L853.5 169.3 L853.9 169.1 L854.3 169.0 L854.7 169.4 L855.1 169.8 L855.5 170.1 L855.9 170.5 L856.3 170.5 L856.7 170.8 L857.1 170.7 L857.5 170.8 L857.9 171.0 L858.4 171.0 L858.8 171.0 L859.2 171.2 L859.6 171.3 L860.0 171.4 L860.4 171.4 L860.8 171.3 L861.2 171.2 L861.6 171.4 L862.0 171.6 L862.4 171.3 L862.8 171.4 L863.2 171.4 L863.6 171.5 L864.0 171.5 L864.4 171.5 L864.8 171.5 L865.2 171.5 L865.6 171.6 L866.1 171.6 L866.5 171.5 L866.9 171.6 L867.3 171.6 L867.7 171.7 L868.1 171.6 L868.5 171.7 L868.9 171.8 L869.3 171.7 L869.7 171.6 L870.1 171.6 L870.5 171.3 L870.9 171.2 L871.3 171.2 L871.7 171.2 L872.1 171.2 L872.5 171.4 L872.9 171.4 L873.4 171.3 L873.8 171.5 L874.2 171.5 L874.6 171.4 L875.0 171.6 L875.4 171.7 L875.8 171.8 L876.2 171.9 L876.6 171.8 L877.0 171.8 L877.4 171.8 L877.8 171.9 L878.2 172.0 L878.6 171.9 L879.0 171.9 L879.4 171.8 L879.8 172.1 L880.2 172.1 L880.7 172.0 L881.1 171.8 L881.5 171.6 L881.9 171.5 L882.3 171.3 L882.7 171.1 L883.1 171.0 L883.5 171.2 L883.9 171.3 L884.3 171.5 L884.7 171.5 L885.1 171.7 L885.5 171.9 L885.9 172.0 L886.3 172.1 L886.7 172.2 L887.1 172.3 L887.5 172.3 L887.9 172.3 L888.4 172.4 L888.8 172.6 L889.2 172.5 L889.6 172.6 L890.0 172.4 L890.4 172.6 L890.8 172.6 L891.2 172.6 L891.6 172.7 L892.0 172.6 L892.4 172.6 L892.8 172.8 L893.2 172.7 L893.6 172.6 L894.0 172.7 L894.8 172.8 L895.7 172.8 L896.5 172.7 L897.3 172.6 L898.1 172.6 L898.9 172.9 L899.7 173.0 L900.5 172.9 L901.3 173.1 L902.1 173.2 L903.0 173.1 L903.8 173.1 L904.6 173.0 L905.4 173.1 L906.2 173.3 L907.0 173.1 L907.8 173.1 L908.6 173.1 L909.4 173.1 L910.2 173.2 L911.1 173.2 L911.9 173.4 L912.7 173.4 L913.5 173.5 L914.3 173.5 L915.1 173.6 L915.9 173.4 L916.7 173.4 L917.5 173.4 L918.4 173.3 L919.2 173.5 L920.0 173.5 L920.8 173.5 L921.6 173.2 L922.4 173.2 L923.2 173.3 L924.0 173.2 L924.8 173.1 L925.7 173.2 L926.5 173.0 L927.3 172.9 L928.1 173.0 L928.9 173.1 L929.7 173.3 L930.5 173.4 L931.3 173.5 L932.1 173.5 L933.0 173.5 L933.8 173.7 L934.6 173.6 L935.4 173.6 L936.2 173.4 L937.0 173.5 L937.8 173.6 L938.6 173.7 L939.4 173.7 L940.3 173.7 L941.1 173.6 L941.9 173.7 L942.7 173.8 L943.5 173.8 L944.3 173.6 L945.1 173.7 L945.9 173.6 L946.7 173.7 L947.6 173.8 L948.4 173.7 L949.2 173.7 L950.0 173.7 L950.8 173.6 L951.6 173.6 L952.4 173.5 L953.2 173.6 L954.0 173.6 L954.8 173.5 L955.7 173.4 L956.5 173.4 L957.3 173.3 L958.1 173.4 L958.9 173.5 L959.7 173.6 L960.5 173.4 L961.3 173.6 L962.1 173.8 L963.0 173.9 L963.8 173.8 L964.6 173.8 L965.4 174.0 L966.2 173.8 L967.0 173.7 L967.8 173.7 L968.6 173.8 L969.4 173.7 L970.3 173.6 L971.1 173.8 L971.9 173.8 L972.7 173.8 L973.5 173.7 L974.3 173.6 L975.1 173.6 L975.9 173.8 L976.7 173.8 L977.6 173.6 L978.4 173.7 L979.2 173.7 L980.0 173.8 L980.8 173.7 L981.6 173.8 L982.4 173.8 L983.2 173.9 L984.0 173.9 L984.9 174.0 L985.7 173.9 L986.5 173.7 L987.3 173.6 L988.1 173.8 L988.9 173.9 L989.7 174.0 L990.5 174.0 L991.3 173.8 L992.1 173.8 L993.0 173.9 L993.8 174.1 L994.6 174.0 L995.4 174.0 L996.2 173.9 L997.0 174.1 L997.8 174.1 L998.6 173.9 L999.4 174.1 L1000.3 174.0 L1001.1 173.9 L1001.9 173.8 L1002.7 173.8 L1003.9 174.2" fill="none" stroke="#ff00ff" stroke-width="1.22" stroke-linejoin="round"/>
<path d="M598.4 124.1 L599.2 123.9 L600.0 123.8 L600.8 123.8 L601.6 123.9 L602.5 123.8 L603.3 123.7 L604.1 123.7 L604.9 123.6 L605.7 123.5 L606.5 123.6 L607.3 123.5 L608.1 123.4 L608.9 123.7 L609.8 123.7 L610.6 123.8 L611.0 123.7 L611.4 123.5 L611.8 123.5 L612.2 123.3 L612.6 123.4 L613.0 123.4 L613.4 123.3 L613.8 123.1 L614.2 123.0 L614.6 123.1 L615.0 123.1 L615.4 123.0 L615.8 122.8 L616.2 122.7 L616.6 122.5 L617.1 122.3 L617.5 122.1 L617.9 121.7 L618.3 121.2 L618.7 120.7 L619.1 120.2 L619.5 119.8 L619.9 119.6 L620.3 119.3 L620.7 118.6 L621.1 117.9 L621.5 117.3 L621.9 116.8 L622.3 116.2 L622.7 115.5 L623.1 115.0 L623.5 114.4 L623.9 114.0 L624.3 113.6 L624.8 113.1 L625.2 112.4 L625.6 112.1 L626.0 111.5 L626.4 111.0 L626.8 110.5 L627.2 110.0 L627.6 109.6 L628.0 109.2 L628.4 108.6 L628.8 108.2 L629.2 108.0 L629.6 107.7 L630.0 107.7 L630.4 108.0 L630.8 108.7 L631.2 109.2 L631.6 109.8 L632.1 110.5 L632.5 111.2 L632.9 112.1 L633.3 112.8 L633.7 113.7 L634.1 114.6 L634.5 115.3 L634.9 116.0 L635.3 116.5 L635.7 116.9 L636.1 117.5 L636.5 118.0 L636.9 118.3 L637.3 118.7 L637.7 119.2 L638.1 119.6 L638.5 120.0 L638.9 120.3 L639.4 120.5 L639.8 120.7 L640.2 121.0 L640.6 121.1 L641.0 121.3 L641.4 121.5 L641.8 121.6 L642.2 121.9 L642.6 121.9 L643.0 121.9 L643.4 121.9 L643.8 122.2 L644.2 122.3 L644.6 122.4 L645.0 122.5 L645.4 122.6 L645.8 122.5 L646.2 122.6 L646.6 122.7 L647.1 122.9 L647.5 123.0 L647.9 122.9 L648.3 122.9 L648.7 123.0 L649.1 123.2 L649.5 123.3 L649.9 123.3 L650.3 123.4 L650.7 123.2 L651.1 123.2 L651.5 123.2 L651.9 123.2 L652.3 123.4 L652.7 123.4 L653.1 123.5 L653.5 123.5 L653.9 123.6 L654.4 123.7 L654.8 123.6 L655.2 123.7 L655.6 123.6 L656.0 123.8 L656.4 123.7 L657.2 123.7 L658.0 123.6 L658.8 123.7 L659.6 123.9 L660.4 123.8 L661.2 124.0 L662.1 124.1 L662.9 124.1 L663.7 124.0 L664.5 124.1 L665.3 123.8 L666.1 123.8 L666.9 124.0 L667.7 124.0 L668.5 124.3 L669.4 124.1 L670.2 124.0 L671.0 124.0 L671.8 124.1 L672.6 124.2 L673.4 124.0 L674.2 124.0 L675.0 124.2 L675.8 124.0 L676.7 124.0 L677.5 123.9 L678.3 124.1 L679.1 124.2 L679.9 124.3 L680.7 124.3 L681.5 124.4 L682.3 124.3 L683.1 124.4 L683.9 124.5 L684.8 124.5 L685.6 124.5 L686.4 124.5 L687.2 124.5 L688.0 124.3 L688.8 124.2 L689.6 124.5 L690.4 124.5 L691.2 124.4 L691.7 124.3 L692.1 124.4 L692.5 124.4 L692.9 124.3 L693.3 124.4 L693.7 124.2 L694.1 124.4 L694.5 124.0 L694.9 123.8 L695.3 123.4 L695.7 123.0 L696.1 123.2 L696.5 123.7 L696.9 124.2 L697.3 124.5 L697.7 124.7 L698.1 124.8 L698.5 124.8 L699.0 125.0 L699.4 125.2 L699.8 125.1 L700.2 124.9 L700.6 124.9 L701.0 125.0 L701.4 125.0 L701.8 124.8 L702.2 124.7 L702.6 124.7 L703.0 124.6 L703.4 124.6 L703.8 124.7 L704.2 124.6 L704.6 124.5 L705.0 124.4 L705.4 124.5 L705.8 124.3 L706.2 124.4 L706.7 124.3 L707.1 124.2 L707.5 124.0 L707.9 124.1 L708.3 124.1 L708.7 124.1 L709.1 124.2 L709.5 123.9 L709.9 124.0 L710.3 124.0 L710.7 124.1 L711.1 124.2 L711.5 124.3 L711.9 124.5 L712.3 124.5 L712.7 124.5 L713.1 124.6 L713.5 124.7 L714.0 125.0 L714.4 125.0 L714.8 125.0 L715.2 124.8 L715.6 125.1 L716.0 125.0 L716.4 125.0 L716.8 125.1 L717.6 125.1 L718.4 125.2 L719.2 125.0 L720.0 125.0 L720.8 125.0 L721.7 124.9 L722.5 124.9 L723.3 125.1 L724.1 125.1 L724.9 125.0 L725.7 124.9 L726.5 124.9 L727.3 124.9 L728.1 124.8 L729.0 124.9 L729.8 124.8 L730.6 124.9 L731.4 124.8 L732.2 124.6 L733.0 124.5 L733.8 124.6 L734.6 124.5 L735.4 124.7 L736.3 124.8 L737.1 124.9 L737.9 124.8 L738.7 124.8 L739.5 124.6 L740.3 124.6 L741.1 124.4 L741.9 124.3 L742.7 124.1 L743.6 124.1 L744.4 124.1 L745.2 124.1 L746.0 123.9 L746.8 123.9 L747.6 124.0 L748.4 123.8 L749.2 123.8 L750.0 123.8 L750.8 123.6 L751.7 123.6 L752.5 123.3 L753.3 123.3 L754.1 123.4 L754.9 123.3 L755.7 123.4 L756.5 123.4 L757.3 123.1 L758.1 123.2 L759.0 123.3 L759.8 123.3 L760.6 123.3 L761.4 123.1 L762.2 123.0 L763.0 122.9 L763.8 123.2 L764.6 123.1 L765.4 123.0 L766.3 123.0 L767.1 122.7 L767.9 122.9 L768.7 123.0 L769.5 122.8 L770.3 122.8 L771.1 122.7 L771.9 122.7 L772.7 122.6 L773.6 122.5 L774.4 122.6 L775.2 122.6 L776.0 122.5 L776.8 122.2 L777.6 122.1 L778.4 122.2 L778.8 122.3 L779.2 122.2 L779.6 122.3 L780.0 122.2 L780.4 122.1 L780.9 122.0 L781.3 122.0 L781.7 121.9 L782.1 122.1 L782.5 122.1 L782.9 122.0 L783.3 121.8 L783.7 121.6 L784.1 121.5 L784.5 121.2 L784.9 121.2 L785.1 121.0 L785.4 120.9 L785.6 120.8 L785.8 120.6 L786.1 120.7 L786.3 120.6 L786.5 120.2 L786.8 120.1 L787.0 119.7 L787.2 118.9 L787.5 118.5 L787.7 118.0 L787.9 117.5 L788.2 117.4 L788.4 117.6 L788.6 117.7 L788.8 117.7 L789.1 117.9 L789.3 118.1 L789.5 118.5 L789.8 118.7 L790.0 118.8 L790.2 118.9 L790.5 118.9 L790.7 119.1 L790.9 119.4 L791.2 119.2 L791.4 119.4 L791.6 119.4 L791.9 119.5 L792.1 119.4 L792.3 119.4 L792.6 119.5 L792.8 119.6 L793.0 119.2 L793.2 119.0 L793.5 118.9 L793.7 118.7 L793.9 118.5 L794.2 118.4 L794.4 118.4 L794.6 118.3 L794.9 117.8 L795.1 117.5 L795.3 117.3 L795.6 116.9 L795.8 116.5 L796.0 116.2 L796.3 115.8 L796.5 115.4 L796.7 114.7 L797.0 114.2 L797.2 113.4 L797.4 112.5 L797.6 111.6 L797.9 110.4 L798.1 109.3 L798.3 107.9 L798.6 106.0 L798.8 104.1 L799.0 102.0 L799.3 99.5 L799.5 96.9 L799.7 94.2 L800.0 91.9 L800.2 90.3 L800.4 89.8 L800.7 90.2 L800.9 91.7 L801.1 94.0 L801.4 96.6 L801.6 99.3 L801.8 101.7 L802.1 103.8 L802.3 105.8 L802.5 107.5 L802.7 109.1 L803.0 110.2 L803.2 111.3 L803.4 112.3 L803.7 112.9 L803.9 113.8 L804.1 114.5 L804.4 115.0 L804.6 115.5 L804.8 115.9 L805.1 116.2 L805.3 116.6 L805.5 116.9 L805.8 117.0 L806.0 117.4 L806.2 117.7 L806.5 118.1 L806.7 118.3 L806.9 118.6 L807.1 118.8 L807.4 118.8 L807.6 119.1 L807.8 119.5 L808.1 119.4 L808.3 119.4 L808.5 119.6 L808.8 119.8 L809.0 120.0 L809.2 120.2 L809.5 120.0 L809.7 120.1 L810.1 120.3 L810.5 120.6 L810.9 120.5 L811.3 120.6 L811.7 120.7 L812.1 120.8 L812.5 120.9 L812.9 121.0 L813.3 120.9 L813.8 121.0 L814.2 121.2 L814.6 121.2 L815.0 120.9 L815.4 121.1 L815.8 121.2 L816.2 121.3 L816.6 121.6 L817.0 121.7 L817.4 121.7 L817.8 121.8 L818.2 122.1 L818.6 121.9 L819.0 121.9 L819.4 121.8 L819.8 122.0 L820.2 122.1 L820.6 122.0 L821.0 122.1 L821.5 122.0 L821.9 121.8 L822.3 122.0 L822.7 122.2 L823.1 122.1 L823.5 122.1 L823.9 121.9 L824.3 122.2 L824.7 122.1 L825.1 122.0 L825.5 122.1 L825.9 122.3 L826.3 122.3 L826.7 122.3 L827.1 122.3 L827.5 122.4 L827.9 122.3 L828.3 122.3 L828.8 122.3 L829.2 122.2 L829.6 122.4 L830.0 122.2 L830.4 122.1 L830.8 122.0 L831.2 121.9 L831.6 121.9 L832.0 121.5 L832.4 121.1 L832.8 120.9 L833.2 120.7 L833.6 120.6 L834.0 120.8 L834.4 121.2 L834.8 121.6 L835.2 121.8 L835.6 122.0 L836.1 122.4 L836.5 122.4 L836.9 122.6 L837.3 122.5 L837.7 122.8 L838.1 122.9 L838.5 122.8 L838.9 122.8 L839.3 122.9 L839.7 122.7 L840.1 122.8 L840.5 123.0 L840.9 123.0 L841.3 123.0 L841.7 122.9 L842.1 123.0 L842.5 122.9 L842.9 123.1 L843.3 123.0 L843.8 123.0 L844.2 122.8 L844.6 122.9 L845.0 123.0 L845.4 123.1 L845.8 123.0 L846.2 123.0 L846.6 123.0 L847.0 123.0 L847.4 123.1 L847.8 123.1 L848.2 123.3 L848.6 123.0 L849.0 123.2 L849.4 123.1 L849.8 123.0 L850.2 123.2 L850.6 123.2 L851.1 123.3 L851.5 123.2 L851.9 123.0 L852.3 122.9 L852.7 122.7 L853.1 122.2 L853.5 121.8 L853.9 121.3 L854.3 121.4 L854.7 121.6 L855.1 122.0 L855.5 122.3 L855.9 122.9 L856.3 123.3 L856.7 123.6 L857.1 123.6 L857.5 123.6 L857.9 123.6 L858.4 123.8 L858.8 123.8 L859.2 124.0 L859.6 124.0 L860.0 124.0 L860.4 123.9 L860.8 123.9 L861.2 124.1 L861.6 124.0 L862.0 124.2 L862.4 124.0 L862.8 124.2 L863.2 124.5 L863.6 124.5 L864.0 124.5 L864.4 124.3 L864.8 124.2 L865.2 124.2 L865.6 124.3 L866.1 124.1 L866.5 124.1 L866.9 124.3 L867.3 124.3 L867.7 124.4 L868.1 124.5 L868.5 124.3 L868.9 124.2 L869.3 124.2 L869.7 124.2 L870.1 124.2 L870.5 124.0 L870.9 124.1 L871.3 124.0 L871.7 124.0 L872.1 123.8 L872.5 123.8 L872.9 123.7 L873.4 123.6 L873.8 123.6 L874.2 123.6 L874.6 123.7 L875.0 123.9 L875.4 124.1 L875.8 124.1 L876.2 124.2 L876.6 124.3 L877.0 124.2 L877.4 124.4 L877.8 124.8 L878.2 124.8 L878.6 124.7 L879.0 124.7 L879.4 124.9 L879.8 124.8 L880.2 124.7 L880.7 124.7 L881.1 124.5 L881.5 124.3 L881.9 124.0 L882.3 123.7 L882.7 123.7 L883.1 123.6 L883.5 123.5 L883.9 123.7 L884.3 124.0 L884.7 124.3 L885.1 124.6 L885.5 124.9 L885.9 125.1 L886.3 125.1 L886.7 125.2 L887.1 125.3 L887.5 125.3 L887.9 125.2 L888.4 125.3 L888.8 125.3 L889.2 125.4 L889.6 125.5 L890.0 125.4 L890.4 125.4 L890.8 125.5 L891.2 125.5 L891.6 125.6 L892.0 125.6 L892.4 125.5 L892.8 125.3 L893.2 125.3 L893.6 125.3 L894.0 125.4 L894.8 125.5 L895.7 125.7 L896.5 125.6 L897.3 125.7 L898.1 125.6 L898.9 125.6 L899.7 125.6 L900.5 125.6 L901.3 125.6 L902.1 125.6 L903.0 125.8 L903.8 125.8 L904.6 125.9 L905.4 125.8 L906.2 125.6 L907.0 125.6 L907.8 125.8 L908.6 125.8 L909.4 126.0 L910.2 125.9 L911.1 126.1 L911.9 126.1 L912.7 126.2 L913.5 126.2 L914.3 126.3 L915.1 126.3 L915.9 126.2 L916.7 126.1 L917.5 126.2 L918.4 126.1 L919.2 126.0 L920.0 126.1 L920.8 126.2 L921.6 126.2 L922.4 126.2 L923.2 126.3 L924.0 126.1 L924.8 126.0 L925.7 125.7 L926.5 125.5 L927.3 125.5 L928.1 125.4 L928.9 125.8 L929.7 126.1 L930.5 126.2 L931.3 126.3 L932.1 126.5 L933.0 126.4 L933.8 126.5 L934.6 126.6 L935.4 126.6 L936.2 126.3 L937.0 126.3 L937.8 126.3 L938.6 126.2 L939.4 126.2 L940.3 126.3 L941.1 126.3 L941.9 126.3 L942.7 126.5 L943.5 126.4 L944.3 126.3 L945.1 126.4 L945.9 126.5 L946.7 126.6 L947.6 126.5 L948.4 126.5 L949.2 126.6 L950.0 126.7 L950.8 126.4 L951.6 126.5 L952.4 126.2 L953.2 126.5 L954.0 126.5 L954.8 126.4 L955.7 126.2 L956.5 126.2 L957.3 126.0 L958.1 126.1 L958.9 126.1 L959.7 126.0 L960.5 126.1 L961.3 126.4 L962.1 126.3 L963.0 126.4 L963.8 126.7 L964.6 126.7 L965.4 126.6 L966.2 126.6 L967.0 126.7 L967.8 126.6 L968.6 126.6 L969.4 126.4 L970.3 126.3 L971.1 126.3 L971.9 126.5 L972.7 126.5 L973.5 126.6 L974.3 126.7 L975.1 126.7 L975.9 126.7 L976.7 126.7 L977.6 126.8 L978.4 126.6 L979.2 126.7 L980.0 126.7 L980.8 126.7 L981.6 126.7 L982.4 126.7 L983.2 126.7 L984.0 126.8 L984.9 126.8 L985.7 126.9 L986.5 126.9 L987.3 126.9 L988.1 126.9 L988.9 127.0 L989.7 127.0 L990.5 126.9 L991.3 127.1 L992.1 127.1 L993.0 127.1 L993.8 127.1 L994.6 127.0 L995.4 126.9 L996.2 126.9 L997.0 126.9 L997.8 126.9 L998.6 126.7 L999.4 126.9 L1000.3 126.8 L1001.1 126.8 L1001.9 126.9 L1002.7 127.0 L1003.9 126.9" fill="none" stroke="#808000" stroke-width="1.22" stroke-linejoin="round"/>
<rect x="598.40" y="10.60" width="405.45" height="427.20" fill="none" stroke="#000" stroke-width="1.80"/>
<path d="M598.40 437.80V444.80M627.36 437.80V441.80M656.32 437.80V444.80M685.28 437.80V441.80M714.24 437.80V444.80M743.20 437.80V441.80M772.16 437.80V444.80M801.12 437.80V441.80M830.09 437.80V444.80M859.05 437.80V441.80M888.01 437.80V444.80M916.97 437.80V441.80M945.93 437.80V444.80M974.89 437.80V441.80M1003.85 437.80V444.80" stroke="#000" stroke-width="1.80" fill="none"/>
<text transform="translate(598.40 470.05) scale(1.0000 0.9980)" font-size="27.40" text-anchor="middle" stroke="#000" stroke-width="0.40">5</text>
<text transform="translate(656.32 470.05) scale(1.0000 0.9980)" font-size="27.40" text-anchor="middle" stroke="#000" stroke-width="0.40">10</text>
<path d="M642.37 466.71H647.77V470.95H642.37ZM650.59 466.71H655.78V470.95H650.59Z" fill="#fff"/>
<text transform="translate(714.24 470.05) scale(1.0000 0.9980)" font-size="27.40" text-anchor="middle" stroke="#000" stroke-width="0.40">15</text>
<path d="M700.29 466.71H705.69V470.95H700.29ZM708.52 466.71H713.71V470.95H708.52Z" fill="#fff"/>
<text transform="translate(772.16 470.05) scale(1.0000 0.9980)" font-size="27.40" text-anchor="middle" stroke="#000" stroke-width="0.40">20</text>
<text transform="translate(830.09 470.05) scale(1.0000 0.9980)" font-size="27.40" text-anchor="middle" stroke="#000" stroke-width="0.40">25</text>
<text transform="translate(888.01 470.05) scale(1.0000 0.9980)" font-size="27.40" text-anchor="middle" stroke="#000" stroke-width="0.40">30</text>
<text transform="translate(945.93 470.05) scale(1.0000 0.9980)" font-size="27.40" text-anchor="middle" stroke="#000" stroke-width="0.40">35</text>
<text transform="translate(1003.85 470.05) scale(1.0000 0.9980)" font-size="27.40" text-anchor="middle" stroke="#000" stroke-width="0.40">40</text>
<text transform="translate(705.40 509.80) scale(1.0000 1.0150)" font-size="27.40" textLength="191.70" lengthAdjust="spacing" stroke="#000" stroke-width="0.40">2Theta / degree</text>
<text transform="translate(561.55 317.50) rotate(-90) scale(1.0000 1.0400)" font-size="27.40" stroke="#000" stroke-width="0.40">Intensity / cps</text>
<text transform="translate(949.60 56.70)" font-size="27.90" stroke="#000" stroke-width="0.35">B</text>
<text transform="translate(611.00 60.10) scale(1.0000 1.0200)" font-size="21.40" stroke="#000" stroke-width="0.20">50000</text>
<path d="M674.70 40.50V64.30M671.50 40.50H677.90M671.50 64.30H677.90" stroke="#000" stroke-width="1.40" fill="none"/>
<text transform="translate(817.24 115.00) scale(1.0000 0.9700)" font-size="15.40" textLength="187.22" lengthAdjust="spacing" stroke="#000" stroke-width="0.28">HB(77)-AT(0.05 M)-NT(2 M)</text>
<text transform="translate(815.34 161.30) scale(1.0000 0.9700)" font-size="15.40" textLength="187.12" lengthAdjust="spacing" stroke="#000" stroke-width="0.28">HB(77)-AT(0.05 M)-NT(1 M)</text><path transform="translate(815.34 161.30) scale(1.0000 0.9700)" d="M157.32 -2.19H160.58V0.80H157.32ZM162.22 -2.19H165.36V0.80H162.22Z" fill="#fff"/>
<text transform="translate(802.24 210.80) scale(1.0000 0.9700)" font-size="15.40" textLength="199.62" lengthAdjust="spacing" stroke="#000" stroke-width="0.28">HB(77)-AT(0.05 M)-NT(0.2 M)</text>
<text transform="translate(878.94 257.50) scale(1.0000 0.9700)" font-size="15.40" textLength="120.02" lengthAdjust="spacing" stroke="#000" stroke-width="0.28">HB(77)-AT(0.2 M)</text>
<text transform="translate(880.64 303.40) scale(1.0000 0.9700)" font-size="15.40" textLength="119.72" lengthAdjust="spacing" stroke="#000" stroke-width="0.28">HB(77)-AT(0.1 M)</text><path transform="translate(880.64 303.40) scale(1.0000 0.9700)" d="M89.69 -2.19H92.95V0.80H89.69ZM94.59 -2.19H97.73V0.80H94.59Z" fill="#fff"/>
<text transform="translate(871.64 349.50) scale(1.0000 0.9700)" font-size="15.40" textLength="128.72" lengthAdjust="spacing" stroke="#000" stroke-width="0.28">HB(77)-AT(0.05 M)</text>
<text transform="translate(948.04 398.30) scale(1.0000 0.9700)" font-size="15.40" textLength="48.32" lengthAdjust="spacing" stroke="#000" stroke-width="0.28">HB(77)</text>
</g>
</svg>
</body>
</html>
